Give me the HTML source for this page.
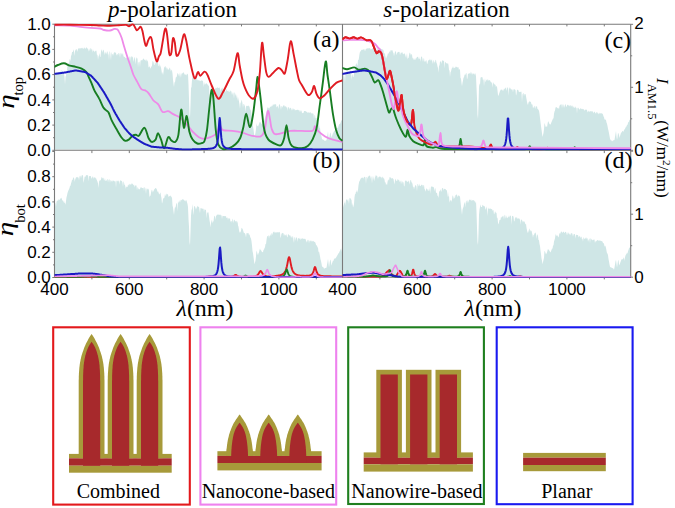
<!DOCTYPE html>
<html><head><meta charset="utf-8"><title>Figure</title>
<style>html,body{margin:0;padding:0;background:#fff;width:675px;height:508px;overflow:hidden}svg{display:block;position:absolute;left:0;top:0}</style>
</head><body>
<svg width="675" height="508" viewBox="0 0 675 508"><defs>
<clipPath id="ca"><rect x="54.5" y="23" width="288" height="127.5"/></clipPath>
<clipPath id="cb"><rect x="54.5" y="150" width="288" height="127.8"/></clipPath>
<clipPath id="cc"><rect x="342.5" y="23" width="288.2" height="127.5"/></clipPath>
<clipPath id="cc2"><rect x="342.5" y="23" width="80" height="100"/></clipPath>
<clipPath id="cd"><rect x="342.5" y="150" width="288.2" height="127.8"/></clipPath>
</defs><path d="M54.5 149.6 L54.5 76.5 L55 77.1 L55.5 74.5 L56 74.5 L56.5 73.6 L57 73 L57.5 72.6 L58 72.4 L58.5 72.3 L59 72.4 L59.5 71.7 L60 72.4 L60.5 70.6 L61 73.4 L61.5 69.7 L62 71.2 L62.5 71.2 L63 72.6 L63.5 72.4 L64 73.5 L64.5 76.7 L65 84.6 L65.5 76.8 L66 75.2 L66.5 72.7 L67 70 L67.5 65.2 L68 63.7 L68.5 62.6 L69 64.3 L69.5 59.7 L70 58.9 L70.5 61.5 L71 56 L71.5 55.1 L72 52.2 L72.5 51.8 L73 52.1 L73.5 49.2 L74 51.3 L74.5 56.1 L75 51 L75.5 49.3 L76 51.1 L76.5 48.7 L77 49.4 L77.5 52.1 L78 48.7 L78.5 48.6 L79 48.2 L79.5 47.9 L80 49.6 L80.5 48 L81 48 L81.5 48.5 L82 47.5 L82.5 48.7 L83 47.5 L83.5 48.7 L84 49.1 L84.5 47.3 L85 48 L85.5 49 L86 47.9 L86.5 47.1 L87 48.2 L87.5 48.7 L88 48.2 L88.5 51.8 L89 48.8 L89.5 51.3 L90 48 L90.5 48.2 L91 50.7 L91.5 49 L92 48.6 L92.5 52.7 L93 49.3 L93.5 50.9 L94 50.9 L94.5 52.4 L95 50.6 L95.5 51.4 L96 50.2 L96.5 51.3 L97 55.7 L97.5 54.3 L98 60 L98.5 56.4 L99 55.3 L99.5 53 L100 56.7 L100.5 57 L101 51.5 L101.5 50.1 L102 49.2 L102.5 52.8 L103 50.6 L103.5 49.5 L104 51.3 L104.5 55.2 L105 51.5 L105.5 53.9 L106 51.2 L106.5 54.5 L107 52.3 L107.5 50.9 L108 55.2 L108.5 52.9 L109 60.6 L109.5 51.5 L110 51.6 L110.5 55.8 L111 60.5 L111.5 51.7 L112 54 L112.5 54.1 L113 56 L113.5 54 L114 52.4 L114.5 52.3 L115 52.4 L115.5 52.5 L116 53 L116.5 55.8 L117 54 L117.5 54.1 L118 55.7 L118.5 52.9 L119 53.1 L119.5 54 L120 58.1 L120.5 53.8 L121 52.4 L121.5 54.9 L122 52.7 L122.5 54.9 L123 53 L123.5 56.4 L124 56.6 L124.5 56.9 L125 57.1 L125.5 58.2 L126 58.1 L126.5 57.7 L127 57.6 L127.5 57.5 L128 58.9 L128.5 58 L129 56.4 L129.5 56.4 L130 61.6 L130.5 57.4 L131 56.3 L131.5 56.3 L132 58.1 L132.5 56.3 L133 57.5 L133.5 61.9 L134 59.4 L134.5 56.9 L135 57.7 L135.5 64.4 L136 59.7 L136.5 57.3 L137 57.9 L137.5 58.8 L138 67.4 L138.5 61.9 L139 62.4 L139.5 61.2 L140 67.3 L140.5 61.1 L141 60.1 L141.5 60.2 L142 60.6 L142.5 59.9 L143 58.8 L143.5 58.5 L144 59.3 L144.5 60.3 L145 59.3 L145.5 61.3 L146 59.3 L146.5 59.8 L147 62.1 L147.5 60 L148 61.4 L148.5 67.2 L149 67.3 L149.5 65.9 L150 67.8 L150.5 68.7 L151 67 L151.5 66.5 L152 65.4 L152.5 60.9 L153 61.2 L153.5 62.1 L154 65.1 L154.5 65 L155 61.3 L155.5 63.9 L156 61.9 L156.5 61.4 L157 62 L157.5 62.7 L158 62.8 L158.5 66 L159 66.2 L159.5 63.3 L160 68.1 L160.5 64.9 L161 67.6 L161.5 70.4 L162 74.1 L162.5 71.8 L163 75.2 L163.5 72.1 L164 68.1 L164.5 67.1 L165 66.5 L165.5 66.1 L166 68.6 L166.5 66.7 L167 70.6 L167.5 67.5 L168 69.6 L168.5 69.2 L169 70.1 L169.5 67.4 L170 68 L170.5 69.8 L171 71.8 L171.5 69.4 L172 70.3 L172.5 73.5 L173 79.6 L173.5 83.7 L174 87 L174.5 82 L175 82.6 L175.5 79.1 L176 76.8 L176.5 77.6 L177 75.3 L177.5 73 L178 73.6 L178.5 74.4 L179 76.5 L179.5 72.3 L180 78.2 L180.5 72.7 L181 77.6 L181.5 73.1 L182 74.3 L182.5 72.7 L183 73 L183.5 72.1 L184 73.2 L184.5 74.1 L185 75.2 L185.5 74.5 L186 74.3 L186.5 75.7 L187 73.3 L187.5 74.6 L188 74 L188.5 84.2 L189 99.3 L189.5 114.9 L190 117.3 L190.5 105.3 L191 87.9 L191.5 87 L192 79.9 L192.5 76.1 L193 76.9 L193.5 76.9 L194 79 L194.5 80 L195 80.6 L195.5 78.8 L196 77.8 L196.5 78 L197 80.8 L197.5 79.1 L198 80.7 L198.5 79.7 L199 80.7 L199.5 80 L200 81.4 L200.5 80.7 L201 80.6 L201.5 80.5 L202 80.2 L202.5 81.1 L203 80.7 L203.5 87.3 L204 81.4 L204.5 84 L205 84.9 L205.5 83.7 L206 83.5 L206.5 83 L207 84.2 L207.5 84.4 L208 84.6 L208.5 86.1 L209 85.8 L209.5 96.5 L210 98.4 L210.5 95.5 L211 93.9 L211.5 92.7 L212 92.2 L212.5 91.9 L213 89.3 L213.5 89.1 L214 91.5 L214.5 89 L215 89.5 L215.5 88.1 L216 87.6 L216.5 88.3 L217 88 L217.5 87 L218 88 L218.5 87.8 L219 88.3 L219.5 87 L220 89.1 L220.5 92.2 L221 88.3 L221.5 89.7 L222 87.4 L222.5 88.1 L223 90.9 L223.5 90.7 L224 89 L224.5 91.2 L225 92.8 L225.5 91 L226 91.5 L226.5 88.8 L227 90.5 L227.5 90.9 L228 90.7 L228.5 91.9 L229 89.6 L229.5 92.1 L230 92 L230.5 90.6 L231 90.8 L231.5 92.1 L232 95.2 L232.5 93.4 L233 92.1 L233.5 93.8 L234 98.8 L234.5 92.4 L235 92.4 L235.5 95.9 L236 93.8 L236.5 98.4 L237 94.6 L237.5 101 L238 96.8 L238.5 99.5 L239 101.4 L239.5 104.6 L240 109 L240.5 102.5 L241 102.7 L241.5 99.6 L242 100.9 L242.5 103.7 L243 108.1 L243.5 104.1 L244 103.9 L244.5 105.3 L245 106.6 L245.5 111.9 L246 106.4 L246.5 105.9 L247 105.5 L247.5 106.3 L248 105.7 L248.5 105.4 L249 106.6 L249.5 106.4 L250 109.4 L250.5 109.5 L251 110.7 L251.5 114.2 L252 119.1 L252.5 122.1 L253 126.4 L253.5 129.6 L254 133.3 L254.5 137.7 L255 135.2 L255.5 132.4 L256 128.9 L256.5 123.1 L257 126 L257.5 125.4 L258 126.8 L258.5 125.2 L259 124.1 L259.5 122.4 L260 121.7 L260.5 122.6 L261 123.1 L261.5 124.2 L262 124.3 L262.5 125.4 L263 123.4 L263.5 123.2 L264 121.5 L264.5 119.7 L265 117.7 L265.5 115.6 L266 113.7 L266.5 112 L267 109.3 L267.5 107 L268 108 L268.5 107.5 L269 109 L269.5 107.8 L270 107.3 L270.5 106.8 L271 106.2 L271.5 106.8 L272 104.9 L272.5 106.6 L273 103.7 L273.5 105.5 L274 103.8 L274.5 104.9 L275 103.7 L275.5 104.7 L276 103.8 L276.5 107.5 L277 106.7 L277.5 105.8 L278 106.9 L278.5 109 L279 104.2 L279.5 104.2 L280 105.3 L280.5 107.1 L281 109.9 L281.5 106 L282 106.3 L282.5 107.7 L283 105.6 L283.5 105.5 L284 105.5 L284.5 105.6 L285 107.6 L285.5 105.9 L286 106.3 L286.5 108 L287 106.6 L287.5 111 L288 106.9 L288.5 107.5 L289 107.3 L289.5 109.7 L290 107.6 L290.5 107.9 L291 108.2 L291.5 110.7 L292 107.8 L292.5 109.3 L293 110.5 L293.5 108.2 L294 109.2 L294.5 108.9 L295 110.8 L295.5 109.7 L296 110.2 L296.5 109.8 L297 110.3 L297.5 109.8 L298 109.5 L298.5 110.5 L299 110.1 L299.5 110.6 L300 112.5 L300.5 110.6 L301 110.4 L301.5 110.7 L302 113.1 L302.5 113.3 L303 112.4 L303.5 113.2 L304 110.9 L304.5 110.9 L305 111.1 L305.5 111.3 L306 111.2 L306.5 112.1 L307 111.8 L307.5 113.2 L308 111.8 L308.5 112.9 L309 112.1 L309.5 112.9 L310 112.6 L310.5 112.3 L311 112.7 L311.5 113.6 L312 113.4 L312.5 113.6 L313 113.2 L313.5 114 L314 118.9 L314.5 115.2 L315 115.1 L315.5 118.6 L316 118.1 L316.5 117.7 L317 120.7 L317.5 118.7 L318 119.9 L318.5 122.3 L319 124.1 L319.5 128 L320 127.7 L320.5 132.2 L321 133.7 L321.5 136.5 L322 138.9 L322.5 139.4 L323 139.6 L323.5 139.8 L324 140.3 L324.5 140.8 L325 140.8 L325.5 141 L326 140 L326.5 140.5 L327 136.7 L327.5 134.5 L328 131.2 L328.5 136.9 L329 139.7 L329.5 136.3 L330 133 L330.5 132.4 L331 134.9 L331.5 137.6 L332 136.1 L332.5 134.6 L333 133.1 L333.5 132.6 L334 131.3 L334.5 130.6 L335 130.7 L335.5 131 L336 129.9 L336.5 129.6 L337 128.8 L337.5 127.6 L338 127.9 L338.5 126.1 L339 124.6 L339.5 124 L340 124 L340.5 122.9 L341 121.3 L341.5 120.4 L342 119.7 L342.5 119 L342.7 149.6Z" fill="#cfe6e6" clip-path="url(#ca)"/>
<path d="M54.5 277.2 L54.5 204.1 L55 202.7 L55.5 203.4 L56 206.8 L56.5 201.8 L57 201 L57.5 200.2 L58 200.9 L58.5 199.6 L59 199.3 L59.5 200 L60 199.4 L60.5 198.1 L61 198.7 L61.5 197.6 L62 199.5 L62.5 201 L63 199.9 L63.5 202.8 L64 200.8 L64.5 202.9 L65 202.9 L65.5 204.7 L66 201 L66.5 197.2 L67 195.5 L67.5 193.1 L68 191.5 L68.5 190.3 L69 189.2 L69.5 188.1 L70 186 L70.5 185.7 L71 183.5 L71.5 181.9 L72 180 L72.5 180.1 L73 178.2 L73.5 177 L74 178.6 L74.5 181.9 L75 177.5 L75.5 179.9 L76 176.9 L76.5 177.5 L77 176.9 L77.5 176.8 L78 178.2 L78.5 176.9 L79 180.5 L79.5 176.7 L80 175.5 L80.5 176 L81 178.2 L81.5 175.9 L82 175 L82.5 175.4 L83 175 L83.5 183 L84 180.4 L84.5 177.3 L85 176.2 L85.5 177 L86 174.9 L86.5 175.1 L87 175.7 L87.5 175.2 L88 174.7 L88.5 181.4 L89 175.9 L89.5 176.3 L90 176 L90.5 176 L91 176.5 L91.5 178.7 L92 178.1 L92.5 176.8 L93 176.2 L93.5 178.9 L94 176.9 L94.5 178 L95 176.7 L95.5 178.5 L96 177.9 L96.5 179.5 L97 180.6 L97.5 181.7 L98 183.6 L98.5 188 L99 181.5 L99.5 181.1 L100 179.6 L100.5 180.8 L101 179.5 L101.5 177.2 L102 177.3 L102.5 178.3 L103 178.6 L103.5 177.4 L104 180.8 L104.5 180 L105 178.1 L105.5 181.3 L106 180.4 L106.5 180.8 L107 179.6 L107.5 178.8 L108 182.6 L108.5 180.1 L109 179.4 L109.5 179.3 L110 182.9 L110.5 179.9 L111 180.4 L111.5 180.7 L112 182.1 L112.5 181 L113 179.9 L113.5 181.1 L114 180.8 L114.5 181.1 L115 181.9 L115.5 180.5 L116 188 L116.5 180.4 L117 180.9 L117.5 180.4 L118 181.9 L118.5 180.8 L119 180.5 L119.5 184.8 L120 180.6 L120.5 180.5 L121 180.6 L121.5 181 L122 181.2 L122.5 182.8 L123 187 L123.5 180.9 L124 182.4 L124.5 184.9 L125 184.8 L125.5 189 L126 185.8 L126.5 187.4 L127 186.7 L127.5 187.3 L128 184.5 L128.5 184.7 L129 186 L129.5 184 L130 183.8 L130.5 184.4 L131 185 L131.5 183.5 L132 183.6 L132.5 183.7 L133 184.5 L133.5 185.6 L134 184.3 L134.5 187.4 L135 185.1 L135.5 185.9 L136 185 L136.5 186.1 L137 190.4 L137.5 187.3 L138 187.5 L138.5 188.9 L139 189.6 L139.5 189.3 L140 189 L140.5 187.4 L141 187.2 L141.5 187.4 L142 188 L142.5 188.1 L143 188.3 L143.5 187.2 L144 191.2 L144.5 187 L145 187.5 L145.5 188.9 L146 194 L146.5 187.8 L147 190.1 L147.5 188.2 L148 189.4 L148.5 188.4 L149 190.8 L149.5 197.5 L150 195.5 L150.5 196 L151 192.8 L151.5 190.6 L152 189.5 L152.5 192.7 L153 189.7 L153.5 192.1 L154 189.9 L154.5 188.9 L155 188.8 L155.5 188 L156 187.9 L156.5 189.1 L157 189.8 L157.5 192.2 L158 190.9 L158.5 192.4 L159 193.9 L159.5 194.6 L160 193.1 L160.5 192.4 L161 195.7 L161.5 198.2 L162 203.8 L162.5 201.9 L163 198.8 L163.5 198.2 L164 198.3 L164.5 197.3 L165 193.8 L165.5 195.6 L166 196.1 L166.5 193.7 L167 193.8 L167.5 194.6 L168 194.2 L168.5 197.3 L169 195.9 L169.5 196 L170 196.7 L170.5 195.5 L171 195.8 L171.5 197.5 L172 197.3 L172.5 205.5 L173 207.4 L173.5 211.2 L174 215.1 L174.5 209.8 L175 207 L175.5 207.8 L176 205.1 L176.5 203.2 L177 203.3 L177.5 211.4 L178 200.8 L178.5 202.7 L179 202.4 L179.5 200.1 L180 202.7 L180.5 200.6 L181 199.6 L181.5 200.5 L182 199.7 L182.5 199.2 L183 199.2 L183.5 199.5 L184 200.2 L184.5 201.1 L185 199.8 L185.5 201.8 L186 200.1 L186.5 200.4 L187 202.3 L187.5 203.9 L188 207.1 L188.5 219.1 L189 227.1 L189.5 242.1 L190 245.2 L190.5 232 L191 215.8 L191.5 210.3 L192 208.6 L192.5 204 L193 210.8 L193.5 215.3 L194 206.8 L194.5 206.1 L195 206.5 L195.5 208 L196 209.7 L196.5 208.1 L197 206.9 L197.5 205.6 L198 207.3 L198.5 206.7 L199 206.5 L199.5 210 L200 213.2 L200.5 208.1 L201 208.2 L201.5 208.5 L202 208.2 L202.5 208.7 L203 209.1 L203.5 208.4 L204 212.2 L204.5 209 L205 209.9 L205.5 209.6 L206 210.2 L206.5 218.4 L207 211.5 L207.5 213.4 L208 212 L208.5 212.8 L209 216.2 L209.5 220.3 L210 223 L210.5 227.6 L211 223 L211.5 221.1 L212 219.4 L212.5 223.6 L213 221.4 L213.5 221.4 L214 217.2 L214.5 215.8 L215 216 L215.5 219.9 L216 216.3 L216.5 215.5 L217 214.6 L217.5 214.8 L218 214.5 L218.5 214.4 L219 214.9 L219.5 214.7 L220 214.6 L220.5 214.7 L221 215.8 L221.5 214.9 L222 219.3 L222.5 215.4 L223 216.2 L223.5 216.1 L224 216 L224.5 216.2 L225 216 L225.5 216.3 L226 216.2 L226.5 218.1 L227 218 L227.5 217.2 L228 220.2 L228.5 217.7 L229 218.7 L229.5 218.5 L230 218.2 L230.5 221.9 L231 220.9 L231.5 221 L232 223.1 L232.5 218.5 L233 219.8 L233.5 223.3 L234 219.5 L234.5 219.9 L235 220.8 L235.5 221.7 L236 220.8 L236.5 221 L237 223 L237.5 221 L238 225.5 L238.5 226.8 L239 230.1 L239.5 233.1 L240 231.3 L240.5 232.8 L241 230.8 L241.5 227.8 L242 228.2 L242.5 228.8 L243 229.9 L243.5 231.8 L244 233.3 L244.5 232.7 L245 233.5 L245.5 234.7 L246 237.6 L246.5 233.3 L247 232.9 L247.5 233.6 L248 232.8 L248.5 233.3 L249 235.2 L249.5 234.1 L250 236.2 L250.5 237.7 L251 238.6 L251.5 241.2 L252 245.4 L252.5 250.9 L253 253.2 L253.5 256.9 L254 260.7 L254.5 264.3 L255 262.4 L255.5 260.4 L256 256.2 L256.5 250.5 L257 252 L257.5 253.9 L258 255.2 L258.5 253.3 L259 252.5 L259.5 249.9 L260 248.6 L260.5 250 L261 250.2 L261.5 251 L262 252.2 L262.5 252.1 L263 252.3 L263.5 249.8 L264 249.7 L264.5 247.9 L265 247.3 L265.5 243.8 L266 244.3 L266.5 239.9 L267 236.8 L267.5 236.1 L268 236.3 L268.5 234.7 L269 238.8 L269.5 235.7 L270 235.7 L270.5 233.9 L271 236.4 L271.5 233.7 L272 232.8 L272.5 235.3 L273 232.2 L273.5 232.2 L274 231.3 L274.5 232.3 L275 233 L275.5 231.9 L276 232.8 L276.5 232.4 L277 231.7 L277.5 232.4 L278 232.3 L278.5 232 L279 232.9 L279.5 231.7 L280 232.3 L280.5 238.3 L281 236.4 L281.5 233.6 L282 233.5 L282.5 232.7 L283 233.3 L283.5 233.3 L284 236.2 L284.5 233.8 L285 235.5 L285.5 234.6 L286 236 L286.5 233.7 L287 236.8 L287.5 237.5 L288 234.3 L288.5 234.3 L289 234.9 L289.5 235.6 L290 235.6 L290.5 235.5 L291 237.8 L291.5 236.1 L292 238.4 L292.5 236.5 L293 235.9 L293.5 240.2 L294 243.1 L294.5 236.8 L295 237.8 L295.5 241.1 L296 236.8 L296.5 237.7 L297 238 L297.5 242.1 L298 237.9 L298.5 238.2 L299 238.6 L299.5 239 L300 237.6 L300.5 240.2 L301 238.3 L301.5 239 L302 238.4 L302.5 238 L303 239.2 L303.5 238.6 L304 239.1 L304.5 238.7 L305 238.7 L305.5 238.9 L306 240.5 L306.5 241.4 L307 242.8 L307.5 239.6 L308 240.7 L308.5 239.5 L309 243.4 L309.5 240.2 L310 241.6 L310.5 240.1 L311 241.7 L311.5 240.2 L312 242.1 L312.5 241 L313 240.7 L313.5 241.1 L314 242.1 L314.5 241.7 L315 242.1 L315.5 243 L316 244.7 L316.5 245.4 L317 245.4 L317.5 247.6 L318 247.6 L318.5 252.6 L319 251.3 L319.5 253.7 L320 256.3 L320.5 259.3 L321 261 L321.5 263.5 L322 266.4 L322.5 266.7 L323 267.1 L323.5 267.5 L324 268.8 L324.5 268.4 L325 268 L325.5 267.9 L326 267.8 L326.5 267.7 L327 264.8 L327.5 262 L328 258.7 L328.5 263.1 L329 267.4 L329.5 263.8 L330 260.5 L330.5 259.4 L331 262.3 L331.5 265.8 L332 263.6 L332.5 262.1 L333 260.6 L333.5 260.9 L334 259 L334.5 258.3 L335 259 L335.5 257.9 L336 257.7 L336.5 256.7 L337 256.1 L337.5 255 L338 254.2 L338.5 253.3 L339 252.9 L339.5 251.6 L340 251 L340.5 249.4 L341 248.4 L341.5 252.2 L342 246.8 L342.5 247.5 L342.7 277.2Z" fill="#cfe6e6" clip-path="url(#cb)"/>
<path d="M342.5 149.6 L342.5 76.9 L343 77 L343.5 75 L344 75.1 L344.5 76.9 L345 82.9 L345.5 72.5 L346 72.1 L346.5 71.5 L347 72.1 L347.5 70.9 L348 71.5 L348.5 72 L349 70.5 L349.5 71.5 L350 70.8 L350.5 70.4 L351 72.6 L351.5 80.1 L352 74 L352.5 74.7 L353 77.1 L353.5 77.1 L354 73.5 L354.5 70.6 L355 68.9 L355.5 65.6 L356 64.1 L356.5 63.1 L357 65.3 L357.5 65.5 L358 59.8 L358.5 60.2 L359 57.8 L359.5 53.9 L360 51.7 L360.5 51.6 L361 50.5 L361.5 49.9 L362 49.4 L362.5 49.8 L363 49.9 L363.5 49.2 L364 49.2 L364.5 49.5 L365 51.6 L365.5 49.7 L366 48.7 L366.5 48.6 L367 48.9 L367.5 48.2 L368 48.1 L368.5 48.8 L369 47.7 L369.5 48.5 L370 48.1 L370.5 49.3 L371 49.5 L371.5 49.1 L372 49.1 L372.5 47.9 L373 48.9 L373.5 47.7 L374 48.4 L374.5 47.6 L375 47.9 L375.5 47 L376 47.5 L376.5 52.9 L377 47.8 L377.5 49.5 L378 49.4 L378.5 50 L379 49.1 L379.5 49.7 L380 48.5 L380.5 48.6 L381 48.9 L381.5 49 L382 49 L382.5 49.2 L383 50.4 L383.5 49.5 L384 54.4 L384.5 52.7 L385 53.4 L385.5 58.8 L386 55.2 L386.5 58.8 L387 56.7 L387.5 54.9 L388 53 L388.5 54 L389 52.3 L389.5 51 L390 52.7 L390.5 50.6 L391 50 L391.5 50.8 L392 50.1 L392.5 50.4 L393 52.3 L393.5 52.9 L394 56.3 L394.5 53.7 L395 52 L395.5 51 L396 52 L396.5 55.2 L397 53.6 L397.5 52.3 L398 52.3 L398.5 51.8 L399 51.9 L399.5 51.8 L400 55.3 L400.5 53.5 L401 52.2 L401.5 52.9 L402 52.2 L402.5 52.6 L403 54.5 L403.5 54.1 L404 53.6 L404.5 53.2 L405 54.4 L405.5 57.8 L406 53.6 L406.5 58.2 L407 52.7 L407.5 59.4 L408 57.7 L408.5 58.2 L409 55.3 L409.5 52.7 L410 52.8 L410.5 54.1 L411 55.8 L411.5 53.8 L412 54.5 L412.5 58.8 L413 57.4 L413.5 60.3 L414 58.1 L414.5 59.5 L415 60.3 L415.5 59.2 L416 57.6 L416.5 58.7 L417 56.6 L417.5 56.9 L418 57 L418.5 59.4 L419 56.2 L419.5 59.2 L420 58.4 L420.5 61.7 L421 56.9 L421.5 56.6 L422 56.8 L422.5 59.3 L423 62 L423.5 58.7 L424 57.9 L424.5 62.2 L425 60.7 L425.5 62 L426 59.7 L426.5 60.8 L427 63.9 L427.5 63.6 L428 60.8 L428.5 60.3 L429 60.2 L429.5 60.1 L430 58.6 L430.5 61 L431 59.5 L431.5 60.8 L432 59 L432.5 64.1 L433 61.1 L433.5 59.7 L434 63.9 L434.5 61.3 L435 62.4 L435.5 59.7 L436 59.9 L436.5 63 L437 63.7 L437.5 66.6 L438 68 L438.5 72.7 L439 65.8 L439.5 65.5 L440 61.2 L440.5 61.9 L441 60.8 L441.5 64 L442 61.3 L442.5 60.3 L443 60.2 L443.5 61.2 L444 60.4 L444.5 68.6 L445 61.8 L445.5 62.3 L446 62.9 L446.5 63.4 L447 62.9 L447.5 64 L448 63 L448.5 65.1 L449 70 L449.5 70.5 L450 77 L450.5 72.2 L451 71.6 L451.5 69.3 L452 68.1 L452.5 67.8 L453 66.1 L453.5 67.7 L454 68.5 L454.5 67.4 L455 68 L455.5 66.9 L456 66.3 L456.5 67.2 L457 67.1 L457.5 67.8 L458 66.9 L458.5 67.6 L459 70.5 L459.5 68.8 L460 69.6 L460.5 77.9 L461 78.6 L461.5 83.1 L462 86.3 L462.5 82.7 L463 80.6 L463.5 77.8 L464 77.3 L464.5 75.1 L465 74.2 L465.5 74.9 L466 72.9 L466.5 73.2 L467 79.5 L467.5 78 L468 73.2 L468.5 74.1 L469 73.4 L469.5 72.7 L470 74.6 L470.5 71.6 L471 74.2 L471.5 71.7 L472 75 L472.5 73.7 L473 73 L473.5 74 L474 73.4 L474.5 75 L475 72.9 L475.5 74 L476 76.3 L476.5 87.6 L477 98.9 L477.5 114.7 L478 119 L478.5 104.7 L479 87.1 L479.5 83.2 L480 84.9 L480.5 77.9 L481 77 L481.5 77.3 L482 77.3 L482.5 77.2 L483 80.5 L483.5 78.8 L484 86.3 L484.5 81.1 L485 78.2 L485.5 82 L486 81.3 L486.5 79.5 L487 79.9 L487.5 79 L488 81.4 L488.5 79.6 L489 80.8 L489.5 80 L490 80.2 L490.5 81.8 L491 81.7 L491.5 82.6 L492 83.6 L492.5 87.8 L493 81.7 L493.5 83.4 L494 83.6 L494.5 84.4 L495 84.5 L495.5 85 L496 87.4 L496.5 85.7 L497 86.4 L497.5 90.8 L498 95 L498.5 95.9 L499 93.9 L499.5 92.6 L500 91.1 L500.5 90.2 L501 89.3 L501.5 89.8 L502 89.8 L502.5 90.9 L503 89 L503.5 91.2 L504 88.2 L504.5 89.4 L505 88.2 L505.5 88.3 L506 87 L506.5 90.9 L507 89 L507.5 87 L508 88.1 L508.5 95.7 L509 87.2 L509.5 87.8 L510 89.5 L510.5 87.5 L511 89.8 L511.5 89.1 L512 89.9 L512.5 89.2 L513 92.5 L513.5 88.9 L514 89.8 L514.5 88.7 L515 90.1 L515.5 89.8 L516 95.7 L516.5 94 L517 89.8 L517.5 89.8 L518 90.1 L518.5 90.5 L519 92.4 L519.5 91.7 L520 91.9 L520.5 91.9 L521 91.2 L521.5 92.2 L522 102.2 L522.5 94.5 L523 93.4 L523.5 92.7 L524 96.5 L524.5 93.7 L525 94.6 L525.5 93.7 L526 96.2 L526.5 99 L527 101.9 L527.5 104.1 L528 104.9 L528.5 102.5 L529 102.1 L529.5 100.9 L530 101.9 L530.5 101.5 L531 102.3 L531.5 104.4 L532 104.2 L532.5 104.8 L533 108.4 L533.5 106.6 L534 108.6 L534.5 106 L535 105.7 L535.5 109.2 L536 105.7 L536.5 106.8 L537 106.3 L537.5 108.9 L538 109.1 L538.5 109.9 L539 110.8 L539.5 113.7 L540 118.1 L540.5 122 L541 126 L541.5 129.4 L542 133.2 L542.5 136.9 L543 135 L543.5 133.1 L544 129 L544.5 123 L545 124.3 L545.5 126.6 L546 126.9 L546.5 126 L547 127.3 L547.5 124.2 L548 121.5 L548.5 121.6 L549 122.9 L549.5 124 L550 124.6 L550.5 124.4 L551 123.4 L551.5 121.9 L552 121 L552.5 119.7 L553 118.5 L553.5 118.5 L554 113.8 L554.5 111.4 L555 110.6 L555.5 107.5 L556 107.2 L556.5 107 L557 107.7 L557.5 108.5 L558 107.6 L558.5 108.2 L559 109.3 L559.5 105.4 L560 105.5 L560.5 104.4 L561 104.5 L561.5 104.3 L562 108.3 L562.5 104.9 L563 103.9 L563.5 105.2 L564 107.9 L564.5 106.6 L565 104.8 L565.5 103.9 L566 105.9 L566.5 107.2 L567 105.6 L567.5 104.7 L568 104.7 L568.5 105.9 L569 104.5 L569.5 106.4 L570 105.5 L570.5 104.9 L571 107.1 L571.5 105.7 L572 105.4 L572.5 105.7 L573 107.9 L573.5 106 L574 107.7 L574.5 108 L575 106.3 L575.5 107 L576 108.3 L576.5 107.4 L577 113.6 L577.5 107.5 L578 108.3 L578.5 107.6 L579 109.5 L579.5 109.6 L580 108.7 L580.5 108.3 L581 108.5 L581.5 109.2 L582 108.5 L582.5 109.3 L583 109 L583.5 109.3 L584 109.4 L584.5 111.1 L585 109.5 L585.5 109.7 L586 109.7 L586.5 109.6 L587 110.3 L587.5 111.8 L588 112.4 L588.5 110.7 L589 110.7 L589.5 112.3 L590 111.1 L590.5 111.2 L591 111.6 L591.5 110.7 L592 112.6 L592.5 110.9 L593 111.6 L593.5 113.6 L594 111.9 L594.5 111.6 L595 112.6 L595.5 113.8 L596 112.5 L596.5 111.8 L597 114 L597.5 112 L598 113.3 L598.5 114.6 L599 112.6 L599.5 113.3 L600 113.9 L600.5 113 L601 113.3 L601.5 113.2 L602 113.5 L602.5 113.7 L603 114.6 L603.5 116.4 L604 117.1 L604.5 119.9 L605 118.6 L605.5 119.9 L606 120 L606.5 122.4 L607 123.8 L607.5 126.1 L608 128.7 L608.5 130.7 L609 133.3 L609.5 136 L610 138.8 L610.5 139.8 L611 140.6 L611.5 140.2 L612 141.6 L612.5 141.1 L613 140.5 L613.5 140.3 L614 140.3 L614.5 140 L615 137.1 L615.5 134.1 L616 131.1 L616.5 136.5 L617 139.7 L617.5 137.5 L618 132.7 L618.5 133.6 L619 134.9 L619.5 138.1 L620 135.9 L620.5 134.5 L621 132.7 L621.5 132.5 L622 131.8 L622.5 130.9 L623 131 L623.5 132.1 L624 130 L624.5 129.5 L625 128.8 L625.5 127.8 L626 126.6 L626.5 126.8 L627 124.8 L627.5 124.9 L628 123 L628.5 121.7 L629 121.9 L629.5 119.6 L630 120.3 L630.5 119.5 L630.7 149.6Z" fill="#cfe6e6" clip-path="url(#cc)"/>
<path d="M342.5 277.2 L342.5 208.7 L343 203.9 L343.5 207.8 L344 203.5 L344.5 202.9 L345 200.8 L345.5 205.8 L346 199.4 L346.5 199.5 L347 199.7 L347.5 200.9 L348 198.5 L348.5 201.1 L349 204.1 L349.5 197.6 L350 198.5 L350.5 197.9 L351 199.6 L351.5 199.8 L352 205.7 L352.5 202.7 L353 207.5 L353.5 206.3 L354 204.1 L354.5 197.3 L355 194.2 L355.5 194.1 L356 191.6 L356.5 192 L357 189.4 L357.5 193 L358 190.1 L358.5 185.2 L359 182.6 L359.5 181.1 L360 180.4 L360.5 178.7 L361 178.5 L361.5 177.6 L362 178.3 L362.5 177.3 L363 178 L363.5 178.7 L364 176.5 L364.5 176.9 L365 177.1 L365.5 177.8 L366 184.1 L366.5 177 L367 177.1 L367.5 179.1 L368 176.1 L368.5 176.9 L369 175.5 L369.5 176.1 L370 175.3 L370.5 178.9 L371 175.8 L371.5 177.7 L372 183.6 L372.5 178.5 L373 175.5 L373.5 180.3 L374 176 L374.5 181.4 L375 177.7 L375.5 176 L376 174.8 L376.5 176.3 L377 175.4 L377.5 177.3 L378 178.9 L378.5 176.7 L379 177.2 L379.5 175.9 L380 177.2 L380.5 176.3 L381 177.7 L381.5 177 L382 178.8 L382.5 176.6 L383 176.9 L383.5 178.6 L384 178.3 L384.5 179.8 L385 182.7 L385.5 182.1 L386 184.9 L386.5 183.4 L387 185.5 L387.5 182.2 L388 179.8 L388.5 179.4 L389 181 L389.5 177.5 L390 176.7 L390.5 177.7 L391 177.7 L391.5 178.7 L392 178.3 L392.5 178.1 L393 178.7 L393.5 178.9 L394 181.9 L394.5 184.5 L395 179.9 L395.5 178.6 L396 180.7 L396.5 180.5 L397 181.5 L397.5 179.5 L398 179 L398.5 180.6 L399 179.4 L399.5 181.5 L400 181.9 L400.5 180.3 L401 184.2 L401.5 180 L402 184.3 L402.5 180.9 L403 182.3 L403.5 182.3 L404 186.5 L404.5 186.1 L405 180.4 L405.5 180.4 L406 181.6 L406.5 180.3 L407 181.9 L407.5 181.4 L408 181.9 L408.5 181 L409 180.5 L409.5 184.7 L410 182 L410.5 179.9 L411 180 L411.5 182.4 L412 182.6 L412.5 184.1 L413 186.9 L413.5 186.4 L414 189.6 L414.5 187.3 L415 186.3 L415.5 185 L416 185.3 L416.5 186.5 L417 191.5 L417.5 184 L418 184 L418.5 185.8 L419 186.4 L419.5 183.6 L420 186.3 L420.5 186.1 L421 185.6 L421.5 184.5 L422 184.9 L422.5 184.8 L423 187.2 L423.5 185 L424 185.1 L424.5 189 L425 189.5 L425.5 191.8 L426 189.8 L426.5 188.2 L427 188.8 L427.5 189.5 L428 190.9 L428.5 190.8 L429 188.5 L429.5 191.5 L430 186.3 L430.5 194 L431 186.5 L431.5 186.5 L432 186.8 L432.5 186.5 L433 187.2 L433.5 186.7 L434 188 L434.5 191.6 L435 188 L435.5 188.8 L436 193.1 L436.5 192.8 L437 192.8 L437.5 195.8 L438 196 L438.5 198 L439 192.6 L439.5 191.1 L440 190.8 L440.5 189.1 L441 191.8 L441.5 191.3 L442 188.3 L442.5 188.2 L443 187.7 L443.5 190.7 L444 188.5 L444.5 189 L445 189 L445.5 189 L446 190.1 L446.5 189.9 L447 191.1 L447.5 197.4 L448 191.5 L448.5 196.9 L449 195.7 L449.5 202.7 L450 200.7 L450.5 200.6 L451 199.6 L451.5 202.1 L452 199.8 L452.5 195.5 L453 195.7 L453.5 199.4 L454 195.7 L454.5 198.5 L455 198.1 L455.5 194.8 L456 195.5 L456.5 194.2 L457 194.8 L457.5 197.2 L458 195.7 L458.5 195.4 L459 195.6 L459.5 196.3 L460 196.6 L460.5 201.5 L461 206.5 L461.5 210.5 L462 214.9 L462.5 209.8 L463 208 L463.5 207 L464 204.3 L464.5 202.9 L465 201.7 L465.5 207.4 L466 200.6 L466.5 201.1 L467 203.4 L467.5 201.3 L468 199.8 L468.5 203.1 L469 200.2 L469.5 199.5 L470 199.8 L470.5 200.4 L471 199.1 L471.5 200.8 L472 200.8 L472.5 199.9 L473 200.5 L473.5 200.2 L474 200 L474.5 201.5 L475 201.2 L475.5 203.4 L476 201 L476.5 212 L477 227.7 L477.5 242.1 L478 244.9 L478.5 233.2 L479 215.1 L479.5 209.5 L480 207.1 L480.5 204.2 L481 206.9 L481.5 206.9 L482 206.9 L482.5 205.1 L483 204.8 L483.5 206.3 L484 205.8 L484.5 206.2 L485 207 L485.5 210 L486 208.4 L486.5 206.2 L487 210 L487.5 216 L488 207.3 L488.5 209 L489 208.2 L489.5 208.7 L490 209 L490.5 208.2 L491 208.9 L491.5 209.3 L492 208.8 L492.5 211 L493 209.8 L493.5 210.4 L494 214.5 L494.5 213.5 L495 211.3 L495.5 212.1 L496 213.2 L496.5 212.5 L497 218.5 L497.5 217.2 L498 222.7 L498.5 224.4 L499 222.4 L499.5 220.1 L500 220 L500.5 219.7 L501 216.6 L501.5 218 L502 216.5 L502.5 216.7 L503 215.6 L503.5 216.5 L504 219.5 L504.5 215.4 L505 214.6 L505.5 217.3 L506 218.8 L506.5 215.2 L507 218 L507.5 218.2 L508 216.6 L508.5 217.4 L509 215 L509.5 217.8 L510 215.8 L510.5 215.6 L511 216.5 L511.5 225 L512 216.3 L512.5 215.7 L513 216.2 L513.5 216.4 L514 221.2 L514.5 221.2 L515 217.7 L515.5 217 L516 218.7 L516.5 217.2 L517 217.2 L517.5 219 L518 218.3 L518.5 218.7 L519 218 L519.5 219.1 L520 219.7 L520.5 224.8 L521 218.8 L521.5 220.1 L522 220.3 L522.5 221 L523 222.7 L523.5 221 L524 221.5 L524.5 221.5 L525 223.1 L525.5 224.5 L526 223.8 L526.5 227.8 L527 230.2 L527.5 232.2 L528 233.1 L528.5 231.3 L529 229.4 L529.5 228.3 L530 231.9 L530.5 230 L531 230.7 L531.5 230.8 L532 233.1 L532.5 234.7 L533 237.8 L533.5 234.7 L534 235 L534.5 233.6 L535 232.8 L535.5 232.6 L536 234 L536.5 239.1 L537 234.3 L537.5 234.8 L538 236.1 L538.5 240.3 L539 240 L539.5 244.1 L540 246.1 L540.5 250.6 L541 254 L541.5 258.4 L542 260.7 L542.5 264.3 L543 262.1 L543.5 260.1 L544 257.7 L544.5 250.7 L545 251.6 L545.5 252.9 L546 254.6 L546.5 253.5 L547 252.6 L547.5 250.5 L548 248.8 L548.5 249.8 L549 250 L549.5 251 L550 251.7 L550.5 252.5 L551 251.2 L551.5 249.9 L552 248.5 L552.5 248.7 L553 245.6 L553.5 245.4 L554 241.5 L554.5 240 L555 238.2 L555.5 234.8 L556 234.3 L556.5 236.2 L557 235.2 L557.5 235.5 L558 236.7 L558.5 237.5 L559 235.2 L559.5 232.8 L560 234.1 L560.5 233 L561 231.4 L561.5 231.6 L562 232.5 L562.5 232.8 L563 231.9 L563.5 231.5 L564 232.2 L564.5 233.2 L565 232.3 L565.5 231.7 L566 231.9 L566.5 233.3 L567 235.4 L567.5 233.4 L568 231.9 L568.5 233.2 L569 233.9 L569.5 234.8 L570 232.7 L570.5 235.4 L571 233.6 L571.5 233.2 L572 232.9 L572.5 234.3 L573 236.7 L573.5 234.4 L574 233.9 L574.5 234.1 L575 234.6 L575.5 238.7 L576 234.8 L576.5 234.8 L577 235.2 L577.5 234.9 L578 235.1 L578.5 236.8 L579 237.5 L579.5 235.7 L580 236.1 L580.5 238.1 L581 237 L581.5 236.5 L582 239.4 L582.5 238.5 L583 241.7 L583.5 236.7 L584 238.5 L584.5 239.2 L585 238.1 L585.5 238.8 L586 237.1 L586.5 238.2 L587 239.1 L587.5 237.8 L588 242 L588.5 239.9 L589 239.3 L589.5 238.2 L590 243.2 L590.5 238.2 L591 238.5 L591.5 239.4 L592 239.7 L592.5 240.5 L593 239.6 L593.5 240.2 L594 238.9 L594.5 240.1 L595 242.9 L595.5 241.5 L596 240.7 L596.5 241.6 L597 240.1 L597.5 240 L598 240.8 L598.5 240.8 L599 240.1 L599.5 240.5 L600 241.2 L600.5 240.5 L601 240.7 L601.5 241.2 L602 241.1 L602.5 241.7 L603 242.9 L603.5 243.3 L604 243.6 L604.5 246.8 L605 245.6 L605.5 246.2 L606 247.9 L606.5 250.8 L607 253.2 L607.5 253.4 L608 255.2 L608.5 258.9 L609 261.5 L609.5 264.4 L610 266.7 L610.5 267.2 L611 267.5 L611.5 267.4 L612 267.9 L612.5 268.2 L613 268 L613.5 268.9 L614 269.8 L614.5 267.5 L615 264.4 L615.5 261.5 L616 259.8 L616.5 263.9 L617 267.5 L617.5 264.2 L618 260.7 L618.5 260 L619 263.8 L619.5 265.4 L620 263.6 L620.5 261.9 L621 260.7 L621.5 259.6 L622 258.9 L622.5 259.3 L623 259.4 L623.5 257.8 L624 257.6 L624.5 261.1 L625 257.2 L625.5 255.4 L626 254.4 L626.5 254.1 L627 252.6 L627.5 253.8 L628 251.2 L628.5 249.9 L629 248.2 L629.5 248.1 L630 246.7 L630.5 246.5 L630.7 277.2Z" fill="#cfe6e6" clip-path="url(#cd)"/>
<path d="M54.5 24.2H630.7M54.5 150.3H630.7M54.5 277.2H630.7M54.5 24.2V277.2M342.5 24.2V277.2M630.7 24.2V277.2" stroke="#7a7a7a" stroke-width="1.1" fill="none"/>
<path d="M91.9 24.2v2.2 M91.9 150.3v2.8 M91.9 277.2v2.2 M129.3 24.2v2.2 M129.3 150.3v2.8 M129.3 277.2v2.2 M166.7 24.2v2.2 M166.7 150.3v2.8 M166.7 277.2v2.2 M204.1 24.2v2.2 M204.1 150.3v2.8 M204.1 277.2v2.2 M241.5 24.2v2.2 M241.5 150.3v2.8 M241.5 277.2v2.2 M278.9 24.2v2.2 M278.9 150.3v2.8 M278.9 277.2v2.2 M316.3 24.2v2.2 M316.3 150.3v2.8 M316.3 277.2v2.2 M379.9 24.2v2.2 M379.9 150.3v2.8 M379.9 277.2v2.2 M417.3 24.2v2.2 M417.3 150.3v2.8 M417.3 277.2v2.2 M454.7 24.2v2.2 M454.7 150.3v2.8 M454.7 277.2v2.2 M492.1 24.2v2.2 M492.1 150.3v2.8 M492.1 277.2v2.2 M529.5 24.2v2.2 M529.5 150.3v2.8 M529.5 277.2v2.2 M566.9 24.2v2.2 M566.9 150.3v2.8 M566.9 277.2v2.2 M604.3 24.2v2.2 M604.3 150.3v2.8 M604.3 277.2v2.2 M54.5 150.3h-2.2 M54.5 277.5h-2.2 M54.5 137.7h-1.5 M54.5 264.9h-1.5 M54.5 125.1h-2.2 M54.5 252.3h-2.2 M54.5 112.5h-1.5 M54.5 239.7h-1.5 M54.5 99.9h-2.2 M54.5 227.1h-2.2 M54.5 87.2h-1.5 M54.5 214.5h-1.5 M54.5 74.6h-2.2 M54.5 201.9h-2.2 M54.5 62h-1.5 M54.5 189.3h-1.5 M54.5 49.4h-2.2 M54.5 176.7h-2.2 M54.5 36.8h-1.5 M54.5 164.1h-1.5 M54.5 24.2h-2.2 M54.5 151.5h-2.2 M630.7 150.3h2.4 M630.7 118.8h1.5 M630.7 87.3h2.4 M630.7 55.8h1.5 M630.7 24.3h2.4 M630.7 277.2h2.4 M630.7 245.7h1.5 M630.7 214.2h2.4 M630.7 182.7h1.5 M630.7 151.2h2.4" stroke="#7a7a7a" stroke-width="1" fill="none"/>
<path d="M54.5 25.3C57.1 25.4 64.5 25.2 70 25.6C75.5 26 82.5 27.2 87.5 27.7C92.5 28.2 97.2 28.1 100 28.5C102.8 28.9 102.3 29.7 104 30C105.7 30.3 108.3 30.7 110 30.5C111.7 30.3 113.2 29.1 114.4 28.9C115.6 28.7 116.3 28.9 117.1 29.3C117.8 29.8 118.2 30.2 118.9 31.6C119.7 33 120.7 35.3 121.6 37.8C122.5 40.3 123.3 43.8 124.2 46.7C125.1 49.7 126.1 53 126.9 55.5C127.7 58 128.3 59.8 129.1 62C129.9 64.2 130.8 66.8 131.5 69C132.2 71.2 132.5 72.8 133.5 75C134.5 77.2 136.1 79.7 137.4 82.1C138.7 84.5 140.1 87.8 141.4 89.2C142.7 90.6 144.1 89.8 145.3 90.4C146.5 91.1 147.2 91.5 148.5 93.1C149.8 94.7 151.9 98.6 153.2 100.2C154.5 101.8 155.4 101.8 156.3 102.6C157.2 103.4 157.6 103.3 158.7 104.9C159.8 106.5 161 111 162.6 112C164.2 113 166.3 110.8 168.2 111.2C170 111.6 171.7 113.4 173.7 114.4C175.7 115.5 177.9 115.9 180 117.5C182.1 119.1 184.2 121.4 186.3 123.8C188.4 126.2 190.5 129.5 192.6 131.7C194.7 133.9 197 136 198.9 137.2C200.8 138.4 202.1 138.8 204 138.8C205.9 138.8 208.2 138.1 210.3 137.2C212.4 136.3 215 135.3 216.6 133.3C218.2 131.3 218.6 125.9 219.7 125.4C220.8 124.9 220.8 129.2 222.9 130.1C225 131 229.2 130.5 232.3 130.9C235.5 131.3 238.7 131.7 241.8 132.5C245 133.3 248 134.9 251.2 135.6C254.3 136.2 258.5 137.3 260.7 136.4C262.9 135.5 263.4 134.3 264.6 130.1C265.8 125.9 266.9 112.9 267.8 111.2C268.7 109.5 269.5 117.1 270.1 120C270.7 122.9 270.8 126.2 271.6 128.5C272.4 130.8 273.1 133.2 274.7 134C276.3 134.8 278.4 133.8 281 133.3C283.6 132.8 287.1 131.3 290.5 130.9C293.9 130.5 297.8 130.9 301.5 130.9C305.2 130.9 310.3 131.7 312.5 130.9C314.7 130.1 314.1 126.3 314.9 126.2C315.7 126.1 315.5 128.4 317.2 130.1C318.9 131.8 322.5 134.8 325.1 136.4C327.7 138 330.2 138.7 333 139.6C335.8 140.5 340.6 141.5 342.1 141.9" fill="none" stroke="#ee8ae8" stroke-width="1.8" stroke-linejoin="round" stroke-linecap="round" clip-path="url(#ca)"/>
<path d="M54.5 66.8C55.1 66.5 56.4 65.6 58 65C59.6 64.4 61.9 63.2 63.9 63.3C65.9 63.4 67.8 65 69.8 65.6C71.8 66.2 73.7 66.3 75.7 66.8C77.7 67.3 79.8 67.7 81.6 68.6C83.4 69.5 85.2 70.7 86.4 72.1C87.6 73.5 87.9 75.1 88.7 76.9C89.5 78.7 90.4 80.6 91.4 82.9C92.4 85.2 93.2 88.1 94.5 90.7C95.8 93.3 97.8 95.8 99.2 98.6C100.7 101.4 102 105.3 103.2 107.3C104.4 109.3 105.4 109.5 106.3 110.4C107.2 111.3 107.8 111.1 108.7 112.8C109.6 114.5 110.5 118 111.8 120.7C113.1 123.5 115 126.6 116.6 129.3C118.2 132.1 119.9 135.3 121.3 137.2C122.7 139.1 123.9 140.5 125.2 140.8C126.5 141.2 127.9 140.2 129.2 139.3C130.4 138.4 131.6 136.3 132.7 135.6C133.8 134.8 134.8 134.8 135.9 134.8C137 134.8 137.6 136.8 139 135.6C140.4 134.4 142.9 127.4 144.5 127.8C146.1 128.2 147.3 135.7 148.5 138C149.7 140.3 150.4 141.6 151.6 141.9C152.8 142.2 154.5 141 155.6 139.6C156.7 138.2 157 133.3 157.9 133.3C158.8 133.3 160.1 137.1 161.1 139.6C162.1 142.1 163 148.6 164.2 148.2C165.4 147.8 167 138.5 168.2 137.2C169.4 135.9 170.1 139.6 171.3 140.4C172.5 141.2 174 142.8 175.2 141.9C176.4 141 177.4 140.2 178.4 134.8C179.4 129.4 180.3 110.8 181.2 109.6C182.1 108.4 183 126.7 183.9 127.8C184.8 128.9 185.8 115.3 186.7 116C187.6 116.7 188.4 127.8 189.4 131.7C190.4 135.6 191.3 137.6 192.6 139.6C193.9 141.6 195.7 142.9 197.3 143.5C198.9 144.1 200.8 143.4 202 143C203.2 142.6 203.7 143.2 204.5 141C205.3 138.8 206.2 135.8 207 130C207.8 124.2 208.7 113.2 209.5 106.5C210.3 99.8 210.9 91.3 211.6 90C212.2 88.7 212.7 91.9 213.4 98.6C214.1 105.3 215 122.5 215.8 130.1C216.6 137.7 217 141.2 218.2 144.3C219.4 147.5 221.1 148.3 222.9 149C224.7 149.7 227.1 149 229.2 148.2C231.3 147.4 233.7 146 235.5 144.3C237.3 142.6 238.9 140.9 240.2 138C241.5 135.1 242.4 131.1 243.4 127C244.4 122.9 245.1 113.6 246.2 113.6C247.2 113.6 248.6 126.6 249.7 127C250.8 127.4 251.8 122 252.8 116C253.9 110 255.2 97.2 256 90.7C256.8 84.2 256.9 77.5 257.5 77C258.1 76.5 258.7 83.8 259.3 88C259.9 92.2 260.5 97.6 261 102C261.5 106.4 261.9 110.4 262.3 114.4C262.7 118.4 263.1 122.7 263.6 126C264.1 129.3 264.7 131.8 265.4 134C266.1 136.2 267.2 137.8 268 139C268.8 140.2 268.7 140.2 270.1 141.1C271.5 142 274.5 143.6 276.4 144.3C278.2 145 279.9 146.2 281.2 145.1C282.5 144 283.3 141.3 284.2 138C285.1 134.7 285.8 125.1 286.5 125.1C287.2 125.1 287.7 134.5 288.6 138C289.5 141.5 289.9 144.2 292 145.9C294.1 147.6 298.9 148.2 301.5 148.2C304.1 148.2 306 147.3 307.8 145.9C309.6 144.5 311.1 142.5 312.5 139.6C313.9 136.7 315.3 134 316.5 128.5C317.7 123 318.6 114.1 319.6 106.5C320.7 98.9 321.8 90.4 322.8 82.9C323.8 75.4 324.9 62.8 325.7 61.5C326.5 60.2 326.8 70.1 327.5 75C328.2 79.9 328.9 84.1 329.8 90.7C330.7 97.3 331.9 107.8 333 114.4C334.1 121 335.1 126.2 336.1 130.1C337.2 134 338.3 136.3 339.3 138C340.3 139.7 341.6 140 342.1 140.4" fill="none" stroke="#177d22" stroke-width="1.9" stroke-linejoin="round" stroke-linecap="round" clip-path="url(#ca)"/>
<path d="M54.5 73.9 L54.9 73.8 L55.3 73.8 L55.7 73.7 L56.1 73.7 L56.5 73.6 L56.9 73.6 L57.3 73.5 L57.7 73.5 L58.1 73.4 L58.5 73.4 L58.9 73.3 L59.3 73.3 L59.7 73.2 L60.1 73.2 L60.5 73.1 L60.9 73 L61.3 73 L61.7 72.9 L62.1 72.9 L62.5 72.8 L62.9 72.8 L63.3 72.7 L63.7 72.7 L64.1 72.6 L64.5 72.6 L64.9 72.5 L65.3 72.4 L65.7 72.4 L66.1 72.3 L66.5 72.2 L66.9 72.1 L67.3 72 L67.7 72 L68.1 71.9 L68.5 71.8 L68.9 71.7 L69.3 71.7 L69.7 71.6 L70.1 71.5 L70.5 71.4 L70.9 71.3 L71.3 71.3 L71.7 71.2 L72.1 71.1 L72.5 71 L72.9 70.9 L73.3 70.9 L73.7 70.8 L74.1 70.7 L74.5 70.6 L74.9 70.6 L75.3 70.5 L75.7 70.4 L76.1 70.5 L76.5 70.5 L76.9 70.6 L77.3 70.7 L77.7 70.8 L78.1 70.8 L78.5 70.9 L78.9 71 L79.3 71 L79.7 71.1 L80.1 71.2 L80.5 71.3 L80.9 71.3 L81.3 71.4 L81.7 71.5 L82.1 71.5 L82.5 71.6 L82.9 71.7 L83.3 71.8 L83.7 71.8 L84.1 71.9 L84.5 72 L84.9 72 L85.3 72.2 L85.7 72.4 L86.1 72.6 L86.5 72.9 L86.9 73.1 L87.3 73.4 L87.7 73.6 L88.1 73.9 L88.5 74.1 L88.9 74.4 L89.3 74.6 L89.7 74.8 L90.1 75.1 L90.5 75.3 L90.9 75.6 L91.3 75.9 L91.7 76.4 L92.1 76.8 L92.5 77.2 L92.9 77.7 L93.3 78.1 L93.7 78.5 L94.1 79 L94.5 79.4 L94.9 79.8 L95.3 80.3 L95.7 80.7 L96.1 81.2 L96.5 81.6 L96.9 82 L97.3 82.5 L97.7 82.9 L98.1 83.5 L98.5 84.1 L98.9 84.7 L99.3 85.3 L99.7 85.9 L100.1 86.5 L100.5 87.1 L100.9 87.7 L101.3 88.3 L101.7 88.9 L102.1 89.5 L102.5 90.1 L102.9 90.7 L103.3 91.3 L103.7 91.8 L104.1 92.5 L104.5 93.2 L104.9 93.9 L105.3 94.6 L105.7 95.3 L106.1 96 L106.5 96.7 L106.9 97.4 L107.3 98.1 L107.7 98.8 L108.1 99.5 L108.5 100.2 L108.9 100.9 L109.3 101.5 L109.7 102.2 L110.1 102.9 L110.5 103.7 L110.9 104.5 L111.3 105.3 L111.7 106.1 L112.1 106.9 L112.5 107.7 L112.9 108.6 L113.3 109.4 L113.7 110.2 L114.1 111 L114.5 111.8 L114.9 112.6 L115.3 113.3 L115.7 114 L116.1 114.6 L116.5 115.3 L116.9 116 L117.3 116.7 L117.7 117.3 L118.1 118 L118.5 118.7 L118.9 119.4 L119.3 120 L119.7 120.7 L120.1 121.3 L120.5 121.9 L120.9 122.5 L121.3 123.1 L121.7 123.7 L122.1 124.3 L122.5 124.9 L122.9 125.5 L123.3 126.1 L123.7 126.7 L124.1 127.3 L124.5 127.9 L124.9 128.4 L125.3 128.8 L125.7 129.3 L126.1 129.7 L126.5 130.2 L126.9 130.7 L127.3 131.1 L127.7 131.6 L128.1 132 L128.5 132.5 L128.9 133 L129.3 133.4 L129.7 133.7 L130.1 134.1 L130.5 134.4 L130.9 134.8 L131.3 135.2 L131.7 135.5 L132.1 135.9 L132.5 136.2 L132.9 136.5 L133.3 136.8 L133.7 137.1 L134.1 137.3 L134.5 137.6 L134.9 137.9 L135.3 138.2 L135.7 138.4 L136.1 138.7 L136.5 139 L136.9 139.3 L137.3 139.5 L137.7 139.8 L138.1 140 L138.5 140.3 L138.9 140.5 L139.3 140.8 L139.7 141 L140.1 141.3 L140.5 141.5 L140.9 141.8 L141.3 142 L141.7 142.3 L142.1 142.5 L142.5 142.7 L142.9 143 L143.3 143.2 L143.7 143.5 L144.1 143.7 L144.5 143.8 L144.9 144 L145.3 144.1 L145.7 144.3 L146.1 144.5 L146.5 144.6 L146.9 144.8 L147.3 144.9 L147.7 145.1 L148.1 145.3 L148.5 145.4 L148.9 145.6 L149.3 145.8 L149.7 145.9 L150.1 146.1 L150.5 146.2 L150.9 146.4 L151.3 146.6 L151.7 146.7 L152.1 146.7 L152.5 146.8 L152.9 146.8 L153.3 146.8 L153.7 146.9 L154.1 146.9 L154.5 146.9 L154.9 147 L155.3 147 L155.7 147.1 L156.1 147.1 L156.5 147.1 L156.9 147.2 L157.3 147.2 L157.7 147.2 L158.1 147.3 L158.5 147.3 L158.9 147.3 L159.3 147.4 L159.7 147.4 L160.1 147.4 L160.5 147.4 L160.9 147.5 L161.3 147.5 L161.7 147.5 L162.1 147.5 L162.5 147.5 L162.9 147.6 L163.3 147.6 L163.7 147.6 L164.1 147.6 L164.5 147.6 L164.9 147.7 L165.3 147.7 L165.7 147.7 L166.1 147.7 L166.5 147.7 L166.9 147.8 L167.3 147.8 L167.7 147.8 L168.1 147.9 L168.5 147.9 L168.9 148 L169.3 148 L169.7 148.1 L170.1 148.2 L170.5 148.2 L170.9 148.3 L171.3 148.3 L171.7 148.4 L172.1 148.4 L172.5 148.5 L172.9 148.6 L173.3 148.6 L173.7 148.7 L174.1 148.7 L174.5 148.8 L174.9 148.8 L175.3 148.9 L175.7 148.9 L176.1 148.9 L176.5 149 L176.9 149 L177.3 149 L177.7 149.1 L178.1 149.1 L178.5 149.1 L178.9 149.2 L179.3 149.2 L179.7 149.2 L180.1 149.2 L180.5 149.3 L180.9 149.3 L181.3 149.3 L181.7 149.4 L182.1 149.4 L182.5 149.4 L182.9 149.4 L183.3 149.5 L183.7 149.5 L184.1 149.5 L184.5 149.4 L184.9 149.4 L185.3 149.4 L185.7 149.4 L186.1 149.4 L186.5 149.4 L186.9 149.4 L187.3 149.4 L187.7 149.4 L188.1 149.4 L188.5 149.4 L188.9 149.4 L189.3 149.4 L189.7 149.4 L190.1 149.4 L190.5 149.4 L190.9 149.4 L191.3 149.4 L191.7 149.4 L192.1 149.4 L192.5 149.3 L192.9 149.3 L193.3 149.3 L193.7 149.3 L194.1 149.3 L194.5 149.3 L194.9 149.3 L195.3 149.3 L195.7 149.3 L196.1 149.3 L196.5 149.3 L196.9 149.3 L197.3 149.3 L197.7 149.2 L198.1 149.2 L198.5 149.2 L198.9 149.2 L199.3 149.2 L199.7 149.2 L200.1 149.2 L200.5 149.2 L200.9 149.2 L201.3 149.1 L201.7 149.1 L202.1 149.1 L202.5 149.1 L202.9 149.1 L203.3 149.1 L203.7 149.1 L204.1 149 L204.5 149 L204.9 149 L205.3 149 L205.7 149 L206.1 148.9 L206.5 148.9 L206.9 148.9 L207.3 148.9 L207.7 148.9 L208.1 148.8 L208.5 148.8 L208.9 148.8 L209.3 148.8 L209.7 148.7 L210.1 148.7 L210.5 148.6 L210.9 148.6 L211.3 148.5 L211.7 148.5 L212.1 148.4 L212.5 148.3 L212.9 148.2 L213.3 148.1 L213.7 147.9 L214.1 147.7 L214.5 147.5 L214.9 147.2 L215.3 146.9 L215.7 146.4 L216.1 145.8 L216.5 145.1 L216.9 144 L217.3 142.5 L217.7 140.4 L218.1 137.4 L218.5 132.9 L218.9 127 L219.3 120.8 L219.7 117.9 L220.1 120.8 L220.5 127 L220.9 132.9 L221.3 137.4 L221.7 140.4 L222.1 142.5 L222.5 144 L222.9 145.1 L223.3 145.9 L223.7 146.4 L224.1 146.9 L224.5 147.2 L224.9 147.5 L225.3 147.7 L225.7 147.9 L226.1 148.1 L226.5 148.2 L226.9 148.3 L227.3 148.4 L227.7 148.5 L228.1 148.6 L228.5 148.6 L228.9 148.7 L229.3 148.7 L229.7 148.8 L230.1 148.8 L230.5 148.8 L230.9 148.9 L231.3 148.9 L231.7 148.9 L232.1 148.9 L232.5 148.9 L232.9 149 L233.3 149 L233.7 149 L234.1 149 L234.5 149 L234.9 149 L235.3 149 L235.7 149.1 L236.1 149.1 L236.5 149.1 L236.9 149.1 L237.3 149.1 L237.7 149.1 L238.1 149.1 L238.5 149.1 L238.9 149.1 L239.3 149.1 L239.7 149.1 L240.1 149.1 L240.5 149.1 L240.9 149.1 L241.3 149.1 L241.7 149.2 L242.1 149.2 L242.5 149.2 L242.9 149.2 L243.3 149.2 L243.7 149.2 L244.1 149.2 L244.5 149.2 L244.9 149.2 L245.3 149.2 L245.7 149.2 L246.1 149.2 L246.5 149.2 L246.9 149.2 L247.3 149.2 L247.7 149.2 L248.1 149.2 L248.5 149.2 L248.9 149.2 L249.3 149.2 L249.7 149.2 L250.1 149.2 L250.5 149.2 L250.9 149.2 L251.3 149.2 L251.7 149.2 L252.1 149.2 L252.5 149.2 L252.9 149.2 L253.3 149.2 L253.7 149.2 L254.1 149.2 L254.5 149.2 L254.9 149.2 L255.3 149.2 L255.7 149.2 L256.1 149.2 L256.5 149.2 L256.9 149.2 L257.3 149.2 L257.7 149.2 L258.1 149.2 L258.5 149.2 L258.9 149.2 L259.3 149.2 L259.7 149.2 L260.1 149.2 L260.5 149.2 L260.9 149.3 L261.3 149.3 L261.7 149.3 L262.1 149.3 L262.5 149.3 L262.9 149.3 L263.3 149.3 L263.7 149.3 L264.1 149.3 L264.5 149.3 L264.9 149.3 L265.3 149.3 L265.7 149.3 L266.1 149.3 L266.5 149.3 L266.9 149.3 L267.3 149.3 L267.7 149.3 L268.1 149.3 L268.5 149.3 L268.9 149.3 L269.3 149.3 L269.7 149.3 L270.1 149.3 L270.5 149.3 L270.9 149.3 L271.3 149.3 L271.7 149.3 L272.1 149.3 L272.5 149.3 L272.9 149.3 L273.3 149.3 L273.7 149.3 L274.1 149.3 L274.5 149.3 L274.9 149.3 L275.3 149.3 L275.7 149.3 L276.1 149.3 L276.5 149.3 L276.9 149.3 L277.3 149.3 L277.7 149.3 L278.1 149.3 L278.5 149.3 L278.9 149.3 L279.3 149.3 L279.7 149.3 L280.1 149.3 L280.5 149.3 L280.9 149.3 L281.3 149.3 L281.7 149.3 L282.1 149.3 L282.5 149.3 L282.9 149.3 L283.3 149.3 L283.7 149.3 L284.1 149.3 L284.5 149.3 L284.9 149.3 L285.3 149.3 L285.7 149.3 L286.1 149.3 L286.5 149.3 L286.9 149.3 L287.3 149.3 L287.7 149.3 L288.1 149.3 L288.5 149.3 L288.9 149.3 L289.3 149.3 L289.7 149.3 L290.1 149.3 L290.5 149.3 L290.9 149.3 L291.3 149.3 L291.7 149.3 L292.1 149.3 L292.5 149.3 L292.9 149.3 L293.3 149.3 L293.7 149.3 L294.1 149.3 L294.5 149.3 L294.9 149.3 L295.3 149.3 L295.7 149.3 L296.1 149.3 L296.5 149.3 L296.9 149.3 L297.3 149.3 L297.7 149.3 L298.1 149.3 L298.5 149.3 L298.9 149.3 L299.3 149.3 L299.7 149.3 L300.1 149.3 L300.5 149.3 L300.9 149.3 L301.3 149.3 L301.7 149.3 L302.1 149.3 L302.5 149.3 L302.9 149.3 L303.3 149.3 L303.7 149.3 L304.1 149.3 L304.5 149.3 L304.9 149.3 L305.3 149.3 L305.7 149.3 L306.1 149.3 L306.5 149.3 L306.9 149.3 L307.3 149.3 L307.7 149.3 L308.1 149.3 L308.5 149.3 L308.9 149.3 L309.3 149.3 L309.7 149.3 L310.1 149.3 L310.5 149.3 L310.9 149.3 L311.3 149.3 L311.7 149.3 L312.1 149.3 L312.5 149.4 L312.9 149.4 L313.3 149.4 L313.7 149.4 L314.1 149.4 L314.5 149.4 L314.9 149.4 L315.3 149.4 L315.7 149.4 L316.1 149.4 L316.5 149.4 L316.9 149.4 L317.3 149.4 L317.7 149.4 L318.1 149.4 L318.5 149.4 L318.9 149.4 L319.3 149.4 L319.7 149.4 L320.1 149.4 L320.5 149.4 L320.9 149.4 L321.3 149.4 L321.7 149.4 L322.1 149.4 L322.5 149.4 L322.9 149.4 L323.3 149.4 L323.7 149.4 L324.1 149.4 L324.5 149.4 L324.9 149.4 L325.3 149.4 L325.7 149.4 L326.1 149.4 L326.5 149.4 L326.9 149.4 L327.3 149.4 L327.7 149.4 L328.1 149.4 L328.5 149.4 L328.9 149.4 L329.3 149.4 L329.7 149.4 L330.1 149.4 L330.5 149.4 L330.9 149.4 L331.3 149.4 L331.7 149.4 L332.1 149.4 L332.5 149.4 L332.9 149.4 L333.3 149.4 L333.7 149.4 L334.1 149.4 L334.5 149.4 L334.9 149.4 L335.3 149.4 L335.7 149.4 L336.1 149.4 L336.5 149.4 L336.9 149.4 L337.3 149.4 L337.7 149.4 L338.1 149.4 L338.5 149.4 L338.9 149.4 L339.3 149.4 L339.7 149.4 L340.1 149.4 L340.5 149.4 L340.9 149.4 L341.3 149.4 L341.7 149.4 L342.1 149.4 L342.5 149.4" fill="none" stroke="#1a1ac4" stroke-width="2.0" stroke-linejoin="round" stroke-linecap="round" clip-path="url(#ca)"/>
<path d="M54.5 24.7C57.1 24.7 63.9 24.6 70 24.7C76.1 24.8 86 24.9 91 25C96 25.1 96.8 25.4 100 25.5C103.2 25.6 106.8 25.8 110 25.8C113.2 25.8 116.2 25.5 118.9 25.3C121.6 25.1 124.3 24.8 126 24.9C127.7 25 128.1 26.3 129.1 26.2C130.1 26.1 131.4 24.5 132.2 24.4C133 24.2 133.2 24.3 134 25.3C134.8 26.3 135.9 29.7 136.7 30.2C137.5 30.7 138.2 29 138.9 28.4C139.6 27.8 140.1 26.3 140.7 26.7C141.3 27.1 141.7 28.1 142.4 30.7C143.1 33.3 144 39.7 144.7 42.2C145.3 44.7 145.7 46.1 146.3 45.8C146.9 45.5 147.5 41.9 148.2 40.4C148.9 38.9 149.8 37 150.4 36.9C151 36.8 151.3 37.4 151.8 39.6C152.3 41.8 152.8 46.6 153.6 50.2C154.4 53.8 155.8 60.3 156.7 61.3C157.6 62.3 158.2 57.8 158.9 56.4C159.6 55 160 55.6 160.7 52.9C161.4 50.2 162.2 44.4 162.9 40.4C163.6 36.4 164.4 30.1 165.1 28.9C165.8 27.7 166.2 29.3 166.9 33.3C167.6 37.3 168.5 49.3 169.1 52.9C169.7 56.5 170.1 55.1 170.5 55C170.9 54.9 171.1 54.8 171.5 52C171.9 49.2 172.4 40 173 38.4C173.6 36.8 174.2 39.6 174.8 42.5C175.4 45.4 175.7 54.3 176.6 55.6C177.5 56.9 178.9 53.7 180.1 50.2C181.3 46.7 182.7 36.5 183.7 34.8C184.7 33.1 185.1 36 186.1 40.1C187.1 44.2 188.2 52.8 189.6 59.1C191 65.4 193 75.9 194.4 78.1C195.8 80.3 196.9 72.5 197.9 72.1C198.9 71.7 199.2 75.8 200.3 75.7C201.4 75.6 203.2 71.8 204.4 71.6C205.6 71.4 206.1 72.1 207.3 74.5C208.6 76.9 210.1 82 211.9 86C213.7 90 216.4 97.5 218.2 98.6C220 99.6 221.1 95.4 222.9 92.3C224.7 89.2 227.4 83.2 229.2 79.7C231 76.2 232.2 75.4 233.6 71C235 66.6 236.5 54.2 237.5 53.2C238.5 52.2 238.8 60.5 239.6 65C240.4 69.5 241.6 76.2 242.5 80C243.4 83.8 243.8 85 244.9 87.6C246 90.2 247.5 93.7 248.9 95.5C250.3 97.3 252.2 99.4 253.6 98.6C255 97.8 256.4 95.1 257.5 90.7C258.6 86.3 259.1 79.9 259.9 72C260.6 64.1 261.3 45.8 262 43.1C262.7 40.4 263.2 50.8 263.9 55.6C264.6 60.4 265.4 68.5 266.2 72.1C267 75.6 267.5 76.7 268.6 76.9C269.7 77.1 271.1 74.8 272.7 73.3C274.3 71.8 276.8 68.5 278.3 68C279.8 67.5 280.8 69.5 281.9 70.4C283 71.3 283.8 75.2 284.8 73.3C285.8 71.4 286.8 64.4 287.8 59.1C288.8 53.8 289.7 42.1 290.7 41.3C291.7 40.5 292.7 49.6 293.7 54.4C294.7 59.1 295.8 65.5 296.7 69.8C297.6 74.1 298.2 77.6 299 80C299.8 82.4 300 82 301.5 84.4C303 86.9 306.1 93.4 307.8 94.7C309.5 96 310.6 93.8 311.7 92.3C312.8 90.8 313.3 85.7 314.1 86C314.9 86.3 315.6 91.9 316.5 93.9C317.4 96 318.3 98 319.6 98.3C320.9 98.6 322.6 97 324.3 95.5C326 94 327.8 91.3 329.8 89.2C331.8 87.1 334.1 84.4 336.1 82.9C338.2 81.5 341.1 80.9 342.1 80.5" fill="none" stroke="#e01b22" stroke-width="1.9" stroke-linejoin="round" stroke-linecap="round" clip-path="url(#ca)"/>
<path d="M54.5 277.2 L54.9 277.2 L55.3 277.2 L55.7 277.2 L56.1 277.2 L56.5 277.2 L56.9 277.2 L57.3 277.2 L57.7 277.2 L58.1 277.2 L58.5 277.2 L58.9 277.2 L59.3 277.2 L59.7 277.2 L60.1 277.2 L60.5 277.2 L60.9 277.2 L61.3 277.2 L61.7 277.2 L62.1 277.2 L62.5 277.2 L62.9 277.2 L63.3 277.2 L63.7 277.2 L64.1 277.2 L64.5 277.2 L64.9 277.2 L65.3 277.2 L65.7 277.2 L66.1 277.2 L66.5 277.2 L66.9 277.2 L67.3 277.2 L67.7 277.2 L68.1 277.2 L68.5 277.2 L68.9 277.2 L69.3 277.2 L69.7 277.2 L70.1 277.2 L70.5 277.2 L70.9 277.2 L71.3 277.2 L71.7 277.2 L72.1 277.2 L72.5 277.2 L72.9 277.2 L73.3 277.2 L73.7 277.2 L74.1 277.2 L74.5 277.2 L74.9 277.2 L75.3 277.2 L75.7 277.2 L76.1 277.2 L76.5 277.2 L76.9 277.2 L77.3 277.2 L77.7 277.2 L78.1 277.2 L78.5 277.2 L78.9 277.2 L79.3 277.2 L79.7 277.2 L80.1 277.2 L80.5 277.2 L80.9 277.2 L81.3 277.2 L81.7 277.2 L82.1 277.2 L82.5 277.2 L82.9 277.2 L83.3 277.2 L83.7 277.2 L84.1 277.2 L84.5 277.2 L84.9 277.2 L85.3 277.2 L85.7 277.2 L86.1 277.2 L86.5 277.2 L86.9 277.2 L87.3 277.2 L87.7 277.2 L88.1 277.2 L88.5 277.2 L88.9 277.2 L89.3 277.2 L89.7 277.2 L90.1 277.2 L90.5 277.2 L90.9 277.2 L91.3 277.2 L91.7 277.2 L92.1 277.2 L92.5 277.2 L92.9 277.2 L93.3 277.2 L93.7 277.2 L94.1 277.2 L94.5 277.2 L94.9 277.2 L95.3 277.2 L95.7 277.2 L96.1 277.2 L96.5 277.2 L96.9 277.2 L97.3 277.2 L97.7 277.2 L98.1 277.2 L98.5 277.2 L98.9 277.2 L99.3 277.2 L99.7 277.2 L100.1 277.2 L100.5 277.2 L100.9 277.2 L101.3 277.2 L101.7 277.2 L102.1 277.2 L102.5 277.2 L102.9 277.2 L103.3 277.2 L103.7 277.2 L104.1 277.2 L104.5 277.2 L104.9 277.2 L105.3 277.2 L105.7 277.2 L106.1 277.2 L106.5 277.2 L106.9 277.2 L107.3 277.2 L107.7 277.2 L108.1 277.2 L108.5 277.2 L108.9 277.2 L109.3 277.2 L109.7 277.2 L110.1 277.2 L110.5 277.2 L110.9 277.2 L111.3 277.2 L111.7 277.2 L112.1 277.2 L112.5 277.2 L112.9 277.2 L113.3 277.2 L113.7 277.2 L114.1 277.2 L114.5 277.2 L114.9 277.2 L115.3 277.2 L115.7 277.2 L116.1 277.2 L116.5 277.2 L116.9 277.2 L117.3 277.2 L117.7 277.2 L118.1 277.2 L118.5 277.2 L118.9 277.2 L119.3 277.2 L119.7 277.2 L120.1 277.2 L120.5 277.2 L120.9 277.2 L121.3 277.2 L121.7 277.2 L122.1 277.2 L122.5 277.2 L122.9 277.2 L123.3 277.2 L123.7 277.2 L124.1 277.2 L124.5 277.2 L124.9 277.2 L125.3 277.2 L125.7 277.2 L126.1 277.2 L126.5 277.2 L126.9 277.2 L127.3 277.2 L127.7 277.2 L128.1 277.2 L128.5 277.2 L128.9 277.2 L129.3 277.2 L129.7 277.2 L130.1 277.2 L130.5 277.2 L130.9 277.2 L131.3 277.2 L131.7 277.2 L132.1 277.2 L132.5 277.2 L132.9 277.2 L133.3 277.2 L133.7 277.2 L134.1 277.2 L134.5 277.2 L134.9 277.2 L135.3 277.2 L135.7 277.2 L136.1 277.2 L136.5 277.2 L136.9 277.2 L137.3 277.2 L137.7 277.2 L138.1 277.2 L138.5 277.2 L138.9 277.2 L139.3 277.2 L139.7 277.2 L140.1 277.2 L140.5 277.2 L140.9 277.2 L141.3 277.2 L141.7 277.2 L142.1 277.2 L142.5 277.2 L142.9 277.2 L143.3 277.2 L143.7 277.2 L144.1 277.2 L144.5 277.2 L144.9 277.2 L145.3 277.2 L145.7 277.2 L146.1 277.2 L146.5 277.2 L146.9 277.2 L147.3 277.2 L147.7 277.2 L148.1 277.2 L148.5 277.2 L148.9 277.2 L149.3 277.2 L149.7 277.2 L150.1 277.2 L150.5 277.2 L150.9 277.2 L151.3 277.2 L151.7 277.2 L152.1 277.2 L152.5 277.2 L152.9 277.2 L153.3 277.2 L153.7 277.2 L154.1 277.2 L154.5 277.2 L154.9 277.2 L155.3 277.2 L155.7 277.2 L156.1 277.2 L156.5 277.2 L156.9 277.2 L157.3 277.2 L157.7 277.2 L158.1 277.2 L158.5 277.2 L158.9 277.2 L159.3 277.2 L159.7 277.2 L160.1 277.2 L160.5 277.2 L160.9 277.2 L161.3 277.2 L161.7 277.2 L162.1 277.2 L162.5 277.2 L162.9 277.2 L163.3 277.2 L163.7 277.2 L164.1 277.2 L164.5 277.2 L164.9 277.2 L165.3 277.2 L165.7 277.2 L166.1 277.2 L166.5 277.2 L166.9 277.2 L167.3 277.2 L167.7 277.2 L168.1 277.2 L168.5 277.2 L168.9 277.2 L169.3 277.2 L169.7 277.2 L170.1 277.2 L170.5 277.2 L170.9 277.2 L171.3 277.2 L171.7 277.2 L172.1 277.2 L172.5 277.2 L172.9 277.2 L173.3 277.2 L173.7 277.2 L174.1 277.2 L174.5 277.2 L174.9 277.2 L175.3 277.2 L175.7 277.2 L176.1 277.2 L176.5 277.2 L176.9 277.2 L177.3 277.2 L177.7 277.2 L178.1 277.2 L178.5 277.2 L178.9 277.2 L179.3 277.2 L179.7 277.2 L180.1 277.2 L180.5 277.2 L180.9 277.2 L181.3 277.2 L181.7 277.2 L182.1 277.2 L182.5 277.2 L182.9 277.2 L183.3 277.2 L183.7 277.2 L184.1 277.2 L184.5 277.2 L184.9 277.2 L185.3 277.2 L185.7 277.2 L186.1 277.2 L186.5 277.2 L186.9 277.2 L187.3 277.2 L187.7 277.2 L188.1 277.2 L188.5 277.2 L188.9 277.2 L189.3 277.2 L189.7 277.2 L190.1 277.2 L190.5 277.2 L190.9 277.2 L191.3 277.2 L191.7 277.2 L192.1 277.2 L192.5 277.2 L192.9 277.2 L193.3 277.2 L193.7 277.2 L194.1 277.2 L194.5 277.2 L194.9 277.2 L195.3 277.2 L195.7 277.2 L196.1 277.2 L196.5 277.2 L196.9 277.2 L197.3 277.2 L197.7 277.2 L198.1 277.2 L198.5 277.1 L198.9 277.1 L199.3 277.1 L199.7 277.1 L200.1 277.1 L200.5 277.1 L200.9 277.1 L201.3 277.1 L201.7 277.1 L202.1 277.1 L202.5 277.1 L202.9 277.1 L203.3 277.1 L203.7 277.1 L204.1 277.1 L204.5 277.1 L204.9 277.1 L205.3 277 L205.7 277 L206.1 277 L206.5 277 L206.9 276.9 L207.3 276.9 L207.7 276.8 L208.1 276.7 L208.5 276.6 L208.9 276.5 L209.3 276.4 L209.7 276.4 L210.1 276.4 L210.5 276.4 L210.9 276.5 L211.3 276.6 L211.7 276.7 L212.1 276.8 L212.5 276.8 L212.9 276.9 L213.3 276.9 L213.7 277 L214.1 277 L214.5 277 L214.9 277 L215.3 277 L215.7 277.1 L216.1 277.1 L216.5 277.1 L216.9 277.1 L217.3 277.1 L217.7 277.1 L218.1 277.1 L218.5 277.1 L218.9 277.1 L219.3 277.1 L219.7 277.1 L220.1 277.1 L220.5 277.1 L220.9 277.1 L221.3 277.1 L221.7 277.1 L222.1 277.1 L222.5 277.1 L222.9 277.1 L223.3 277.1 L223.7 277.1 L224.1 277.1 L224.5 277.1 L224.9 277.1 L225.3 277.1 L225.7 277 L226.1 277 L226.5 277 L226.9 277 L227.3 277 L227.7 277 L228.1 277 L228.5 277 L228.9 277 L229.3 276.9 L229.7 276.9 L230.1 276.9 L230.5 276.8 L230.9 276.8 L231.3 276.7 L231.7 276.7 L232.1 276.6 L232.5 276.5 L232.9 276.3 L233.3 276.2 L233.7 276 L234.1 275.7 L234.5 275.4 L234.9 275.2 L235.3 275 L235.7 274.9 L236.1 275 L236.5 275.3 L236.9 275.6 L237.3 275.8 L237.7 276.1 L238.1 276.2 L238.5 276.4 L238.9 276.5 L239.3 276.6 L239.7 276.7 L240.1 276.7 L240.5 276.8 L240.9 276.8 L241.3 276.8 L241.7 276.9 L242.1 276.9 L242.5 276.9 L242.9 276.9 L243.3 276.9 L243.7 276.9 L244.1 276.9 L244.5 276.9 L244.9 276.9 L245.3 276.9 L245.7 276.9 L246.1 276.9 L246.5 276.9 L246.9 276.9 L247.3 276.9 L247.7 276.9 L248.1 276.9 L248.5 276.9 L248.9 276.9 L249.3 276.9 L249.7 276.8 L250.1 276.8 L250.5 276.8 L250.9 276.8 L251.3 276.8 L251.7 276.7 L252.1 276.7 L252.5 276.7 L252.9 276.6 L253.3 276.6 L253.7 276.5 L254.1 276.5 L254.5 276.4 L254.9 276.3 L255.3 276.2 L255.7 276.1 L256.1 275.9 L256.5 275.7 L256.9 275.5 L257.3 275.2 L257.7 274.8 L258.1 274.4 L258.5 273.9 L258.9 273.2 L259.3 272.5 L259.7 271.8 L260.1 271.3 L260.5 271 L260.9 271.1 L261.3 271.5 L261.7 272.2 L262.1 272.9 L262.5 273.5 L262.9 274.1 L263.3 274.6 L263.7 275 L264.1 275.3 L264.5 275.5 L264.9 275.7 L265.3 275.9 L265.7 276 L266.1 276.1 L266.5 276.2 L266.9 276.3 L267.3 276.4 L267.7 276.4 L268.1 276.5 L268.5 276.5 L268.9 276.5 L269.3 276.5 L269.7 276.5 L270.1 276.4 L270.5 276.4 L270.9 276.4 L271.3 276.4 L271.7 276.4 L272.1 276.3 L272.5 276.3 L272.9 276.3 L273.3 276.2 L273.7 276.2 L274.1 276.1 L274.5 276.1 L274.9 276.1 L275.3 276 L275.7 276 L276.1 275.9 L276.5 275.8 L276.9 275.8 L277.3 275.7 L277.7 275.6 L278.1 275.6 L278.5 275.5 L278.9 275.5 L279.3 275.4 L279.7 275.3 L280.1 275.2 L280.5 275.1 L280.9 275 L281.3 274.9 L281.7 274.7 L282.1 274.5 L282.5 274.3 L282.9 274.1 L283.3 273.8 L283.7 273.4 L284.1 273 L284.5 272.5 L284.9 271.9 L285.3 271.2 L285.7 270.3 L286.1 269.2 L286.5 267.9 L286.9 266.3 L287.3 264.4 L287.7 262.3 L288.1 260.1 L288.5 258.3 L288.9 257.2 L289.3 257.2 L289.7 258.3 L290.1 260.1 L290.5 262.3 L290.9 264.4 L291.3 266.3 L291.7 267.9 L292.1 269.2 L292.5 270.3 L292.9 271.2 L293.3 271.9 L293.7 272.5 L294.1 273 L294.5 273.4 L294.9 273.8 L295.3 274.1 L295.7 274.3 L296.1 274.5 L296.5 274.7 L296.9 274.9 L297.3 275 L297.7 275.1 L298.1 275.2 L298.5 275.3 L298.9 275.4 L299.3 275.4 L299.7 275.5 L300.1 275.6 L300.5 275.6 L300.9 275.6 L301.3 275.7 L301.7 275.7 L302.1 275.7 L302.5 275.8 L302.9 275.8 L303.3 275.8 L303.7 275.8 L304.1 275.8 L304.5 275.8 L304.9 275.9 L305.3 275.9 L305.7 275.8 L306.1 275.8 L306.5 275.8 L306.9 275.8 L307.3 275.8 L307.7 275.8 L308.1 275.7 L308.5 275.7 L308.9 275.6 L309.3 275.6 L309.7 275.5 L310.1 275.4 L310.5 275.2 L310.9 275 L311.3 274.8 L311.7 274.5 L312.1 274.1 L312.5 273.6 L312.9 272.9 L313.3 271.9 L313.7 270.7 L314.1 269.2 L314.5 267.8 L314.9 267 L315.3 267.3 L315.7 268.5 L316.1 270 L316.5 271.4 L316.9 272.5 L317.3 273.3 L317.7 273.9 L318.1 274.4 L318.5 274.7 L318.9 275 L319.3 275.2 L319.7 275.4 L320.1 275.5 L320.5 275.7 L320.9 275.7 L321.3 275.8 L321.7 275.9 L322.1 275.9 L322.5 276 L322.9 276 L323.3 276.1 L323.7 276.1 L324.1 276.1 L324.5 276.2 L324.9 276.2 L325.3 276.2 L325.7 276.2 L326.1 276.2 L326.5 276.2 L326.9 276.3 L327.3 276.3 L327.7 276.3 L328.1 276.3 L328.5 276.3 L328.9 276.3 L329.3 276.3 L329.7 276.3 L330.1 276.3 L330.5 276.3 L330.9 276.3 L331.3 276.3 L331.7 276.4 L332.1 276.4 L332.5 276.4 L332.9 276.4 L333.3 276.4 L333.7 276.4 L334.1 276.4 L334.5 276.4 L334.9 276.4 L335.3 276.4 L335.7 276.4 L336.1 276.4 L336.5 276.4 L336.9 276.4 L337.3 276.4 L337.7 276.4 L338.1 276.4 L338.5 276.4 L338.9 276.4 L339.3 276.4 L339.7 276.4 L340.1 276.4 L340.5 276.4 L340.9 276.4 L341.3 276.4 L341.7 276.4 L342.1 276.4 L342.5 276.4" fill="none" stroke="#e01b22" stroke-width="1.9" stroke-linejoin="round" stroke-linecap="round" clip-path="url(#cb)"/>
<path d="M54.5 277.1 L54.9 277.1 L55.3 277.1 L55.7 277.1 L56.1 277.1 L56.5 277.1 L56.9 277.1 L57.3 277.1 L57.7 277.1 L58.1 277.1 L58.5 277.1 L58.9 277.1 L59.3 277.1 L59.7 277.1 L60.1 277.1 L60.5 277.1 L60.9 277.1 L61.3 277.1 L61.7 277.1 L62.1 277.1 L62.5 277.1 L62.9 277.1 L63.3 277.1 L63.7 277.1 L64.1 277.1 L64.5 277.1 L64.9 277.1 L65.3 277.1 L65.7 277.1 L66.1 277.1 L66.5 277.1 L66.9 277.1 L67.3 277.1 L67.7 277.1 L68.1 277.1 L68.5 277.1 L68.9 277.1 L69.3 277.1 L69.7 277.1 L70.1 277.1 L70.5 277.1 L70.9 277.1 L71.3 277.1 L71.7 277.1 L72.1 277.1 L72.5 277.1 L72.9 277.1 L73.3 277.1 L73.7 277.1 L74.1 277.1 L74.5 277.1 L74.9 277.1 L75.3 277.1 L75.7 277.1 L76.1 277.1 L76.5 277.1 L76.9 277.1 L77.3 277.1 L77.7 277.1 L78.1 277.1 L78.5 277.1 L78.9 277.1 L79.3 277.1 L79.7 277.1 L80.1 277.1 L80.5 277.1 L80.9 277 L81.3 277 L81.7 276.9 L82.1 276.9 L82.5 276.9 L82.9 276.8 L83.3 276.8 L83.7 276.8 L84.1 276.7 L84.5 276.7 L84.9 276.7 L85.3 276.6 L85.7 276.6 L86.1 276.6 L86.5 276.5 L86.9 276.5 L87.3 276.4 L87.7 276.4 L88.1 276.4 L88.5 276.3 L88.9 276.3 L89.3 276.3 L89.7 276.2 L90.1 276.2 L90.5 276.2 L90.9 276.3 L91.3 276.3 L91.7 276.4 L92.1 276.4 L92.5 276.4 L92.9 276.5 L93.3 276.5 L93.7 276.5 L94.1 276.6 L94.5 276.6 L94.9 276.6 L95.3 276.7 L95.7 276.7 L96.1 276.7 L96.5 276.8 L96.9 276.8 L97.3 276.9 L97.7 276.9 L98.1 276.9 L98.5 277 L98.9 277 L99.3 277 L99.7 277.1 L100.1 277.1 L100.5 277.1 L100.9 277.1 L101.3 277.1 L101.7 277.1 L102.1 277.1 L102.5 277.1 L102.9 277.1 L103.3 277.1 L103.7 277.1 L104.1 277.1 L104.5 277.1 L104.9 277.1 L105.3 277.1 L105.7 277.1 L106.1 277.1 L106.5 277.1 L106.9 277.1 L107.3 277.1 L107.7 277.1 L108.1 277.1 L108.5 277.1 L108.9 277.1 L109.3 277.1 L109.7 277.1 L110.1 277.1 L110.5 277.1 L110.9 277.1 L111.3 277.1 L111.7 277.1 L112.1 277.1 L112.5 277.1 L112.9 277.1 L113.3 277.1 L113.7 277.1 L114.1 277.1 L114.5 277.1 L114.9 277.1 L115.3 277.1 L115.7 277.1 L116.1 277.1 L116.5 277.1 L116.9 277.1 L117.3 277.1 L117.7 277.1 L118.1 277.1 L118.5 277.1 L118.9 277.1 L119.3 277.1 L119.7 277.1 L120.1 277.1 L120.5 277.1 L120.9 277.1 L121.3 277.1 L121.7 277.1 L122.1 277.1 L122.5 277.1 L122.9 277.1 L123.3 277.1 L123.7 277.1 L124.1 277.1 L124.5 277.1 L124.9 277.1 L125.3 277.1 L125.7 277.1 L126.1 277.1 L126.5 277.1 L126.9 277.1 L127.3 277.1 L127.7 277.1 L128.1 277.1 L128.5 277.1 L128.9 277.1 L129.3 277.1 L129.7 277.1 L130.1 277.1 L130.5 277.1 L130.9 277.1 L131.3 277.1 L131.7 277.1 L132.1 277.1 L132.5 277.1 L132.9 277.1 L133.3 277.1 L133.7 277.1 L134.1 277.1 L134.5 277.1 L134.9 277.1 L135.3 277.1 L135.7 277.1 L136.1 277.1 L136.5 277.1 L136.9 277.1 L137.3 277.1 L137.7 277.1 L138.1 277.1 L138.5 277.1 L138.9 277.1 L139.3 277.1 L139.7 277.1 L140.1 277.1 L140.5 277.1 L140.9 277.1 L141.3 277.1 L141.7 277.1 L142.1 277.1 L142.5 277.1 L142.9 277.1 L143.3 277.1 L143.7 277.1 L144.1 277.1 L144.5 277.1 L144.9 277.1 L145.3 277.1 L145.7 277.1 L146.1 277.1 L146.5 277.1 L146.9 277.1 L147.3 277.1 L147.7 277.1 L148.1 277.1 L148.5 277.1 L148.9 277.1 L149.3 277.1 L149.7 277.1 L150.1 277.1 L150.5 277.1 L150.9 277.1 L151.3 277.1 L151.7 277.1 L152.1 277.1 L152.5 277.1 L152.9 277.1 L153.3 277.1 L153.7 277.1 L154.1 277.1 L154.5 277.1 L154.9 277.1 L155.3 277.1 L155.7 277.1 L156.1 277.1 L156.5 277.1 L156.9 277.1 L157.3 277.1 L157.7 277.1 L158.1 277.1 L158.5 277.1 L158.9 277.1 L159.3 277.1 L159.7 277.1 L160.1 277.1 L160.5 277.1 L160.9 277.1 L161.3 277.1 L161.7 277.1 L162.1 277.1 L162.5 277.1 L162.9 277.1 L163.3 277.1 L163.7 277.1 L164.1 277.1 L164.5 277.1 L164.9 277.1 L165.3 277.1 L165.7 277.1 L166.1 277.1 L166.5 277.1 L166.9 277.1 L167.3 277.1 L167.7 277.1 L168.1 277.1 L168.5 277.1 L168.9 277.1 L169.3 277.1 L169.7 277.1 L170.1 277.1 L170.5 277.1 L170.9 277.1 L171.3 277.1 L171.7 277.1 L172.1 277.1 L172.5 277.1 L172.9 277.1 L173.3 277.1 L173.7 277.1 L174.1 277.1 L174.5 277.1 L174.9 277.1 L175.3 277.1 L175.7 277.1 L176.1 277.1 L176.5 277.1 L176.9 277.1 L177.3 277.1 L177.7 277.1 L178.1 277.1 L178.5 277.1 L178.9 277.1 L179.3 277.1 L179.7 277.1 L180.1 277.1 L180.5 277.1 L180.9 277.1 L181.3 277.1 L181.7 277.1 L182.1 277.1 L182.5 277.1 L182.9 277.1 L183.3 277.1 L183.7 277.1 L184.1 277.1 L184.5 277.1 L184.9 277.1 L185.3 277.1 L185.7 277.1 L186.1 277.1 L186.5 277.1 L186.9 277.1 L187.3 277.1 L187.7 277.1 L188.1 277.1 L188.5 277.1 L188.9 277.1 L189.3 277.1 L189.7 277.1 L190.1 277.1 L190.5 277.1 L190.9 277.1 L191.3 277.1 L191.7 277.1 L192.1 277.1 L192.5 277.1 L192.9 277.1 L193.3 277.1 L193.7 277.1 L194.1 277.1 L194.5 277.1 L194.9 277.1 L195.3 277.1 L195.7 277.1 L196.1 277.1 L196.5 277.1 L196.9 277.1 L197.3 277.1 L197.7 277.1 L198.1 277.1 L198.5 277.1 L198.9 277.1 L199.3 277.1 L199.7 277.1 L200.1 277.1 L200.5 277.1 L200.9 277.1 L201.3 277.1 L201.7 277.1 L202.1 277.1 L202.5 277.1 L202.9 277.1 L203.3 277.1 L203.7 277.1 L204.1 277.1 L204.5 277.1 L204.9 277.1 L205.3 277.1 L205.7 277.1 L206.1 277.1 L206.5 277.1 L206.9 277.1 L207.3 277.1 L207.7 277.1 L208.1 277.1 L208.5 277.1 L208.9 277.1 L209.3 277.1 L209.7 277.1 L210.1 277.1 L210.5 277.1 L210.9 277.1 L211.3 277.1 L211.7 277.1 L212.1 277.1 L212.5 277.1 L212.9 277.1 L213.3 277.1 L213.7 277.1 L214.1 277.1 L214.5 277.1 L214.9 277.1 L215.3 277.1 L215.7 277.1 L216.1 277.1 L216.5 277.1 L216.9 277.1 L217.3 277.1 L217.7 277.1 L218.1 277.1 L218.5 277.1 L218.9 277.1 L219.3 277.1 L219.7 277.1 L220.1 277.1 L220.5 277.1 L220.9 277.1 L221.3 277.1 L221.7 277.1 L222.1 277.1 L222.5 277.1 L222.9 277.1 L223.3 277.1 L223.7 277.1 L224.1 277.1 L224.5 277.1 L224.9 277.1 L225.3 277.1 L225.7 277.1 L226.1 277.1 L226.5 277.1 L226.9 277.1 L227.3 277.1 L227.7 277.1 L228.1 277.1 L228.5 277.1 L228.9 277.1 L229.3 277.1 L229.7 277.1 L230.1 277.1 L230.5 277.1 L230.9 277.1 L231.3 277.1 L231.7 277.1 L232.1 277.1 L232.5 277.1 L232.9 277.1 L233.3 277.1 L233.7 277.1 L234.1 277.1 L234.5 277.1 L234.9 277.1 L235.3 277.1 L235.7 277.1 L236.1 277.1 L236.5 277.1 L236.9 277 L237.3 277 L237.7 277 L238.1 277 L238.5 277 L238.9 277 L239.3 277 L239.7 277 L240.1 277 L240.5 277 L240.9 276.9 L241.3 276.9 L241.7 276.9 L242.1 276.8 L242.5 276.8 L242.9 276.7 L243.3 276.6 L243.7 276.5 L244.1 276.3 L244.5 276.1 L244.9 275.8 L245.3 275.6 L245.7 275.5 L246.1 275.7 L246.5 275.9 L246.9 276.2 L247.3 276.4 L247.7 276.5 L248.1 276.7 L248.5 276.8 L248.9 276.8 L249.3 276.9 L249.7 276.9 L250.1 276.9 L250.5 277 L250.9 277 L251.3 277 L251.7 277 L252.1 277 L252.5 277 L252.9 277 L253.3 277 L253.7 277 L254.1 277 L254.5 277 L254.9 277 L255.3 277 L255.7 277 L256.1 277.1 L256.5 277.1 L256.9 277.1 L257.3 277.1 L257.7 277.1 L258.1 277.1 L258.5 277.1 L258.9 277.1 L259.3 277.1 L259.7 277.1 L260.1 277.1 L260.5 277.1 L260.9 277.1 L261.3 277.1 L261.7 277.1 L262.1 277.1 L262.5 277.1 L262.9 277.1 L263.3 277.1 L263.7 277.1 L264.1 277.1 L264.5 277.1 L264.9 277.1 L265.3 277.1 L265.7 277.1 L266.1 277.1 L266.5 277.1 L266.9 277.1 L267.3 277.1 L267.7 277.1 L268.1 277 L268.5 277 L268.9 277 L269.3 277 L269.7 277 L270.1 277 L270.5 277 L270.9 277 L271.3 277 L271.7 277 L272.1 277 L272.5 277 L272.9 277 L273.3 277 L273.7 277 L274.1 277 L274.5 277 L274.9 277 L275.3 277 L275.7 277 L276.1 277 L276.5 277 L276.9 276.9 L277.3 276.9 L277.7 276.9 L278.1 276.9 L278.5 276.9 L278.9 276.9 L279.3 276.8 L279.7 276.8 L280.1 276.8 L280.5 276.7 L280.9 276.7 L281.3 276.6 L281.7 276.5 L282.1 276.4 L282.5 276.3 L282.9 276.2 L283.3 276 L283.7 275.7 L284.1 275.3 L284.5 274.8 L284.9 274.2 L285.3 273.2 L285.7 271.9 L286.1 270.5 L286.5 269.5 L286.9 269.5 L287.3 270.5 L287.7 271.9 L288.1 273.2 L288.5 274.2 L288.9 274.8 L289.3 275.3 L289.7 275.7 L290.1 276 L290.5 276.2 L290.9 276.3 L291.3 276.4 L291.7 276.5 L292.1 276.6 L292.5 276.7 L292.9 276.7 L293.3 276.8 L293.7 276.8 L294.1 276.8 L294.5 276.9 L294.9 276.9 L295.3 276.9 L295.7 276.9 L296.1 276.9 L296.5 276.9 L296.9 277 L297.3 277 L297.7 277 L298.1 277 L298.5 277 L298.9 277 L299.3 277 L299.7 277 L300.1 277 L300.5 277 L300.9 277 L301.3 277 L301.7 277 L302.1 277 L302.5 277 L302.9 277 L303.3 277 L303.7 277 L304.1 277 L304.5 277.1 L304.9 277.1 L305.3 277.1 L305.7 277.1 L306.1 277.1 L306.5 277.1 L306.9 277.1 L307.3 277.1 L307.7 277.1 L308.1 277.1 L308.5 277.1 L308.9 277.1 L309.3 277.1 L309.7 277.1 L310.1 277.1 L310.5 277.1 L310.9 277.1 L311.3 277.1 L311.7 277.1 L312.1 277.1 L312.5 277.1 L312.9 277.1 L313.3 277.1 L313.7 277.1 L314.1 277.1 L314.5 277.1 L314.9 277.1 L315.3 277.1 L315.7 277.1 L316.1 277.1 L316.5 277.1 L316.9 277.1 L317.3 277.1 L317.7 277.1 L318.1 277.1 L318.5 277.1 L318.9 277.1 L319.3 277.1 L319.7 277.1 L320.1 277.1 L320.5 277.1 L320.9 277.1 L321.3 277.1 L321.7 277.1 L322.1 277.1 L322.5 277.1 L322.9 277.1 L323.3 277.1 L323.7 277.1 L324.1 277.1 L324.5 277.1 L324.9 277.1 L325.3 277.1 L325.7 277.1 L326.1 277.1 L326.5 277.1 L326.9 277.1 L327.3 277.1 L327.7 277.1 L328.1 277.1 L328.5 277.1 L328.9 277.1 L329.3 277.1 L329.7 277.1 L330.1 277.1 L330.5 277.1 L330.9 277.1 L331.3 277.1 L331.7 277.1 L332.1 277.1 L332.5 277.1 L332.9 277.1 L333.3 277.1 L333.7 277.1 L334.1 277.1 L334.5 277.1 L334.9 277.1 L335.3 277.1 L335.7 277.1 L336.1 277.1 L336.5 277.1 L336.9 277.1 L337.3 277.1 L337.7 277.1 L338.1 277.1 L338.5 277.1 L338.9 277.1 L339.3 277.1 L339.7 277.1 L340.1 277.1 L340.5 277.1 L340.9 277.1 L341.3 277.1 L341.7 277.1 L342.1 277.1 L342.5 277.1" fill="none" stroke="#177d22" stroke-width="1.8" stroke-linejoin="round" stroke-linecap="round" clip-path="url(#cb)"/>
<path d="M205 277.1 L235 277.1" fill="none" stroke="#1a1ac4" stroke-width="2.0" stroke-linejoin="round" stroke-linecap="round" clip-path="url(#cb)"/>
<path d="M54.5 275.2 L54.9 275.2 L55.3 275.1 L55.7 275.1 L56.1 275.1 L56.5 275.1 L56.9 275 L57.3 275 L57.7 275 L58.1 275 L58.5 274.9 L58.9 274.9 L59.3 274.9 L59.7 274.9 L60.1 274.8 L60.5 274.8 L60.9 274.8 L61.3 274.8 L61.7 274.7 L62.1 274.7 L62.5 274.7 L62.9 274.7 L63.3 274.6 L63.7 274.6 L64.1 274.6 L64.5 274.5 L64.9 274.5 L65.3 274.5 L65.7 274.5 L66.1 274.4 L66.5 274.4 L66.9 274.4 L67.3 274.4 L67.7 274.3 L68.1 274.3 L68.5 274.3 L68.9 274.3 L69.3 274.2 L69.7 274.2 L70.1 274.2 L70.5 274.1 L70.9 274.1 L71.3 274.1 L71.7 274.1 L72.1 274 L72.5 274 L72.9 274 L73.3 274 L73.7 273.9 L74.1 273.9 L74.5 273.9 L74.9 273.9 L75.3 273.8 L75.7 273.8 L76.1 273.8 L76.5 273.7 L76.9 273.7 L77.3 273.7 L77.7 273.7 L78.1 273.6 L78.5 273.6 L78.9 273.6 L79.3 273.6 L79.7 273.5 L80.1 273.5 L80.5 273.5 L80.9 273.4 L81.3 273.4 L81.7 273.4 L82.1 273.4 L82.5 273.4 L82.9 273.4 L83.3 273.4 L83.7 273.4 L84.1 273.4 L84.5 273.4 L84.9 273.4 L85.3 273.4 L85.7 273.4 L86.1 273.4 L86.5 273.4 L86.9 273.4 L87.3 273.4 L87.7 273.4 L88.1 273.4 L88.5 273.4 L88.9 273.4 L89.3 273.4 L89.7 273.4 L90.1 273.4 L90.5 273.4 L90.9 273.4 L91.3 273.5 L91.7 273.5 L92.1 273.6 L92.5 273.6 L92.9 273.6 L93.3 273.7 L93.7 273.7 L94.1 273.8 L94.5 273.8 L94.9 273.8 L95.3 273.9 L95.7 273.9 L96.1 274 L96.5 274 L96.9 274.1 L97.3 274.1 L97.7 274.2 L98.1 274.3 L98.5 274.3 L98.9 274.4 L99.3 274.5 L99.7 274.5 L100.1 274.6 L100.5 274.7 L100.9 274.7 L101.3 274.8 L101.7 274.8 L102.1 274.9 L102.5 275 L102.9 275 L103.3 275.1 L103.7 275.2 L104.1 275.2 L104.5 275.3 L104.9 275.4 L105.3 275.5 L105.7 275.6 L106.1 275.6 L106.5 275.7 L106.9 275.8 L107.3 275.9 L107.7 276 L108.1 276 L108.5 276.1 L108.9 276.2 L109.3 276.3 L109.7 276.4 L110.1 276.5 L110.5 276.5 L110.9 276.6 L111.3 276.7 L111.7 276.7 L112.1 276.7 L112.5 276.8 L112.9 276.8 L113.3 276.8 L113.7 276.8 L114.1 276.8 L114.5 276.8 L114.9 276.9 L115.3 276.9 L115.7 276.9 L116.1 276.9 L116.5 276.9 L116.9 277 L117.3 277 L117.7 277 L118.1 277 L118.5 277 L118.9 277 L119.3 277.1 L119.7 277.1 L120.1 277.1 L120.5 277.1 L120.9 277.1 L121.3 277.1 L121.7 277.1 L122.1 277.1 L122.5 277.1 L122.9 277.1 L123.3 277.1 L123.7 277.1 L124.1 277.1 L124.5 277.1 L124.9 277.1 L125.3 277.1 L125.7 277.1 L126.1 277.1 L126.5 277.1 L126.9 277.1 L127.3 277.1 L127.7 277.1 L128.1 277.1 L128.5 277.1 L128.9 277.1 L129.3 277.1 L129.7 277.1 L130.1 277.1 L130.5 277.1 L130.9 277.1 L131.3 277.1 L131.7 277.1 L132.1 277.1 L132.5 277.1 L132.9 277.1 L133.3 277.1 L133.7 277.1 L134.1 277.1 L134.5 277.1 L134.9 277.1 L135.3 277.1 L135.7 277.1 L136.1 277.1 L136.5 277.1 L136.9 277.1 L137.3 277.1 L137.7 277.1 L138.1 277.1 L138.5 277.1 L138.9 277.1 L139.3 277.1 L139.7 277.1 L140.1 277.1 L140.5 277.1 L140.9 277.1 L141.3 277.1 L141.7 277.1 L142.1 277.1 L142.5 277.1 L142.9 277.1 L143.3 277.1 L143.7 277.1 L144.1 277.1 L144.5 277.1 L144.9 277.1 L145.3 277.1 L145.7 277.1 L146.1 277.1 L146.5 277.1 L146.9 277.1 L147.3 277.1 L147.7 277.1 L148.1 277.1 L148.5 277.1 L148.9 277.1 L149.3 277.1 L149.7 277.1 L150.1 277.1 L150.5 277.1 L150.9 277.1 L151.3 277.1 L151.7 277.1 L152.1 277.1 L152.5 277.1 L152.9 277.1 L153.3 277.1 L153.7 277.1 L154.1 277.1 L154.5 277.1 L154.9 277.1 L155.3 277.1 L155.7 277.1 L156.1 277.1 L156.5 277.1 L156.9 277.1 L157.3 277.1 L157.7 277.1 L158.1 277.1 L158.5 277.1 L158.9 277.1 L159.3 277.1 L159.7 277.1 L160.1 277.1 L160.5 277.1 L160.9 277.1 L161.3 277.1 L161.7 277.1 L162.1 277.1 L162.5 277.1 L162.9 277.1 L163.3 277.1 L163.7 277.1 L164.1 277.1 L164.5 277.1 L164.9 277.1 L165.3 277.1 L165.7 277.1 L166.1 277.1 L166.5 277.1 L166.9 277.1 L167.3 277.1 L167.7 277.1 L168.1 277.1 L168.5 277.1 L168.9 277.1 L169.3 277.1 L169.7 277.1 L170.1 277.1 L170.5 277.1 L170.9 277.1 L171.3 277.1 L171.7 277.1 L172.1 277.1 L172.5 277.1 L172.9 277.1 L173.3 277.1 L173.7 277.1 L174.1 277.1 L174.5 277.1 L174.9 277.1 L175.3 277.1 L175.7 277.1 L176.1 277.1 L176.5 277.1 L176.9 277.1 L177.3 277.1 L177.7 277.1 L178.1 277.1 L178.5 277.1 L178.9 277.1 L179.3 277.1 L179.7 277.1 L180.1 277.1 L180.5 277.1 L180.9 277.1 L181.3 277.1 L181.7 277.1 L182.1 277.1 L182.5 277.1 L182.9 277.1 L183.3 277.1 L183.7 277.1 L184.1 277.1 L184.5 277.1 L184.9 277.1 L185.3 277.1 L185.7 277.1 L186.1 277.1 L186.5 277.1 L186.9 277.1 L187.3 277.1 L187.7 277.1 L188.1 277.1 L188.5 277 L188.9 277 L189.3 277 L189.7 277 L190.1 277 L190.5 277 L190.9 277 L191.3 277 L191.7 277 L192.1 277 L192.5 277 L192.9 277 L193.3 277 L193.7 277 L194.1 277 L194.5 277 L194.9 277 L195.3 277 L195.7 277 L196.1 277 L196.5 277 L196.9 277 L197.3 277 L197.7 277 L198.1 277 L198.5 277 L198.9 277 L199.3 277 L199.7 277 L200.1 277 L200.5 277 L200.9 277 L201.3 277 L201.7 277 L202.1 276.9 L202.5 276.9 L202.9 276.9 L203.3 276.9 L203.7 276.9 L204.1 276.9 L204.5 276.9 L204.9 276.9 L205.3 276.9 L205.7 276.9 L206.1 276.8 L206.5 276.8 L206.9 276.8 L207.3 276.8 L207.7 276.8 L208.1 276.7 L208.5 276.7 L208.9 276.7 L209.3 276.7 L209.7 276.6 L210.1 276.6 L210.5 276.6 L210.9 276.5 L211.3 276.4 L211.7 276.4 L212.1 276.3 L212.5 276.2 L212.9 276.1 L213.3 276 L213.7 275.9 L214.1 275.7 L214.5 275.5 L214.9 275.3 L215.3 275 L215.7 274.6 L216.1 274.1 L216.5 273.5 L216.9 272.6 L217.3 271.5 L217.7 269.9 L218.1 267.6 L218.5 264.3 L218.9 259.7 L219.3 254 L219.7 248.8 L220.1 247.5 L220.5 251.1 L220.9 257 L221.3 262.2 L221.7 266.1 L222.1 268.8 L222.5 270.8 L222.9 272.1 L223.3 273.1 L223.7 273.8 L224.1 274.4 L224.5 274.8 L224.9 275.1 L225.3 275.4 L225.7 275.6 L226.1 275.8 L226.5 276 L226.9 276.1 L227.3 276.2 L227.7 276.3 L228.1 276.4 L228.5 276.4 L228.9 276.5 L229.3 276.5 L229.7 276.6 L230.1 276.6 L230.5 276.7 L230.9 276.7 L231.3 276.7 L231.7 276.7 L232.1 276.8 L232.5 276.8 L232.9 276.8 L233.3 276.8 L233.7 276.8 L234.1 276.8 L234.5 276.9 L234.9 276.9 L235.3 276.9 L235.7 276.9 L236.1 276.9 L236.5 276.9 L236.9 276.9 L237.3 276.9 L237.7 276.9 L238.1 276.9 L238.5 277 L238.9 277 L239.3 277 L239.7 277 L240.1 277 L240.5 277 L240.9 277 L241.3 277 L241.7 277 L242.1 277 L242.5 277 L242.9 277 L243.3 277 L243.7 277 L244.1 277 L244.5 277 L244.9 277 L245.3 277 L245.7 277 L246.1 277 L246.5 277 L246.9 277 L247.3 277 L247.7 277 L248.1 277 L248.5 277 L248.9 277 L249.3 277 L249.7 277 L250.1 277 L250.5 277 L250.9 277 L251.3 277 L251.7 277 L252.1 277.1 L252.5 277.1 L252.9 277.1 L253.3 277.1 L253.7 277.1 L254.1 277.1 L254.5 277.1 L254.9 277.1 L255.3 277.1 L255.7 277.1 L256.1 277.1 L256.5 277.1 L256.9 277.1 L257.3 277.1 L257.7 277.1 L258.1 277.1 L258.5 277.1 L258.9 277.1 L259.3 277.1 L259.7 277.1 L260.1 277.1 L260.5 277.1 L260.9 277.1 L261.3 277.1 L261.7 277.1 L262.1 277.1 L262.5 277.1 L262.9 277.1 L263.3 277.1 L263.7 277.1 L264.1 277.1 L264.5 277.1 L264.9 277.1 L265.3 277.1 L265.7 277.1 L266.1 277.1 L266.5 277.1 L266.9 277.1 L267.3 277.1 L267.7 277.1 L268.1 277.1 L268.5 277.1 L268.9 277.1 L269.3 277.1 L269.7 277.1 L270.1 277.1 L270.5 277.1 L270.9 277.1 L271.3 277.1 L271.7 277.1 L272.1 277.1 L272.5 277.1 L272.9 277.1 L273.3 277.1 L273.7 277.1 L274.1 277.1 L274.5 277.1 L274.9 277.1 L275.3 277.1 L275.7 277.1 L276.1 277.1 L276.5 277.1 L276.9 277.1 L277.3 277.1 L277.7 277.1 L278.1 277.1 L278.5 277.1 L278.9 277.1 L279.3 277.1 L279.7 277.1 L280.1 277.1 L280.5 277.1 L280.9 277.1 L281.3 277.1 L281.7 277.1 L282.1 277.1 L282.5 277.1 L282.9 277.1 L283.3 277.1 L283.7 277.1 L284.1 277.1 L284.5 277.1 L284.9 277.1 L285.3 277.1 L285.7 277.1 L286.1 277.1 L286.5 277.1 L286.9 277.1 L287.3 277.1 L287.7 277.1 L288.1 277.1 L288.5 277.1 L288.9 277.1 L289.3 277.1 L289.7 277.1 L290.1 277.1 L290.5 277.1 L290.9 277.1 L291.3 277.1 L291.7 277.1 L292.1 277.1 L292.5 277.1 L292.9 277.1 L293.3 277.1 L293.7 277.1 L294.1 277.1 L294.5 277.1 L294.9 277.1 L295.3 277.1 L295.7 277.1 L296.1 277.1 L296.5 277.1 L296.9 277.1 L297.3 277.1 L297.7 277.1 L298.1 277.1 L298.5 277.1 L298.9 277.1 L299.3 277.1 L299.7 277.1 L300.1 277.1 L300.5 277.1 L300.9 277.1 L301.3 277.1 L301.7 277.1 L302.1 277.1 L302.5 277.1 L302.9 277.1 L303.3 277.1 L303.7 277.1 L304.1 277.1 L304.5 277.1 L304.9 277.1 L305.3 277.1 L305.7 277.1 L306.1 277.1 L306.5 277.1 L306.9 277.1 L307.3 277.1 L307.7 277.1 L308.1 277.1 L308.5 277.1 L308.9 277.1 L309.3 277.1 L309.7 277.1 L310.1 277.1 L310.5 277.1 L310.9 277.1 L311.3 277.1 L311.7 277.1 L312.1 277.1 L312.5 277.1 L312.9 277.1 L313.3 277.1 L313.7 277.1 L314.1 277.1 L314.5 277.1 L314.9 277.1 L315.3 277.1 L315.7 277.1 L316.1 277.1 L316.5 277.1 L316.9 277.1 L317.3 277.1 L317.7 277.1 L318.1 277.1 L318.5 277.1 L318.9 277.1 L319.3 277.1 L319.7 277.1 L320.1 277.1 L320.5 277.1 L320.9 277.1 L321.3 277.1 L321.7 277.1 L322.1 277.1 L322.5 277.1 L322.9 277.1 L323.3 277.1 L323.7 277.1 L324.1 277.1 L324.5 277.1 L324.9 277.1 L325.3 277.1 L325.7 277.1 L326.1 277.1 L326.5 277.1 L326.9 277.1 L327.3 277.1 L327.7 277.1 L328.1 277.1 L328.5 277.1 L328.9 277.1 L329.3 277.1 L329.7 277.1 L330.1 277.1 L330.5 277.1 L330.9 277.1 L331.3 277.1 L331.7 277.1 L332.1 277.1 L332.5 277.1 L332.9 277.1 L333.3 277.1 L333.7 277.1 L334.1 277.1 L334.5 277.1 L334.9 277.1 L335.3 277.1 L335.7 277.1 L336.1 277.1 L336.5 277.1 L336.9 277.1 L337.3 277.1 L337.7 277.1 L338.1 277.1 L338.5 277.1 L338.9 277.1 L339.3 277.1 L339.7 277.1 L340.1 277.1 L340.5 277.1 L340.9 277.1 L341.3 277.1 L341.7 277.1 L342.1 277.1 L342.5 277.1" fill="none" stroke="#1a1ac4" stroke-width="2.0" stroke-linejoin="round" stroke-linecap="round" clip-path="url(#cb)"/>
<path d="M54.5 276.5 L54.9 276.5 L55.3 276.5 L55.7 276.5 L56.1 276.5 L56.5 276.5 L56.9 276.5 L57.3 276.4 L57.7 276.4 L58.1 276.4 L58.5 276.4 L58.9 276.4 L59.3 276.4 L59.7 276.4 L60.1 276.4 L60.5 276.4 L60.9 276.4 L61.3 276.4 L61.7 276.4 L62.1 276.3 L62.5 276.3 L62.9 276.3 L63.3 276.3 L63.7 276.3 L64.1 276.3 L64.5 276.3 L64.9 276.3 L65.3 276.3 L65.7 276.3 L66.1 276.3 L66.5 276.3 L66.9 276.2 L67.3 276.2 L67.7 276.2 L68.1 276.2 L68.5 276.2 L68.9 276.2 L69.3 276.2 L69.7 276.2 L70.1 276.2 L70.5 276.2 L70.9 276.2 L71.3 276.2 L71.7 276.2 L72.1 276.1 L72.5 276.1 L72.9 276.1 L73.3 276.1 L73.7 276.1 L74.1 276.1 L74.5 276.1 L74.9 276.1 L75.3 276.1 L75.7 276.1 L76.1 276.1 L76.5 276.1 L76.9 276 L77.3 276 L77.7 276 L78.1 276 L78.5 276 L78.9 276 L79.3 276 L79.7 276 L80.1 276 L80.5 276 L80.9 276 L81.3 276 L81.7 275.9 L82.1 275.9 L82.5 275.9 L82.9 275.9 L83.3 275.9 L83.7 275.9 L84.1 275.9 L84.5 275.9 L84.9 275.9 L85.3 275.9 L85.7 275.9 L86.1 275.9 L86.5 275.8 L86.9 275.8 L87.3 275.8 L87.7 275.8 L88.1 275.8 L88.5 275.8 L88.9 275.8 L89.3 275.8 L89.7 275.8 L90.1 275.8 L90.5 275.8 L90.9 275.7 L91.3 275.7 L91.7 275.7 L92.1 275.7 L92.5 275.7 L92.9 275.7 L93.3 275.7 L93.7 275.7 L94.1 275.6 L94.5 275.6 L94.9 275.6 L95.3 275.6 L95.7 275.6 L96.1 275.6 L96.5 275.6 L96.9 275.6 L97.3 275.5 L97.7 275.5 L98.1 275.5 L98.5 275.5 L98.9 275.5 L99.3 275.5 L99.7 275.5 L100.1 275.5 L100.5 275.4 L100.9 275.4 L101.3 275.4 L101.7 275.4 L102.1 275.4 L102.5 275.4 L102.9 275.4 L103.3 275.4 L103.7 275.3 L104.1 275.3 L104.5 275.3 L104.9 275.3 L105.3 275.3 L105.7 275.3 L106.1 275.3 L106.5 275.3 L106.9 275.2 L107.3 275.2 L107.7 275.2 L108.1 275.2 L108.5 275.2 L108.9 275.3 L109.3 275.3 L109.7 275.3 L110.1 275.4 L110.5 275.4 L110.9 275.5 L111.3 275.5 L111.7 275.6 L112.1 275.6 L112.5 275.6 L112.9 275.7 L113.3 275.7 L113.7 275.8 L114.1 275.8 L114.5 275.9 L114.9 275.9 L115.3 275.9 L115.7 276 L116.1 276 L116.5 276.1 L116.9 276.1 L117.3 276.2 L117.7 276.2 L118.1 276.2 L118.5 276.3 L118.9 276.3 L119.3 276.3 L119.7 276.3 L120.1 276.3 L120.5 276.3 L120.9 276.3 L121.3 276.3 L121.7 276.3 L122.1 276.3 L122.5 276.3 L122.9 276.3 L123.3 276.3 L123.7 276.3 L124.1 276.3 L124.5 276.3 L124.9 276.3 L125.3 276.3 L125.7 276.3 L126.1 276.3 L126.5 276.3 L126.9 276.3 L127.3 276.3 L127.7 276.3 L128.1 276.3 L128.5 276.3 L128.9 276.3 L129.3 276.3 L129.7 276.3 L130.1 276.3 L130.5 276.3 L130.9 276.3 L131.3 276.3 L131.7 276.3 L132.1 276.3 L132.5 276.3 L132.9 276.3 L133.3 276.3 L133.7 276.3 L134.1 276.3 L134.5 276.3 L134.9 276.3 L135.3 276.3 L135.7 276.3 L136.1 276.3 L136.5 276.3 L136.9 276.3 L137.3 276.3 L137.7 276.3 L138.1 276.3 L138.5 276.3 L138.9 276.3 L139.3 276.3 L139.7 276.3 L140.1 276.3 L140.5 276.3 L140.9 276.3 L141.3 276.3 L141.7 276.3 L142.1 276.3 L142.5 276.3 L142.9 276.3 L143.3 276.3 L143.7 276.3 L144.1 276.3 L144.5 276.3 L144.9 276.3 L145.3 276.3 L145.7 276.3 L146.1 276.3 L146.5 276.3 L146.9 276.3 L147.3 276.3 L147.7 276.3 L148.1 276.3 L148.5 276.3 L148.9 276.3 L149.3 276.3 L149.7 276.3 L150.1 276.3 L150.5 276.3 L150.9 276.3 L151.3 276.3 L151.7 276.3 L152.1 276.3 L152.5 276.3 L152.9 276.3 L153.3 276.3 L153.7 276.3 L154.1 276.3 L154.5 276.3 L154.9 276.3 L155.3 276.3 L155.7 276.3 L156.1 276.3 L156.5 276.3 L156.9 276.3 L157.3 276.3 L157.7 276.3 L158.1 276.3 L158.5 276.3 L158.9 276.3 L159.3 276.3 L159.7 276.3 L160.1 276.3 L160.5 276.3 L160.9 276.3 L161.3 276.3 L161.7 276.3 L162.1 276.3 L162.5 276.3 L162.9 276.3 L163.3 276.3 L163.7 276.3 L164.1 276.3 L164.5 276.3 L164.9 276.3 L165.3 276.3 L165.7 276.3 L166.1 276.3 L166.5 276.3 L166.9 276.3 L167.3 276.3 L167.7 276.3 L168.1 276.3 L168.5 276.3 L168.9 276.3 L169.3 276.3 L169.7 276.3 L170.1 276.3 L170.5 276.3 L170.9 276.3 L171.3 276.3 L171.7 276.3 L172.1 276.3 L172.5 276.3 L172.9 276.3 L173.3 276.3 L173.7 276.3 L174.1 276.3 L174.5 276.3 L174.9 276.3 L175.3 276.3 L175.7 276.3 L176.1 276.3 L176.5 276.3 L176.9 276.3 L177.3 276.3 L177.7 276.3 L178.1 276.3 L178.5 276.3 L178.9 276.3 L179.3 276.3 L179.7 276.3 L180.1 276.3 L180.5 276.3 L180.9 276.3 L181.3 276.3 L181.7 276.3 L182.1 276.3 L182.5 276.3 L182.9 276.3 L183.3 276.3 L183.7 276.3 L184.1 276.3 L184.5 276.3 L184.9 276.3 L185.3 276.3 L185.7 276.3 L186.1 276.3 L186.5 276.3 L186.9 276.3 L187.3 276.3 L187.7 276.3 L188.1 276.3 L188.5 276.3 L188.9 276.3 L189.3 276.3 L189.7 276.3 L190.1 276.3 L190.5 276.3 L190.9 276.3 L191.3 276.3 L191.7 276.3 L192.1 276.3 L192.5 276.3 L192.9 276.3 L193.3 276.3 L193.7 276.3 L194.1 276.3 L194.5 276.3 L194.9 276.3 L195.3 276.3 L195.7 276.3 L196.1 276.3 L196.5 276.3 L196.9 276.3 L197.3 276.3 L197.7 276.3 L198.1 276.3 L198.5 276.3 L198.9 276.3 L199.3 276.3 L199.7 276.3 L200.1 276.3 L200.5 276.3 L200.9 276.3 L201.3 276.3 L201.7 276.3 L202.1 276.3 L202.5 276.3 L202.9 276.3 L203.3 276.3 L203.7 276.3 L204.1 276.3 L204.5 276.3 L204.9 276.3 L205.3 276.3 L205.7 276.3 L206.1 276.3 L206.5 276.3 L206.9 276.3 L207.3 276.3 L207.7 276.3 L208.1 276.3 L208.5 276.3 L208.9 276.3 L209.3 276.3 L209.7 276.3 L210.1 276.3 L210.5 276.3 L210.9 276.3 L211.3 276.3 L211.7 276.3 L212.1 276.3 L212.5 276.3 L212.9 276.3 L213.3 276.3 L213.7 276.3 L214.1 276.3 L214.5 276.3 L214.9 276.3 L215.3 276.3 L215.7 276.3 L216.1 276.3 L216.5 276.3 L216.9 276.3 L217.3 276.3 L217.7 276.3 L218.1 276.3 L218.5 276.3 L218.9 276.3 L219.3 276.3 L219.7 276.3 L220.1 276.3 L220.5 276.3 L220.9 276.3 L221.3 276.3 L221.7 276.3 L222.1 276.3 L222.5 276.3 L222.9 276.3 L223.3 276.3 L223.7 276.3 L224.1 276.3 L224.5 276.3 L224.9 276.3 L225.3 276.3 L225.7 276.3 L226.1 276.3 L226.5 276.3 L226.9 276.3 L227.3 276.3 L227.7 276.3 L228.1 276.3 L228.5 276.3 L228.9 276.3 L229.3 276.3 L229.7 276.3 L230.1 276.3 L230.5 276.3 L230.9 276.3 L231.3 276.3 L231.7 276.3 L232.1 276.3 L232.5 276.3 L232.9 276.3 L233.3 276.3 L233.7 276.3 L234.1 276.3 L234.5 276.3 L234.9 276.3 L235.3 276.3 L235.7 276.3 L236.1 276.3 L236.5 276.3 L236.9 276.3 L237.3 276.3 L237.7 276.3 L238.1 276.3 L238.5 276.3 L238.9 276.3 L239.3 276.3 L239.7 276.3 L240.1 276.3 L240.5 276.3 L240.9 276.3 L241.3 276.3 L241.7 276.3 L242.1 276.3 L242.5 276.3 L242.9 276.3 L243.3 276.3 L243.7 276.3 L244.1 276.3 L244.5 276.3 L244.9 276.3 L245.3 276.3 L245.7 276.3 L246.1 276.3 L246.5 276.3 L246.9 276.3 L247.3 276.3 L247.7 276.3 L248.1 276.2 L248.5 276.2 L248.9 276.2 L249.3 276.2 L249.7 276.2 L250.1 276.2 L250.5 276.2 L250.9 276.2 L251.3 276.2 L251.7 276.2 L252.1 276.2 L252.5 276.2 L252.9 276.2 L253.3 276.2 L253.7 276.2 L254.1 276.2 L254.5 276.2 L254.9 276.2 L255.3 276.2 L255.7 276.2 L256.1 276.2 L256.5 276.1 L256.9 276.1 L257.3 276.1 L257.7 276.1 L258.1 276.1 L258.5 276.1 L258.9 276.1 L259.3 276 L259.7 276 L260.1 276 L260.5 275.9 L260.9 275.9 L261.3 275.8 L261.7 275.8 L262.1 275.7 L262.5 275.6 L262.9 275.5 L263.3 275.3 L263.7 275.1 L264.1 274.9 L264.5 274.6 L264.9 274.1 L265.3 273.6 L265.7 272.8 L266.1 271.8 L266.5 270.7 L266.9 269.9 L267.3 269.7 L267.7 270.3 L268.1 271.3 L268.5 272.4 L268.9 273.3 L269.3 274 L269.7 274.6 L270.1 275 L270.5 275.3 L270.9 275.6 L271.3 275.8 L271.7 276 L272.1 276.1 L272.5 276.2 L272.9 276.3 L273.3 276.4 L273.7 276.5 L274.1 276.6 L274.5 276.7 L274.9 276.8 L275.3 276.8 L275.7 276.9 L276.1 277 L276.5 277 L276.9 277.1 L277.3 277.1 L277.7 277.2 L278.1 277.2 L278.5 277.2 L278.9 277.3 L279.3 277.3 L279.7 277.3 L280.1 277.3 L280.5 277.3 L280.9 277.3 L281.3 277.3 L281.7 277.3 L282.1 277.3 L282.5 277.3 L282.9 277.3 L283.3 277.3 L283.7 277.3 L284.1 277.3 L284.5 277.3 L284.9 277.3 L285.3 277.3 L285.7 277.3 L286.1 277.3 L286.5 277.3 L286.9 277.3 L287.3 277.3 L287.7 277.3 L288.1 277.3 L288.5 277.3 L288.9 277.3 L289.3 277.3 L289.7 277.3 L290.1 277.3 L290.5 277.2 L290.9 277.2 L291.3 277.2 L291.7 277.2 L292.1 277.2 L292.5 277.2 L292.9 277.1 L293.3 277.1 L293.7 277.1 L294.1 277.1 L294.5 277 L294.9 277 L295.3 276.9 L295.7 276.8 L296.1 276.8 L296.5 276.7 L296.9 276.6 L297.3 276.6 L297.7 276.6 L298.1 276.5 L298.5 276.6 L298.9 276.6 L299.3 276.7 L299.7 276.7 L300.1 276.8 L300.5 276.9 L300.9 276.9 L301.3 277 L301.7 277 L302.1 277 L302.5 277.1 L302.9 277.1 L303.3 277.1 L303.7 277.1 L304.1 277.2 L304.5 277.2 L304.9 277.2 L305.3 277.2 L305.7 277.2 L306.1 277.2 L306.5 277.2 L306.9 277.2 L307.3 277.2 L307.7 277.1 L308.1 277.1 L308.5 277.1 L308.9 277.1 L309.3 277.1 L309.7 277 L310.1 277 L310.5 276.9 L310.9 276.8 L311.3 276.7 L311.7 276.6 L312.1 276.4 L312.5 276.2 L312.9 275.9 L313.3 275.4 L313.7 274.9 L314.1 274.1 L314.5 273.4 L314.9 273 L315.3 273.1 L315.7 273.8 L316.1 274.5 L316.5 275.2 L316.9 275.7 L317.3 276.1 L317.7 276.3 L318.1 276.5 L318.5 276.7 L318.9 276.8 L319.3 276.9 L319.7 277 L320.1 277 L320.5 277.1 L320.9 277.1 L321.3 277.1 L321.7 277.2 L322.1 277.2 L322.5 277.2 L322.9 277.2 L323.3 277.2 L323.7 277.3 L324.1 277.3 L324.5 277.3 L324.9 277.3 L325.3 277.3 L325.7 277.3 L326.1 277.3 L326.5 277.3 L326.9 277.3 L327.3 277.3 L327.7 277.3 L328.1 277.3 L328.5 277.3 L328.9 277.3 L329.3 277.3 L329.7 277.3 L330.1 277.3 L330.5 277.3 L330.9 277.4 L331.3 277.4 L331.7 277.4 L332.1 277.4 L332.5 277.4 L332.9 277.4 L333.3 277.4 L333.7 277.4 L334.1 277.4 L334.5 277.4 L334.9 277.4 L335.3 277.4 L335.7 277.4 L336.1 277.4 L336.5 277.4 L336.9 277.4 L337.3 277.4 L337.7 277.4 L338.1 277.4 L338.5 277.4 L338.9 277.4 L339.3 277.4 L339.7 277.4 L340.1 277.4 L340.5 277.4 L340.9 277.4 L341.3 277.4 L341.7 277.4 L342.1 277.4 L342.5 277.4" fill="none" stroke="#ee8ae8" stroke-width="1.7" stroke-linejoin="round" stroke-linecap="round" clip-path="url(#cb)"/>
<path d="M342.6 68C343.4 68.2 345.2 69.3 347.1 69.2C349 69.1 352.2 67.3 354.2 67.4C356.2 67.5 357.2 69.6 359 69.8C360.8 70 363.3 68.5 364.9 68.6C366.5 68.7 367.5 69.7 368.4 70.4C369.2 71.1 369.3 71.8 370 73C370.7 74.2 371.6 76.2 372.4 77.8C373.2 79.4 373.7 82.1 374.7 82.5C375.7 82.9 377.3 79.8 378.3 80.2C379.3 80.6 379.8 82.9 380.6 84.9C381.4 86.9 382.3 89.7 383 92C383.7 94.3 384.2 96.5 384.8 98.5C385.4 100.5 385.7 101.9 386.4 104.2C387.1 106.5 388.2 111.7 389 112.5C389.8 113.3 390.3 110 390.9 109.3C391.5 108.5 392.3 107.6 392.8 108C393.3 108.4 393.5 110 394.1 111.9C394.7 113.8 395.5 116.7 396.6 119.5C397.7 122.3 399 125.6 400.5 128.5C402 131.4 404.4 136.6 405.6 136.8C406.8 137 406.9 129.9 407.5 129.8C408.1 129.7 408.4 134.3 409.4 136.2C410.3 138.1 411.7 140 413.2 141.3C414.7 142.6 416.7 143.2 418.4 143.8C420.1 144.4 422.4 145.7 423.5 145.1C424.6 144.5 424.3 139.8 424.8 140C425.3 140.2 425 144.7 426.3 146C427.6 147.3 431.1 147.5 432.8 147.7C434.5 147.9 434.3 146.9 436.3 147.1C438.3 147.3 436.3 148.6 445 149C477.4 149.4 599.8 149.2 630.7 149.3" fill="none" stroke="#177d22" stroke-width="1.9" stroke-linejoin="round" stroke-linecap="round" clip-path="url(#cc)"/>
<path d="M445 149 L445.4 149 L445.8 149 L446.2 149 L446.6 149 L447 149 L447.4 149 L447.8 149 L448.2 149 L448.6 148.9 L449 148.9 L449.4 148.9 L449.8 148.9 L450.2 148.9 L450.6 148.9 L451 148.9 L451.4 148.9 L451.8 148.9 L452.2 148.9 L452.6 148.9 L453 148.9 L453.4 148.9 L453.8 148.8 L454.2 148.8 L454.6 148.8 L455 148.8 L455.4 148.7 L455.8 148.7 L456.2 148.6 L456.6 148.5 L457 148.4 L457.4 148.3 L457.8 148.1 L458.2 147.8 L458.6 147.3 L459 146.6 L459.4 145.4 L459.8 143.4 L460.2 140.7 L460.6 139 L461 140.7 L461.4 143.4 L461.8 145.4 L462.2 146.6 L462.6 147.3 L463 147.8 L463.4 148.1 L463.8 148.3 L464.2 148.4 L464.6 148.5 L465 148.6 L465.4 148.7 L465.8 148.7 L466.2 148.8 L466.6 148.8 L467 148.8 L467.4 148.9 L467.8 148.9 L468.2 148.9 L468.6 148.9 L469 148.9 L469.4 148.9 L469.8 148.9 L470.2 148.9 L470.6 149 L471 149 L471.4 149 L471.8 149 L472.2 149 L472.6 149 L473 149 L473.4 149 L473.8 149 L474.2 149 L474.6 149 L475 149 L475.4 149 L475.8 149 L476.2 149 L476.6 149 L477 149 L477.4 149 L477.8 149 L478.2 149 L478.6 149 L479 149 L479.4 149 L479.8 149 L480.2 149 L480.6 149 L481 149 L481.4 149 L481.8 149 L482.2 149 L482.6 149 L483 149 L483.4 149 L483.8 149 L484.2 149 L484.6 149 L485 149 L485.4 149 L485.8 149 L486.2 148.9 L486.6 148.9 L487 148.9 L487.4 148.9 L487.8 148.8 L488.2 148.7 L488.6 148.6 L489 148.5 L489.4 148.2 L489.8 147.7 L490.2 146.8 L490.6 145.6 L491 145.1 L491.4 146.2 L491.8 147.3 L492.2 148 L492.6 148.3 L493 148.6 L493.4 148.7 L493.8 148.8 L494.2 148.8 L494.6 148.9 L495 148.9 L495.4 149 L495.8 149 L496.2 149 L496.6 149 L497 149 L497.4 149 L497.8 149 L498.2 149 L498.6 149 L499 149 L499.4 149 L499.8 149 L500.2 149.1 L500.6 149.1 L501 149.1 L501.4 149.1 L501.8 149.1 L502.2 149.1 L502.6 149.1 L503 149.1 L503.4 149.1 L503.8 149.1 L504.2 149.1 L504.6 149.1 L505 149.1 L505.4 149.1 L505.8 149.1 L506.2 149.1 L506.6 149.1 L507 149.1 L507.4 149.1 L507.8 149.1 L508.2 149.1 L508.6 149.1 L509 149.1 L509.4 149.1 L509.8 149.1 L510.2 149.1 L510.6 149.1 L511 149.1 L511.4 149.1 L511.8 149.1 L512.2 149.1 L512.6 149.1 L513 149.1 L513.4 149.1 L513.8 149.1 L514.2 149.1 L514.6 149.1 L515 149.1 L515.4 149.1 L515.8 149.1 L516.2 149.1 L516.6 149.1 L517 149.1 L517.4 149.1 L517.8 149.1 L518.2 149.1 L518.6 149.1 L519 149.1 L519.4 149.1 L519.8 149.1 L520.2 149.1 L520.6 149.1 L521 149.1 L521.4 149.1 L521.8 149.1 L522.2 149.1 L522.6 149.1 L523 149.1 L523.4 149.1 L523.8 149.1 L524.2 149.1 L524.6 149.1 L525 149 L525.4 149 L525.8 149 L526.2 149 L526.6 148.9 L527 148.9 L527.4 148.8 L527.8 148.7 L528.2 148.5 L528.6 148.1 L529 147.4 L529.4 146.5 L529.8 146.2 L530.2 147 L530.6 147.8 L531 148.3 L531.4 148.6 L531.8 148.8 L532.2 148.9 L532.6 148.9 L533 149 L533.4 149 L533.8 149 L534.2 149 L534.6 149.1 L535 149.1 L535.4 149.1 L535.8 149.1 L536.2 149.1 L536.6 149.1 L537 149.1 L537.4 149.1 L537.8 149.1 L538.2 149.1 L538.6 149.1 L539 149.1 L539.4 149.1 L539.8 149.1 L540.2 149.1 L540.6 149.1 L541 149.1 L541.4 149.1 L541.8 149.1 L542.2 149.1 L542.6 149.1 L543 149.1 L543.4 149.1 L543.8 149.1 L544.2 149.1 L544.6 149.1 L545 149.1 L545.4 149.2 L545.8 149.2 L546.2 149.2 L546.6 149.2 L547 149.2 L547.4 149.2 L547.8 149.2 L548.2 149.2 L548.6 149.2 L549 149.2 L549.4 149.2 L549.8 149.2 L550.2 149.2 L550.6 149.2 L551 149.2 L551.4 149.2 L551.8 149.2 L552.2 149.2 L552.6 149.2 L553 149.2 L553.4 149.2 L553.8 149.2 L554.2 149.2 L554.6 149.2 L555 149.2 L555.4 149.2 L555.8 149.2 L556.2 149.2 L556.6 149.2 L557 149.2 L557.4 149.2 L557.8 149.2 L558.2 149.2 L558.6 149.2 L559 149.2 L559.4 149.2 L559.8 149.2 L560.2 149.2 L560.6 149.2 L561 149.2 L561.4 149.2 L561.8 149.2 L562.2 149.2 L562.6 149.2 L563 149.2 L563.4 149.2 L563.8 149.2 L564.2 149.2 L564.6 149.2 L565 149.2 L565.4 149.2 L565.8 149.2 L566.2 149.2 L566.6 149.2 L567 149.2 L567.4 149.2 L567.8 149.2 L568.2 149.2 L568.6 149.2 L569 149.2 L569.4 149.2 L569.8 149.1 L570.2 149.1 L570.6 149.1 L571 149.1 L571.4 149.1 L571.8 149.1 L572.2 149 L572.6 149 L573 148.8 L573.4 148.7 L573.8 148.3 L574.2 147.8 L574.6 147.2 L575 147.5 L575.4 148.1 L575.8 148.5 L576.2 148.8 L576.6 148.9 L577 149 L577.4 149.1 L577.8 149.1 L578.2 149.1 L578.6 149.1 L579 149.1 L579.4 149.2 L579.8 149.2 L580.2 149.2 L580.6 149.2 L581 149.2 L581.4 149.2 L581.8 149.2 L582.2 149.2 L582.6 149.2 L583 149.2 L583.4 149.2 L583.8 149.2 L584.2 149.2 L584.6 149.2 L585 149.2 L585.4 149.2 L585.8 149.2 L586.2 149.2 L586.6 149.2 L587 149.2 L587.4 149.2 L587.8 149.2 L588.2 149.2 L588.6 149.2 L589 149.2 L589.4 149.2 L589.8 149.2 L590.2 149.2 L590.6 149.2 L591 149.2 L591.4 149.2 L591.8 149.2 L592.2 149.2 L592.6 149.2 L593 149.2 L593.4 149.2 L593.8 149.2 L594.2 149.2 L594.6 149.2 L595 149.2 L595.4 149.2 L595.8 149.2 L596.2 149.2 L596.6 149.2 L597 149.2 L597.4 149.2 L597.8 149.2 L598.2 149.2 L598.6 149.2 L599 149.2 L599.4 149.2 L599.8 149.2 L600.2 149.2 L600.6 149.2 L601 149.2 L601.4 149.2 L601.8 149.3 L602.2 149.3 L602.6 149.3 L603 149.3 L603.4 149.3 L603.8 149.3 L604.2 149.3 L604.6 149.3 L605 149.3 L605.4 149.3 L605.8 149.3 L606.2 149.3 L606.6 149.3 L607 149.3 L607.4 149.3 L607.8 149.3 L608.2 149.3 L608.6 149.3 L609 149.3 L609.4 149.3 L609.8 149.3 L610.2 149.3 L610.6 149.3 L611 149.3 L611.4 149.3 L611.8 149.3 L612.2 149.3 L612.6 149.3 L613 149.3 L613.4 149.3 L613.8 149.3 L614.2 149.3 L614.6 149.3 L615 149.3 L615.4 149.3 L615.8 149.3 L616.2 149.3 L616.6 149.3 L617 149.3 L617.4 149.3 L617.8 149.3 L618.2 149.3 L618.6 149.3 L619 149.3 L619.4 149.3 L619.8 149.3 L620.2 149.3 L620.6 149.3 L621 149.3 L621.4 149.3 L621.8 149.3 L622.2 149.3 L622.6 149.3 L623 149.3 L623.4 149.3 L623.8 149.3 L624.2 149.3 L624.6 149.3 L625 149.3 L625.4 149.3 L625.8 149.3 L626.2 149.3 L626.6 149.3 L627 149.3 L627.4 149.3 L627.8 149.3 L628.2 149.3 L628.6 149.3 L629 149.3 L629.4 149.3 L629.8 149.3 L630.2 149.3 L630.6 149.3" fill="none" stroke="#177d22" stroke-width="1.9" stroke-linejoin="round" stroke-linecap="round" clip-path="url(#cc)"/>
<path d="M342.6 39.2C343.1 38.9 344.4 37.4 345.6 37.3C346.8 37.2 348.4 38.6 349.7 38.6C351 38.6 352.3 37.2 353.6 37.2C354.9 37.2 356.2 38.8 357.4 38.8C358.6 38.8 359.7 37.3 361 37.4C362.3 37.5 364 39 365 39.5C366 40 366.2 40.3 367 40.4C367.8 40.5 369.1 39.9 369.9 40.2C370.7 40.5 371.4 41 372 42C372.6 43 372.8 44.1 373.5 45.9C374.2 47.7 375.6 52.1 376.5 53C377.4 53.9 378.1 51.2 378.9 51.2C379.7 51.2 380.5 51.5 381.2 53C381.9 54.5 382.4 57.1 383 60.1C383.6 63.1 384.2 67.5 384.8 70.7C385.4 73.9 385.9 78.2 386.5 79C387.1 79.8 387.7 76.8 388.3 75.4C388.9 74 389.5 70.3 390.1 70.7C390.7 71.1 391.2 75 391.8 77.8C392.4 80.5 393.1 84.3 393.6 87.2C394.1 90.1 394.2 92.4 394.7 95.2C395.2 98 396 101.6 396.6 104.2C397.2 106.8 397.9 111.2 398.5 110.6C399.1 109.9 400 102.9 400.5 100.3C401 97.7 401.3 93.9 401.7 95.2C402.1 96.5 402.4 104.2 403 108C403.6 111.8 404.5 115.4 405.6 118.2C406.7 121 408.4 123.7 409.4 124.6C410.3 125.5 410.7 125.8 411.3 123.4C411.9 121 412.5 109.6 413 110C413.5 110.4 413.6 121.3 414.5 125.9C415.4 130.5 416.9 134.8 418.4 137.4C419.9 140 421.8 140.2 423.5 141.3C425.2 142.4 427.2 143.3 428.6 143.8C430 144.3 430.8 144.8 432 144.5C433.2 144.2 434.6 141.6 435.7 141.8C436.8 142.1 436.3 145.2 438.7 146C441.1 146.8 445 146.4 450 146.5C455 146.6 463.9 146.3 468.9 146.5C473.9 146.7 476.8 147.2 480 147.5C483.2 147.8 486.2 148.7 488 148.2C489.8 147.7 490 144.4 490.9 144.5C491.8 144.6 490.9 147.9 493.5 148.6C497.5 149.3 511 149.1 515 148.8C517.3 148.5 516.5 147 517.3 147C518 147 518.2 148.7 519.5 149C520.8 149.3 520.6 149.1 525 149.1C529.4 149.1 542.2 149.3 546 149.1C547.5 148.9 547 147.8 547.5 147.8C548 147.8 547.5 148.9 549 149.1C562.9 149.3 617.1 149.2 630.7 149.2" fill="none" stroke="#e01b22" stroke-width="1.9" stroke-linejoin="round" stroke-linecap="round" clip-path="url(#cc)"/>
<path d="M495 149.3 L525 149.3" fill="none" stroke="#1a1ac4" stroke-width="2.0" stroke-linejoin="round" stroke-linecap="round" clip-path="url(#cc)"/>
<path d="M342.6 73.9 L343 73.8 L343.4 73.7 L343.8 73.7 L344.2 73.6 L344.6 73.5 L345 73.4 L345.4 73.4 L345.8 73.3 L346.2 73.2 L346.6 73.1 L347 73 L347.4 73 L347.8 72.9 L348.2 72.8 L348.6 72.7 L349 72.7 L349.4 72.6 L349.8 72.5 L350.2 72.4 L350.6 72.3 L351 72.3 L351.4 72.2 L351.8 72.1 L352.2 72.1 L352.6 72 L353 71.9 L353.4 71.9 L353.8 71.8 L354.2 71.8 L354.6 71.7 L355 71.7 L355.4 71.6 L355.8 71.5 L356.2 71.5 L356.6 71.4 L357 71.4 L357.4 71.3 L357.8 71.2 L358.2 71.2 L358.6 71.1 L359 71.1 L359.4 71 L359.8 71 L360.2 70.9 L360.6 70.8 L361 70.8 L361.4 70.7 L361.8 70.7 L362.2 70.6 L362.6 70.6 L363 70.5 L363.4 70.4 L363.8 70.4 L364.2 70.5 L364.6 70.5 L365 70.6 L365.4 70.6 L365.8 70.7 L366.2 70.8 L366.6 70.8 L367 70.9 L367.4 70.9 L367.8 71 L368.2 71 L368.6 71.1 L369 71.2 L369.4 71.2 L369.8 71.3 L370.2 71.3 L370.6 71.4 L371 71.5 L371.4 71.6 L371.8 71.7 L372.2 71.7 L372.6 71.8 L373 71.9 L373.4 72 L373.8 72.1 L374.2 72.2 L374.6 72.2 L375 72.3 L375.4 72.4 L375.8 72.5 L376.2 72.7 L376.6 72.9 L377 73.2 L377.4 73.4 L377.8 73.7 L378.2 73.9 L378.6 74.2 L379 74.4 L379.4 74.7 L379.8 74.9 L380.2 75.2 L380.6 75.4 L381 75.8 L381.4 76.2 L381.8 76.6 L382.2 77 L382.6 77.4 L383 77.8 L383.4 78.2 L383.8 78.6 L384.2 79 L384.6 79.6 L385 80.2 L385.4 80.8 L385.8 81.3 L386.2 81.9 L386.6 82.5 L387 83.1 L387.4 83.7 L387.8 84.3 L388.2 84.9 L388.6 85.5 L389 86.2 L389.4 86.9 L389.8 87.6 L390.2 88.2 L390.6 88.9 L391 89.6 L391.4 90.3 L391.8 91 L392.2 91.7 L392.6 92.4 L393 93 L393.4 93.7 L393.8 94.4 L394.2 95.1 L394.6 95.8 L395 96.5 L395.4 97.2 L395.8 97.9 L396.2 98.6 L396.6 99.3 L397 100 L397.4 100.7 L397.8 101.4 L398.2 102.2 L398.6 103 L399 103.8 L399.4 104.6 L399.8 105.4 L400.2 106.2 L400.6 107 L401 107.9 L401.4 108.7 L401.8 109.5 L402.2 110.3 L402.6 111.1 L403 111.9 L403.4 112.7 L403.8 113.5 L404.2 114.3 L404.6 115.1 L405 115.9 L405.4 116.7 L405.8 117.5 L406.2 118.3 L406.6 119.1 L407 119.9 L407.4 120.7 L407.8 121.5 L408.2 122.2 L408.6 122.7 L409 123.2 L409.4 123.7 L409.8 124.2 L410.2 124.7 L410.6 125.2 L411 125.7 L411.4 126.2 L411.8 126.7 L412.2 127.2 L412.6 127.7 L413 128.2 L413.4 128.7 L413.8 129 L414.2 129.4 L414.6 129.7 L415 130.1 L415.4 130.4 L415.8 130.7 L416.2 131.1 L416.6 131.4 L417 131.8 L417.4 132.1 L417.8 132.5 L418.2 132.8 L418.6 133.2 L419 133.5 L419.4 133.9 L419.8 134.2 L420.2 134.5 L420.6 134.9 L421 135.2 L421.4 135.6 L421.8 135.9 L422.2 136.3 L422.6 136.6 L423 137 L423.4 137.3 L423.8 137.6 L424.2 137.9 L424.6 138.2 L425 138.5 L425.4 138.8 L425.8 139.2 L426.2 139.5 L426.6 139.8 L427 140.1 L427.4 140.4 L427.8 140.7 L428.2 141 L428.6 141.3 L429 141.5 L429.4 141.7 L429.8 141.9 L430.2 142.2 L430.6 142.4 L431 142.6 L431.4 142.8 L431.8 143 L432.2 143.3 L432.6 143.5 L433 143.7 L433.4 143.8 L433.8 144 L434.2 144.2 L434.6 144.3 L435 144.5 L435.4 144.6 L435.8 144.8 L436.2 145 L436.6 145.1 L437 145.3 L437.4 145.5 L437.8 145.6 L438.2 145.8 L438.6 145.9 L439 146 L439.4 146.1 L439.8 146.1 L440.2 146.2 L440.6 146.2 L441 146.3 L441.4 146.3 L441.8 146.4 L442.2 146.4 L442.6 146.5 L443 146.5 L443.4 146.6 L443.8 146.6 L444.2 146.7 L444.6 146.7 L445 146.8 L445.4 146.8 L445.8 146.9 L446.2 146.9 L446.6 147 L447 147 L447.4 147.1 L447.8 147.1 L448.2 147.2 L448.6 147.2 L449 147.3 L449.4 147.3 L449.8 147.4 L450.2 147.4 L450.6 147.5 L451 147.5 L451.4 147.5 L451.8 147.6 L452.2 147.6 L452.6 147.6 L453 147.6 L453.4 147.7 L453.8 147.7 L454.2 147.7 L454.6 147.8 L455 147.8 L455.4 147.8 L455.8 147.8 L456.2 147.9 L456.6 147.9 L457 147.9 L457.4 147.9 L457.8 148 L458.2 148 L458.6 148 L459 148 L459.4 148.1 L459.8 148.1 L460.2 148.1 L460.6 148.2 L461 148.2 L461.4 148.2 L461.8 148.2 L462.2 148.3 L462.6 148.3 L463 148.3 L463.4 148.4 L463.8 148.4 L464.2 148.4 L464.6 148.4 L465 148.5 L465.4 148.5 L465.8 148.5 L466.2 148.6 L466.6 148.6 L467 148.6 L467.4 148.6 L467.8 148.7 L468.2 148.7 L468.6 148.7 L469 148.8 L469.4 148.8 L469.8 148.8 L470.2 148.9 L470.6 148.9 L471 148.9 L471.4 148.9 L471.8 149 L472.2 149 L472.6 149 L473 149.1 L473.4 149.1 L473.8 149.1 L474.2 149.1 L474.6 149.2 L475 149.2 L475.4 149.2 L475.8 149.2 L476.2 149.2 L476.6 149.2 L477 149.2 L477.4 149.1 L477.8 149.1 L478.2 149.1 L478.6 149.1 L479 149.1 L479.4 149.1 L479.8 149.1 L480.2 149.1 L480.6 149.1 L481 149.1 L481.4 149.1 L481.8 149.1 L482.2 149.1 L482.6 149.1 L483 149.1 L483.4 149.1 L483.8 149.1 L484.2 149.1 L484.6 149.1 L485 149.1 L485.4 149.1 L485.8 149.1 L486.2 149.1 L486.6 149.1 L487 149.1 L487.4 149.1 L487.8 149.1 L488.2 149.1 L488.6 149.1 L489 149.1 L489.4 149.1 L489.8 149.1 L490.2 149.1 L490.6 149 L491 149 L491.4 149 L491.8 149 L492.2 149 L492.6 149 L493 149 L493.4 149 L493.8 149 L494.2 149 L494.6 148.9 L495 148.9 L495.4 148.9 L495.8 148.9 L496.2 148.9 L496.6 148.8 L497 148.8 L497.4 148.8 L497.8 148.7 L498.2 148.7 L498.6 148.7 L499 148.6 L499.4 148.6 L499.8 148.5 L500.2 148.4 L500.6 148.3 L501 148.2 L501.4 148.1 L501.8 148 L502.2 147.8 L502.6 147.6 L503 147.4 L503.4 147 L503.8 146.6 L504.2 146.1 L504.6 145.5 L505 144.5 L505.4 143.3 L505.8 141.5 L506.2 138.9 L506.6 135.2 L507 130 L507.4 123.5 L507.8 118.4 L508.2 118.4 L508.6 123.5 L509 130 L509.4 135.2 L509.8 138.9 L510.2 141.5 L510.6 143.3 L511 144.5 L511.4 145.5 L511.8 146.1 L512.2 146.7 L512.6 147.1 L513 147.4 L513.4 147.6 L513.8 147.8 L514.2 148 L514.6 148.1 L515 148.2 L515.4 148.3 L515.8 148.4 L516.2 148.5 L516.6 148.6 L517 148.6 L517.4 148.7 L517.8 148.7 L518.2 148.8 L518.6 148.8 L519 148.8 L519.4 148.9 L519.8 148.9 L520.2 148.9 L520.6 148.9 L521 148.9 L521.4 149 L521.8 149 L522.2 149 L522.6 149 L523 149 L523.4 149 L523.8 149 L524.2 149 L524.6 149.1 L525 149.1 L525.4 149.1 L525.8 149.1 L526.2 149.1 L526.6 149.1 L527 149.1 L527.4 149.1 L527.8 149.1 L528.2 149.1 L528.6 149.1 L529 149.1 L529.4 149.1 L529.8 149.1 L530.2 149.1 L530.6 149.1 L531 149.1 L531.4 149.1 L531.8 149.1 L532.2 149.2 L532.6 149.2 L533 149.2 L533.4 149.2 L533.8 149.2 L534.2 149.2 L534.6 149.2 L535 149.2 L535.4 149.2 L535.8 149.2 L536.2 149.2 L536.6 149.2 L537 149.2 L537.4 149.2 L537.8 149.2 L538.2 149.2 L538.6 149.2 L539 149.2 L539.4 149.2 L539.8 149.2 L540.2 149.2 L540.6 149.2 L541 149.2 L541.4 149.2 L541.8 149.2 L542.2 149.2 L542.6 149.2 L543 149.2 L543.4 149.2 L543.8 149.2 L544.2 149.2 L544.6 149.2 L545 149.2 L545.4 149.2 L545.8 149.2 L546.2 149.2 L546.6 149.2 L547 149.2 L547.4 149.2 L547.8 149.2 L548.2 149.2 L548.6 149.2 L549 149.2 L549.4 149.2 L549.8 149.2 L550.2 149.2 L550.6 149.2 L551 149.2 L551.4 149.2 L551.8 149.2 L552.2 149.2 L552.6 149.2 L553 149.2 L553.4 149.2 L553.8 149.2 L554.2 149.2 L554.6 149.2 L555 149.2 L555.4 149.2 L555.8 149.2 L556.2 149.2 L556.6 149.2 L557 149.2 L557.4 149.2 L557.8 149.2 L558.2 149.2 L558.6 149.2 L559 149.2 L559.4 149.2 L559.8 149.2 L560.2 149.2 L560.6 149.2 L561 149.2 L561.4 149.2 L561.8 149.2 L562.2 149.2 L562.6 149.2 L563 149.2 L563.4 149.2 L563.8 149.2 L564.2 149.2 L564.6 149.2 L565 149.2 L565.4 149.2 L565.8 149.2 L566.2 149.2 L566.6 149.2 L567 149.2 L567.4 149.2 L567.8 149.2 L568.2 149.2 L568.6 149.2 L569 149.2 L569.4 149.2 L569.8 149.2 L570.2 149.2 L570.6 149.2 L571 149.2 L571.4 149.2 L571.8 149.3 L572.2 149.3 L572.6 149.3 L573 149.3 L573.4 149.3 L573.8 149.3 L574.2 149.3 L574.6 149.3 L575 149.3 L575.4 149.3 L575.8 149.3 L576.2 149.3 L576.6 149.3 L577 149.3 L577.4 149.3 L577.8 149.3 L578.2 149.3 L578.6 149.3 L579 149.3 L579.4 149.3 L579.8 149.3 L580.2 149.3 L580.6 149.3 L581 149.3 L581.4 149.3 L581.8 149.3 L582.2 149.3 L582.6 149.3 L583 149.3 L583.4 149.3 L583.8 149.3 L584.2 149.3 L584.6 149.3 L585 149.3 L585.4 149.3 L585.8 149.3 L586.2 149.3 L586.6 149.3 L587 149.3 L587.4 149.3 L587.8 149.3 L588.2 149.3 L588.6 149.3 L589 149.3 L589.4 149.3 L589.8 149.3 L590.2 149.3 L590.6 149.3 L591 149.3 L591.4 149.3 L591.8 149.3 L592.2 149.3 L592.6 149.3 L593 149.3 L593.4 149.3 L593.8 149.3 L594.2 149.3 L594.6 149.3 L595 149.3 L595.4 149.3 L595.8 149.3 L596.2 149.3 L596.6 149.3 L597 149.3 L597.4 149.3 L597.8 149.3 L598.2 149.3 L598.6 149.3 L599 149.3 L599.4 149.3 L599.8 149.3 L600.2 149.3 L600.6 149.3 L601 149.3 L601.4 149.3 L601.8 149.3 L602.2 149.3 L602.6 149.3 L603 149.3 L603.4 149.3 L603.8 149.3 L604.2 149.3 L604.6 149.3 L605 149.3 L605.4 149.3 L605.8 149.3 L606.2 149.3 L606.6 149.3 L607 149.3 L607.4 149.3 L607.8 149.3 L608.2 149.3 L608.6 149.3 L609 149.3 L609.4 149.3 L609.8 149.3 L610.2 149.3 L610.6 149.3 L611 149.3 L611.4 149.3 L611.8 149.3 L612.2 149.3 L612.6 149.3 L613 149.3 L613.4 149.3 L613.8 149.3 L614.2 149.3 L614.6 149.3 L615 149.3 L615.4 149.3 L615.8 149.3 L616.2 149.3 L616.6 149.3 L617 149.3 L617.4 149.3 L617.8 149.3 L618.2 149.3 L618.6 149.3 L619 149.3 L619.4 149.3 L619.8 149.3 L620.2 149.3 L620.6 149.3 L621 149.3 L621.4 149.3 L621.8 149.3 L622.2 149.3 L622.6 149.3 L623 149.3 L623.4 149.3 L623.8 149.3 L624.2 149.3 L624.6 149.3 L625 149.3 L625.4 149.3 L625.8 149.3 L626.2 149.3 L626.6 149.3 L627 149.3 L627.4 149.3 L627.8 149.3 L628.2 149.3 L628.6 149.3 L629 149.3 L629.4 149.3 L629.8 149.3 L630.2 149.3 L630.6 149.3" fill="none" stroke="#1a1ac4" stroke-width="2.0" stroke-linejoin="round" stroke-linecap="round" clip-path="url(#cc)"/>
<path d="M342.6 40.4C343.8 40.3 347.1 40 350 39.9C352.9 39.8 357.3 39.8 360 39.9C362.7 40 364.3 40.1 366 40.4C367.7 40.7 368.9 41.1 370 41.5C371.1 41.9 371.9 42.2 372.8 42.7C373.7 43.2 374.7 43.8 375.5 44.5C376.3 45.2 376.9 46.4 377.6 47.2C378.3 48.1 379.3 48.6 379.9 49.6C380.5 50.6 380.6 50.7 381.2 53C381.8 55.3 382.8 59.9 383.6 63.6C384.4 67.3 385.2 72 385.9 75.4C386.6 78.8 387.1 81.1 387.7 84C388.3 86.9 388.8 89.4 389.5 93C390.2 96.6 391.3 103 392.1 105.5C392.9 108 393.4 110.3 394.1 108C394.9 105.7 395.9 92.5 396.6 91.4C397.3 90.3 397.9 99.5 398.5 101.6C399.1 103.7 399.8 101.8 400.5 104.2C401.2 106.6 401.9 112.3 403 115.7C404.1 119.1 405.4 121.6 406.9 124.6C408.4 127.6 410.5 131.8 412 133.6C413.5 135.4 414.9 135.1 416 135.5C417.1 135.9 417.7 136.9 418.4 136.2C419.1 135.4 419.8 132.9 420.3 131C420.8 129.1 421.1 123.7 421.6 124.6C422.1 125.5 422.3 133.4 423.5 136.2C424.7 139 426.7 139.9 428.6 141.3C430.5 142.7 433.3 143.9 435 144.5C436.7 145.1 437.8 146.9 438.7 145C439.6 143.1 439.9 132.9 440.5 132.9C441.1 132.9 440.5 142.7 442.5 145C445.8 147.3 453.8 146.2 460 146.5C466.2 146.8 476.3 147.2 480 146.8C482.2 146.4 481.6 145 482.2 144C482.8 143 483.1 140.4 483.5 140.6C483.9 140.8 484.4 143.9 484.9 145C485.4 146.1 484.9 146.8 486.5 147.2C489 147.6 486.5 147.3 500 147.5C524 147.7 608.9 148.1 630.7 148.2" fill="none" stroke="#ee8ae8" stroke-width="1.9" stroke-linejoin="round" stroke-linecap="round" clip-path="url(#cc)"/>
<path d="M342.6 39.2C343.1 38.9 344.4 37.4 345.6 37.3C346.8 37.2 348.4 38.6 349.7 38.6C351 38.6 352.3 37.2 353.6 37.2C354.9 37.2 356.2 38.8 357.4 38.8C358.6 38.8 359.7 37.3 361 37.4C362.3 37.5 364 39 365 39.5C366 40 366.2 40.3 367 40.4C367.8 40.5 369.1 39.9 369.9 40.2C370.7 40.5 371.4 41 372 42C372.6 43 372.8 44.1 373.5 45.9C374.2 47.7 375.6 52.1 376.5 53C377.4 53.9 378.1 51.2 378.9 51.2C379.7 51.2 380.5 51.5 381.2 53C381.9 54.5 382.4 57.1 383 60.1C383.6 63.1 384.2 67.5 384.8 70.7C385.4 73.9 385.9 78.2 386.5 79C387.1 79.8 387.7 76.8 388.3 75.4C388.9 74 389.5 70.3 390.1 70.7C390.7 71.1 391.2 75 391.8 77.8C392.4 80.5 393.1 84.3 393.6 87.2C394.1 90.1 394.2 92.4 394.7 95.2C395.2 98 396 101.6 396.6 104.2C397.2 106.8 397.9 111.2 398.5 110.6C399.1 109.9 400 102.9 400.5 100.3C401 97.7 401.3 93.9 401.7 95.2C402.1 96.5 402.4 104.2 403 108C403.6 111.8 404.5 115.4 405.6 118.2C406.7 121 408.4 123.7 409.4 124.6C410.3 125.5 410.7 125.8 411.3 123.4C411.9 121 412.5 109.6 413 110C413.5 110.4 413.6 121.3 414.5 125.9C415.4 130.5 416.9 134.8 418.4 137.4C419.9 140 421.8 140.2 423.5 141.3C425.2 142.4 427.2 143.3 428.6 143.8C430 144.3 430.8 144.8 432 144.5C433.2 144.2 434.6 141.6 435.7 141.8C436.8 142.1 436.3 145.2 438.7 146C441.1 146.8 445 146.4 450 146.5C455 146.6 463.9 146.3 468.9 146.5C473.9 146.7 476.8 147.2 480 147.5C483.2 147.8 486.2 148.7 488 148.2C489.8 147.7 490 144.4 490.9 144.5C491.8 144.6 490.9 147.9 493.5 148.6C497.5 149.3 511 149.1 515 148.8C517.3 148.5 516.5 147 517.3 147C518 147 518.2 148.7 519.5 149C520.8 149.3 520.6 149.1 525 149.1C529.4 149.1 542.2 149.3 546 149.1C547.5 148.9 547 147.8 547.5 147.8C548 147.8 547.5 148.9 549 149.1C562.9 149.3 617.1 149.2 630.7 149.2" fill="none" stroke="#e01b22" stroke-width="1.9" stroke-linejoin="round" stroke-linecap="round" clip-path="url(#cc2)"/>
<path d="M342.6 276.5 L343 276.5 L343.4 276.5 L343.8 276.5 L344.2 276.5 L344.6 276.5 L345 276.5 L345.4 276.5 L345.8 276.5 L346.2 276.5 L346.6 276.5 L347 276.5 L347.4 276.5 L347.8 276.5 L348.2 276.5 L348.6 276.5 L349 276.5 L349.4 276.6 L349.8 276.6 L350.2 276.6 L350.6 276.6 L351 276.6 L351.4 276.6 L351.8 276.6 L352.2 276.6 L352.6 276.6 L353 276.6 L353.4 276.6 L353.8 276.6 L354.2 276.6 L354.6 276.6 L355 276.6 L355.4 276.6 L355.8 276.6 L356.2 276.6 L356.6 276.6 L357 276.6 L357.4 276.6 L357.8 276.6 L358.2 276.6 L358.6 276.6 L359 276.6 L359.4 276.6 L359.8 276.6 L360.2 276.6 L360.6 276.6 L361 276.6 L361.4 276.6 L361.8 276.6 L362.2 276.7 L362.6 276.7 L363 276.7 L363.4 276.7 L363.8 276.7 L364.2 276.7 L364.6 276.7 L365 276.7 L365.4 276.7 L365.8 276.7 L366.2 276.7 L366.6 276.7 L367 276.7 L367.4 276.7 L367.8 276.7 L368.2 276.7 L368.6 276.7 L369 276.7 L369.4 276.7 L369.8 276.7 L370.2 276.7 L370.6 276.7 L371 276.7 L371.4 276.7 L371.8 276.7 L372.2 276.7 L372.6 276.7 L373 276.7 L373.4 276.7 L373.8 276.7 L374.2 276.7 L374.6 276.7 L375 276.8 L375.4 276.8 L375.8 276.8 L376.2 276.8 L376.6 276.8 L377 276.8 L377.4 276.8 L377.8 276.8 L378.2 276.8 L378.6 276.8 L379 276.8 L379.4 276.8 L379.8 276.8 L380.2 276.7 L380.6 276.6 L381 276.5 L381.4 276.4 L381.8 276.3 L382.2 276.2 L382.6 276 L383 275.9 L383.4 275.8 L383.8 275.7 L384.2 275.6 L384.6 275.3 L385 274.7 L385.4 274.1 L385.8 273.5 L386.2 272.9 L386.6 272.3 L387 271.9 L387.4 271.6 L387.8 271.3 L388.2 271 L388.6 270.6 L389 270.3 L389.4 270 L389.8 270.7 L390.2 271.4 L390.6 272.1 L391 272.8 L391.4 273.6 L391.8 274.3 L392.2 275 L392.6 275.1 L393 275.3 L393.4 275.4 L393.8 275.6 L394.2 275.8 L394.6 275.9 L395 276.1 L395.4 276.2 L395.8 276.4 L396.2 276.1 L396.6 275.4 L397 274.7 L397.4 274 L397.8 273.3 L398.2 272.7 L398.6 272.2 L399 271.8 L399.4 271.3 L399.8 270.8 L400.2 270.9 L400.6 271.6 L401 272.2 L401.4 272.9 L401.8 273.6 L402.2 274.3 L402.6 275.1 L403 275.8 L403.4 276.4 L403.8 276.5 L404.2 276.5 L404.6 276.5 L405 276.6 L405.4 276.6 L405.8 276.6 L406.2 276.6 L406.6 276.7 L407 276.7 L407.4 276.7 L407.8 276.7 L408.2 276.7 L408.6 276.7 L409 276.6 L409.4 276.5 L409.8 276.4 L410.2 276.2 L410.6 276 L411 275.7 L411.4 275.2 L411.8 274.5 L412.2 273.2 L412.6 271.5 L413 269.8 L413.4 269.8 L413.8 271.5 L414.2 273.2 L414.6 274.4 L415 275.2 L415.4 275.7 L415.8 276 L416.2 276.2 L416.6 276.4 L417 276.5 L417.4 276.6 L417.8 276.6 L418.2 276.7 L418.6 276.7 L419 276.8 L419.4 276.8 L419.8 276.8 L420.2 276.8 L420.6 276.8 L421 276.8 L421.4 276.9 L421.8 276.9 L422.2 276.9 L422.6 276.9 L423 276.9 L423.4 276.9 L423.8 276.9 L424.2 276.9 L424.6 276.9 L425 276.9 L425.4 276.9 L425.8 276.9 L426.2 276.9 L426.6 276.9 L427 276.9 L427.4 276.8 L427.8 276.8 L428.2 276.8 L428.6 276.8 L429 276.8 L429.4 276.8 L429.8 276.7 L430.2 276.7 L430.6 276.7 L431 276.6 L431.4 276.5 L431.8 276.4 L432.2 276.3 L432.6 276.1 L433 275.9 L433.4 275.6 L433.8 275.1 L434.2 274.6 L434.6 274.2 L435 274 L435.4 274.2 L435.8 274.6 L436.2 275.1 L436.6 275.6 L437 275.9 L437.4 276.1 L437.8 276.3 L438.2 276.4 L438.6 276.5 L439 276.6 L439.4 276.7 L439.8 276.7 L440.2 276.7 L440.6 276.8 L441 276.8 L441.4 276.8 L441.8 276.8 L442.2 276.8 L442.6 276.8 L443 276.8 L443.4 276.8 L443.8 276.8 L444.2 276.8 L444.6 276.8 L445 276.8 L445.4 276.8 L445.8 276.8 L446.2 276.7 L446.6 276.7 L447 276.6 L447.4 276.5 L447.8 276.4 L448.2 276.2 L448.6 276 L449 275.8 L449.4 275.8 L449.8 275.8 L450.2 276 L450.6 276.2 L451 276.4 L451.4 276.5 L451.8 276.6 L452.2 276.7 L452.6 276.8 L453 276.8 L453.4 276.8 L453.8 276.9 L454.2 276.9 L454.6 276.9 L455 276.9 L455.4 276.9 L455.8 276.9 L456.2 276.9 L456.6 276.9 L457 276.9 L457.4 276.9 L457.8 276.9 L458.2 276.9 L458.6 277 L459 277 L459.4 277 L459.8 277 L460.2 277 L460.6 277 L461 277 L461.4 277 L461.8 277 L462.2 277 L462.6 277 L463 277 L463.4 277 L463.8 277 L464.2 277 L464.6 277 L465 277 L465.4 277 L465.8 277 L466.2 277 L466.6 277 L467 277 L467.4 277 L467.8 277 L468.2 277 L468.6 277 L469 277 L469.4 277 L469.8 277 L470.2 277 L470.6 277 L471 277 L471.4 277 L471.8 277 L472.2 277 L472.6 277 L473 277 L473.4 277 L473.8 277 L474.2 277 L474.6 277 L475 277 L475.4 277 L475.8 277 L476.2 277 L476.6 277 L477 277 L477.4 277 L477.8 277 L478.2 277 L478.6 277 L479 277 L479.4 277 L479.8 277 L480.2 277 L480.6 277 L481 277 L481.4 277 L481.8 277 L482.2 277 L482.6 277 L483 277 L483.4 277 L483.8 277 L484.2 277 L484.6 277 L485 277 L485.4 277 L485.8 277 L486.2 277 L486.6 277 L487 277 L487.4 277 L487.8 277 L488.2 277 L488.6 277 L489 277 L489.4 277 L489.8 277 L490.2 277 L490.6 277 L491 277 L491.4 277 L491.8 277 L492.2 277 L492.6 277 L493 277 L493.4 277 L493.8 277 L494.2 277 L494.6 277 L495 277 L495.4 277 L495.8 277 L496.2 277 L496.6 277 L497 277 L497.4 277 L497.8 277 L498.2 277 L498.6 277 L499 277 L499.4 277 L499.8 277 L500.2 277 L500.6 277 L501 277 L501.4 277 L501.8 277 L502.2 277 L502.6 277 L503 277 L503.4 277 L503.8 277 L504.2 277 L504.6 277 L505 277 L505.4 277 L505.8 277 L506.2 277 L506.6 277 L507 277 L507.4 277 L507.8 277 L508.2 277 L508.6 277 L509 277 L509.4 277 L509.8 277 L510.2 277 L510.6 277 L511 277 L511.4 277 L511.8 277 L512.2 277 L512.6 277 L513 277 L513.4 277 L513.8 277 L514.2 277 L514.6 277 L515 277 L515.4 277 L515.8 277 L516.2 276.9 L516.6 276.9 L517 276.9 L517.4 276.9 L517.8 276.9 L518.2 276.8 L518.6 276.7 L519 276.6 L519.4 276.5 L519.8 276.4 L520.2 276.4 L520.6 276.5 L521 276.6 L521.4 276.7 L521.8 276.8 L522.2 276.9 L522.6 276.9 L523 276.9 L523.4 276.9 L523.8 276.9 L524.2 277 L524.6 277 L525 277 L525.4 277 L525.8 277 L526.2 277 L526.6 277 L527 277 L527.4 277 L527.8 277 L528.2 277 L528.6 277 L529 277 L529.4 277 L529.8 277 L530.2 277 L530.6 277 L531 277 L531.4 277 L531.8 277 L532.2 277 L532.6 277 L533 277 L533.4 277 L533.8 277 L534.2 277 L534.6 277 L535 277 L535.4 277 L535.8 277 L536.2 277 L536.6 277 L537 277 L537.4 277 L537.8 277 L538.2 277 L538.6 277 L539 277 L539.4 277 L539.8 277 L540.2 277 L540.6 277 L541 277 L541.4 277 L541.8 277 L542.2 277 L542.6 277 L543 277 L543.4 277 L543.8 277 L544.2 277 L544.6 277 L545 277 L545.4 277 L545.8 277 L546.2 277 L546.6 277 L547 277 L547.4 277 L547.8 277 L548.2 277 L548.6 277 L549 277 L549.4 277 L549.8 277 L550.2 277 L550.6 277 L551 277 L551.4 277 L551.8 277 L552.2 277 L552.6 277 L553 277 L553.4 277 L553.8 277 L554.2 277 L554.6 277 L555 277 L555.4 277 L555.8 277 L556.2 277 L556.6 277 L557 277 L557.4 277 L557.8 277 L558.2 277 L558.6 277 L559 277 L559.4 277 L559.8 277 L560.2 277 L560.6 277 L561 277 L561.4 277 L561.8 277 L562.2 277 L562.6 277 L563 277 L563.4 277 L563.8 277 L564.2 277 L564.6 277 L565 277 L565.4 277 L565.8 277 L566.2 277 L566.6 277 L567 277 L567.4 277 L567.8 277 L568.2 277 L568.6 277 L569 277 L569.4 277 L569.8 277 L570.2 277 L570.6 277 L571 277 L571.4 277 L571.8 277 L572.2 277 L572.6 277 L573 277 L573.4 277 L573.8 277 L574.2 277 L574.6 277 L575 277 L575.4 277 L575.8 277 L576.2 277 L576.6 277 L577 277 L577.4 277 L577.8 277 L578.2 277 L578.6 277 L579 277 L579.4 277 L579.8 277 L580.2 277 L580.6 277 L581 277 L581.4 277 L581.8 277 L582.2 277 L582.6 277 L583 277 L583.4 277 L583.8 277 L584.2 277 L584.6 277 L585 277 L585.4 277 L585.8 277 L586.2 277 L586.6 277 L587 277 L587.4 277 L587.8 277 L588.2 277 L588.6 277 L589 277 L589.4 277 L589.8 277 L590.2 277 L590.6 277 L591 277 L591.4 277 L591.8 277 L592.2 277 L592.6 277 L593 277 L593.4 277 L593.8 277 L594.2 277 L594.6 277 L595 277 L595.4 277 L595.8 277 L596.2 277 L596.6 277 L597 277 L597.4 277 L597.8 277 L598.2 277 L598.6 277 L599 277 L599.4 277 L599.8 277 L600.2 277 L600.6 277 L601 277 L601.4 277 L601.8 277 L602.2 277 L602.6 277 L603 277 L603.4 277 L603.8 277 L604.2 277 L604.6 277 L605 277 L605.4 277 L605.8 277 L606.2 277 L606.6 277 L607 277 L607.4 277 L607.8 277 L608.2 277 L608.6 277 L609 277 L609.4 277 L609.8 277 L610.2 277 L610.6 277 L611 277 L611.4 277 L611.8 277 L612.2 277 L612.6 277 L613 277 L613.4 277 L613.8 277 L614.2 277 L614.6 277 L615 277 L615.4 277 L615.8 277 L616.2 277 L616.6 277 L617 277 L617.4 277 L617.8 277 L618.2 277 L618.6 277 L619 277 L619.4 277 L619.8 277 L620.2 277 L620.6 277 L621 277 L621.4 277 L621.8 277 L622.2 277 L622.6 277 L623 277 L623.4 277 L623.8 277 L624.2 277 L624.6 277 L625 277 L625.4 277 L625.8 277 L626.2 277 L626.6 277 L627 277 L627.4 277 L627.8 277 L628.2 277 L628.6 277 L629 277 L629.4 277 L629.8 277 L630.2 277 L630.6 277" fill="none" stroke="#e01b22" stroke-width="1.9" stroke-linejoin="round" stroke-linecap="round" clip-path="url(#cd)"/>
<path d="M342.6 277.1 L343 277.1 L343.4 277.1 L343.8 277.1 L344.2 277.1 L344.6 277.1 L345 277.1 L345.4 277.1 L345.8 277.1 L346.2 277 L346.6 277 L347 277 L347.4 277 L347.8 277 L348.2 277 L348.6 277 L349 277 L349.4 277 L349.8 277 L350.2 277 L350.6 277 L351 277 L351.4 277 L351.8 277 L352.2 277 L352.6 277 L353 277 L353.4 276.9 L353.8 276.9 L354.2 276.9 L354.6 276.9 L355 276.9 L355.4 276.9 L355.8 276.9 L356.2 276.9 L356.6 276.9 L357 276.9 L357.4 276.9 L357.8 276.9 L358.2 276.9 L358.6 276.9 L359 276.9 L359.4 276.9 L359.8 276.9 L360.2 276.9 L360.6 276.8 L361 276.8 L361.4 276.8 L361.8 276.8 L362.2 276.8 L362.6 276.8 L363 276.8 L363.4 276.8 L363.8 276.8 L364.2 276.8 L364.6 276.8 L365 276.8 L365.4 276.7 L365.8 276.7 L366.2 276.6 L366.6 276.5 L367 276.5 L367.4 276.4 L367.8 276.3 L368.2 276.3 L368.6 276.2 L369 276.1 L369.4 276.1 L369.8 276 L370.2 275.9 L370.6 275.9 L371 275.8 L371.4 275.7 L371.8 275.7 L372.2 275.6 L372.6 275.5 L373 275.5 L373.4 275.5 L373.8 275.6 L374.2 275.6 L374.6 275.7 L375 275.7 L375.4 275.8 L375.8 275.9 L376.2 275.9 L376.6 276 L377 276 L377.4 276.1 L377.8 276.1 L378.2 276.2 L378.6 276.2 L379 276.3 L379.4 276.3 L379.8 276.4 L380.2 276.4 L380.6 276.5 L381 276.5 L381.4 276.5 L381.8 276.5 L382.2 276.5 L382.6 276.5 L383 276.5 L383.4 276.5 L383.8 276.5 L384.2 276.5 L384.6 276.5 L385 276.5 L385.4 276.5 L385.8 276.4 L386.2 276.4 L386.6 276.3 L387 276.1 L387.4 275.9 L387.8 275.7 L388.2 275.2 L388.6 274.6 L389 273.5 L389.4 271.9 L389.8 270.4 L390.2 270.4 L390.6 271.9 L391 273.5 L391.4 274.5 L391.8 275.2 L392.2 275.6 L392.6 275.9 L393 276.1 L393.4 276.2 L393.8 276.3 L394.2 276.4 L394.6 276.5 L395 276.5 L395.4 276.5 L395.8 276.6 L396.2 276.6 L396.6 276.6 L397 276.6 L397.4 276.6 L397.8 276.6 L398.2 276.6 L398.6 276.6 L399 276.6 L399.4 276.6 L399.8 276.6 L400.2 276.6 L400.6 276.6 L401 276.6 L401.4 276.6 L401.8 276.6 L402.2 276.6 L402.6 276.5 L403 276.5 L403.4 276.4 L403.8 276.4 L404.2 276.3 L404.6 276.1 L405 275.9 L405.4 275.7 L405.8 275.2 L406.2 274.5 L406.6 273.4 L407 271.9 L407.4 270.7 L407.8 271.2 L408.2 272.7 L408.6 274 L409 274.9 L409.4 275.5 L409.8 275.8 L410.2 276.1 L410.6 276.2 L411 276.3 L411.4 276.4 L411.8 276.5 L412.2 276.5 L412.6 276.6 L413 276.6 L413.4 276.6 L413.8 276.6 L414.2 276.6 L414.6 276.7 L415 276.7 L415.4 276.7 L415.8 276.7 L416.2 276.7 L416.6 276.7 L417 276.7 L417.4 276.7 L417.8 276.7 L418.2 276.7 L418.6 276.7 L419 276.7 L419.4 276.6 L419.8 276.6 L420.2 276.6 L420.6 276.6 L421 276.5 L421.4 276.4 L421.8 276.4 L422.2 276.2 L422.6 276.1 L423 275.8 L423.4 275.3 L423.8 274.6 L424.2 273.4 L424.6 271.7 L425 270.7 L425.4 271.7 L425.8 273.4 L426.2 274.6 L426.6 275.4 L427 275.8 L427.4 276.1 L427.8 276.3 L428.2 276.4 L428.6 276.5 L429 276.5 L429.4 276.6 L429.8 276.6 L430.2 276.7 L430.6 276.7 L431 276.7 L431.4 276.7 L431.8 276.7 L432.2 276.7 L432.6 276.8 L433 276.8 L433.4 276.8 L433.8 276.8 L434.2 276.8 L434.6 276.8 L435 276.8 L435.4 276.8 L435.8 276.8 L436.2 276.8 L436.6 276.8 L437 276.8 L437.4 276.8 L437.8 276.8 L438.2 276.8 L438.6 276.8 L439 276.8 L439.4 276.8 L439.8 276.8 L440.2 276.8 L440.6 276.8 L441 276.8 L441.4 276.8 L441.8 276.8 L442.2 276.8 L442.6 276.8 L443 276.8 L443.4 276.8 L443.8 276.8 L444.2 276.8 L444.6 276.8 L445 276.8 L445.4 276.8 L445.8 276.8 L446.2 276.8 L446.6 276.8 L447 276.8 L447.4 276.8 L447.8 276.8 L448.2 276.8 L448.6 276.8 L449 276.8 L449.4 276.8 L449.8 276.8 L450.2 276.8 L450.6 276.8 L451 276.8 L451.4 276.8 L451.8 276.8 L452.2 276.8 L452.6 276.8 L453 276.8 L453.4 276.8 L453.8 276.8 L454.2 276.8 L454.6 276.8 L455 276.7 L455.4 276.7 L455.8 276.7 L456.2 276.7 L456.6 276.6 L457 276.6 L457.4 276.5 L457.8 276.4 L458.2 276.3 L458.6 276 L459 275.7 L459.4 275.1 L459.8 274.1 L460.2 272.7 L460.6 271.9 L461 272.7 L461.4 274.1 L461.8 275.1 L462.2 275.7 L462.6 276 L463 276.3 L463.4 276.4 L463.8 276.5 L464.2 276.6 L464.6 276.6 L465 276.7 L465.4 276.7 L465.8 276.7 L466.2 276.8 L466.6 276.8 L467 276.8 L467.4 276.8 L467.8 276.8 L468.2 276.8 L468.6 276.8 L469 276.8 L469.4 276.8 L469.8 276.9 L470.2 276.9 L470.6 276.9 L471 276.9 L471.4 276.9 L471.8 276.9 L472.2 276.9 L472.6 276.9 L473 276.9 L473.4 276.9 L473.8 276.9 L474.2 276.9 L474.6 276.9 L475 276.9 L475.4 276.9 L475.8 276.9 L476.2 276.9 L476.6 276.9 L477 276.9 L477.4 276.9 L477.8 276.9 L478.2 276.9 L478.6 276.9 L479 276.9 L479.4 276.9 L479.8 276.9 L480.2 276.9 L480.6 276.9 L481 276.9 L481.4 276.9 L481.8 276.9 L482.2 276.9 L482.6 276.9 L483 276.9 L483.4 276.9 L483.8 276.9 L484.2 276.9 L484.6 276.9 L485 276.9 L485.4 276.9 L485.8 276.9 L486.2 276.9 L486.6 276.9 L487 276.9 L487.4 276.9 L487.8 276.9 L488.2 276.9 L488.6 276.9 L489 276.9 L489.4 276.9 L489.8 276.9 L490.2 276.9 L490.6 276.9 L491 276.9 L491.4 276.9 L491.8 276.9 L492.2 276.9 L492.6 276.9 L493 276.9 L493.4 276.9 L493.8 276.9 L494.2 276.9 L494.6 276.9 L495 276.9 L495.4 276.9 L495.8 276.9 L496.2 276.9 L496.6 276.9 L497 276.9 L497.4 276.9 L497.8 276.9 L498.2 276.9 L498.6 276.9 L499 276.9 L499.4 276.9 L499.8 276.9 L500.2 276.9 L500.6 276.9 L501 276.9 L501.4 276.9 L501.8 276.9 L502.2 276.9 L502.6 276.9 L503 276.9 L503.4 276.9 L503.8 276.9 L504.2 276.9 L504.6 276.9 L505 276.9 L505.4 276.9 L505.8 276.9 L506.2 276.9 L506.6 276.9 L507 276.9 L507.4 276.8 L507.8 276.8 L508.2 276.8 L508.6 276.7 L509 276.5 L509.4 276.4 L509.8 276.2 L510.2 276.2 L510.6 276.4 L511 276.6 L511.4 276.7 L511.8 276.8 L512.2 276.8 L512.6 276.8 L513 276.9 L513.4 276.9 L513.8 276.9 L514.2 276.9 L514.6 276.9 L515 276.9 L515.4 276.9 L515.8 276.9 L516.2 276.9 L516.6 276.9 L517 276.9 L517.4 276.9 L517.8 276.9 L518.2 276.9 L518.6 276.9 L519 277 L519.4 277 L519.8 277 L520.2 277 L520.6 277 L521 277 L521.4 277 L521.8 277 L522.2 277 L522.6 277 L523 277 L523.4 277 L523.8 277 L524.2 277 L524.6 277 L525 277 L525.4 277 L525.8 277 L526.2 277 L526.6 277 L527 277 L527.4 277 L527.8 277 L528.2 277 L528.6 277 L529 277 L529.4 277 L529.8 277 L530.2 277 L530.6 277 L531 277 L531.4 277 L531.8 277 L532.2 277 L532.6 277 L533 277 L533.4 277 L533.8 277 L534.2 277 L534.6 277 L535 277 L535.4 277 L535.8 277 L536.2 277 L536.6 277 L537 277 L537.4 277 L537.8 277 L538.2 277 L538.6 277 L539 277 L539.4 277 L539.8 277 L540.2 277 L540.6 277 L541 277 L541.4 277 L541.8 277 L542.2 277 L542.6 277 L543 277 L543.4 277 L543.8 277 L544.2 277 L544.6 277 L545 277 L545.4 277 L545.8 277 L546.2 277 L546.6 277 L547 277 L547.4 277 L547.8 277 L548.2 277 L548.6 277 L549 277 L549.4 277 L549.8 277 L550.2 277 L550.6 277 L551 277 L551.4 277 L551.8 277 L552.2 277 L552.6 277 L553 277 L553.4 277 L553.8 277 L554.2 277 L554.6 277 L555 277 L555.4 277 L555.8 277 L556.2 277 L556.6 277 L557 277 L557.4 277 L557.8 277 L558.2 277 L558.6 277 L559 277 L559.4 277 L559.8 277 L560.2 277 L560.6 277 L561 277 L561.4 277 L561.8 277 L562.2 277 L562.6 277 L563 277 L563.4 277 L563.8 277 L564.2 277 L564.6 277 L565 277 L565.4 277 L565.8 277 L566.2 277 L566.6 277 L567 277 L567.4 277 L567.8 277 L568.2 277 L568.6 277 L569 277 L569.4 277 L569.8 277 L570.2 277 L570.6 277 L571 277 L571.4 277 L571.8 277 L572.2 277 L572.6 277 L573 277 L573.4 277 L573.8 277 L574.2 277 L574.6 277 L575 277 L575.4 277 L575.8 277 L576.2 277 L576.6 277 L577 277 L577.4 277 L577.8 277 L578.2 277 L578.6 277 L579 277 L579.4 277 L579.8 277 L580.2 277 L580.6 277 L581 277 L581.4 277 L581.8 277 L582.2 277 L582.6 277 L583 277 L583.4 277 L583.8 277 L584.2 277 L584.6 277 L585 277 L585.4 277 L585.8 277 L586.2 277 L586.6 277 L587 277 L587.4 277 L587.8 277 L588.2 277 L588.6 277 L589 277 L589.4 277 L589.8 277 L590.2 277 L590.6 277.1 L591 277.1 L591.4 277.1 L591.8 277.1 L592.2 277.1 L592.6 277.1 L593 277.1 L593.4 277.1 L593.8 277.1 L594.2 277.1 L594.6 277.1 L595 277.1 L595.4 277.1 L595.8 277.1 L596.2 277.1 L596.6 277.1 L597 277.1 L597.4 277.1 L597.8 277.1 L598.2 277.1 L598.6 277.1 L599 277.1 L599.4 277.1 L599.8 277.1 L600.2 277.1 L600.6 277.1 L601 277.1 L601.4 277.1 L601.8 277.1 L602.2 277.1 L602.6 277.1 L603 277.1 L603.4 277.1 L603.8 277.1 L604.2 277.1 L604.6 277.1 L605 277.1 L605.4 277.1 L605.8 277.1 L606.2 277.1 L606.6 277.1 L607 277.1 L607.4 277.1 L607.8 277.1 L608.2 277.1 L608.6 277.1 L609 277.1 L609.4 277.1 L609.8 277.1 L610.2 277.1 L610.6 277.1 L611 277.1 L611.4 277.1 L611.8 277.1 L612.2 277.1 L612.6 277.1 L613 277.1 L613.4 277.1 L613.8 277.1 L614.2 277.1 L614.6 277.1 L615 277.1 L615.4 277.1 L615.8 277.1 L616.2 277.1 L616.6 277.1 L617 277.1 L617.4 277.1 L617.8 277.1 L618.2 277.1 L618.6 277.1 L619 277.1 L619.4 277.1 L619.8 277.1 L620.2 277.1 L620.6 277.1 L621 277.1 L621.4 277.1 L621.8 277.1 L622.2 277.1 L622.6 277.1 L623 277.1 L623.4 277.1 L623.8 277.1 L624.2 277.1 L624.6 277.1 L625 277.1 L625.4 277.1 L625.8 277.1 L626.2 277.1 L626.6 277.1 L627 277.1 L627.4 277.1 L627.8 277.1 L628.2 277.1 L628.6 277.1 L629 277.1 L629.4 277.1 L629.8 277.1 L630.2 277.1 L630.6 277.1" fill="none" stroke="#177d22" stroke-width="1.9" stroke-linejoin="round" stroke-linecap="round" clip-path="url(#cd)"/>
<path d="M495 277.1 L525 277.1" fill="none" stroke="#1a1ac4" stroke-width="2.0" stroke-linejoin="round" stroke-linecap="round" clip-path="url(#cd)"/>
<path d="M342.6 275 L343 275 L343.4 275 L343.8 274.9 L344.2 274.9 L344.6 274.9 L345 274.9 L345.4 274.9 L345.8 274.9 L346.2 274.8 L346.6 274.8 L347 274.8 L347.4 274.8 L347.8 274.8 L348.2 274.8 L348.6 274.7 L349 274.7 L349.4 274.7 L349.8 274.7 L350.2 274.7 L350.6 274.7 L351 274.6 L351.4 274.6 L351.8 274.6 L352.2 274.6 L352.6 274.6 L353 274.6 L353.4 274.5 L353.8 274.5 L354.2 274.5 L354.6 274.5 L355 274.5 L355.4 274.5 L355.8 274.4 L356.2 274.4 L356.6 274.4 L357 274.4 L357.4 274.3 L357.8 274.3 L358.2 274.2 L358.6 274.2 L359 274.1 L359.4 274 L359.8 274 L360.2 273.9 L360.6 273.9 L361 273.8 L361.4 273.8 L361.8 273.7 L362.2 273.7 L362.6 273.6 L363 273.6 L363.4 273.5 L363.8 273.5 L364.2 273.4 L364.6 273.4 L365 273.3 L365.4 273.3 L365.8 273.2 L366.2 273.2 L366.6 273.1 L367 273.1 L367.4 273.1 L367.8 273 L368.2 273 L368.6 273 L369 273 L369.4 272.9 L369.8 272.9 L370.2 272.9 L370.6 272.8 L371 272.8 L371.4 272.8 L371.8 272.7 L372.2 272.7 L372.6 272.7 L373 272.6 L373.4 272.6 L373.8 272.7 L374.2 272.8 L374.6 272.9 L375 272.9 L375.4 273 L375.8 273.1 L376.2 273.2 L376.6 273.3 L377 273.3 L377.4 273.4 L377.8 273.5 L378.2 273.6 L378.6 273.7 L379 273.7 L379.4 273.8 L379.8 273.9 L380.2 274 L380.6 274.1 L381 274.2 L381.4 274.2 L381.8 274.3 L382.2 274.4 L382.6 274.4 L383 274.5 L383.4 274.5 L383.8 274.5 L384.2 274.6 L384.6 274.6 L385 274.6 L385.4 274.6 L385.8 274.7 L386.2 274.7 L386.6 274.7 L387 274.8 L387.4 274.8 L387.8 274.8 L388.2 274.9 L388.6 274.9 L389 274.9 L389.4 275 L389.8 275 L390.2 275 L390.6 275.1 L391 275.2 L391.4 275.3 L391.8 275.4 L392.2 275.5 L392.6 275.6 L393 275.6 L393.4 275.7 L393.8 275.8 L394.2 275.9 L394.6 276 L395 276.1 L395.4 276.2 L395.8 276.3 L396.2 276.3 L396.6 276.4 L397 276.5 L397.4 276.6 L397.8 276.7 L398.2 276.7 L398.6 276.7 L399 276.8 L399.4 276.8 L399.8 276.8 L400.2 276.8 L400.6 276.9 L401 276.9 L401.4 276.9 L401.8 276.9 L402.2 276.9 L402.6 277 L403 277 L403.4 277 L403.8 277 L404.2 277.1 L404.6 277.1 L405 277.1 L405.4 277.1 L405.8 277.1 L406.2 277.1 L406.6 277.1 L407 277.1 L407.4 277.1 L407.8 277.1 L408.2 277.1 L408.6 277.1 L409 277.1 L409.4 277.1 L409.8 277.1 L410.2 277.1 L410.6 277.1 L411 277.1 L411.4 277.1 L411.8 277.1 L412.2 277.1 L412.6 277.1 L413 277.1 L413.4 277.1 L413.8 277.1 L414.2 277.1 L414.6 277.1 L415 277.1 L415.4 277.1 L415.8 277.1 L416.2 277.1 L416.6 277.1 L417 277.1 L417.4 277.1 L417.8 277.1 L418.2 277.1 L418.6 277.1 L419 277.1 L419.4 277.1 L419.8 277.1 L420.2 277.1 L420.6 277.1 L421 277.1 L421.4 277.1 L421.8 277.1 L422.2 277.1 L422.6 277.1 L423 277.1 L423.4 277.1 L423.8 277.1 L424.2 277.1 L424.6 277.1 L425 277.1 L425.4 277.1 L425.8 277.1 L426.2 277.1 L426.6 277.1 L427 277.1 L427.4 277.1 L427.8 277.1 L428.2 277.1 L428.6 277.1 L429 277.1 L429.4 277.1 L429.8 277.1 L430.2 277.1 L430.6 277.1 L431 277.1 L431.4 277.1 L431.8 277.1 L432.2 277.1 L432.6 277.1 L433 277.1 L433.4 277.1 L433.8 277.1 L434.2 277.1 L434.6 277.1 L435 277.1 L435.4 277.1 L435.8 277.1 L436.2 277.1 L436.6 277.1 L437 277.1 L437.4 277.1 L437.8 277.1 L438.2 277.1 L438.6 277.1 L439 277.1 L439.4 277.1 L439.8 277.1 L440.2 277.1 L440.6 277.1 L441 277.1 L441.4 277.1 L441.8 277.1 L442.2 277.1 L442.6 277.1 L443 277.1 L443.4 277.1 L443.8 277.1 L444.2 277.1 L444.6 277.1 L445 277.1 L445.4 277.1 L445.8 277.1 L446.2 277.1 L446.6 277.1 L447 277.1 L447.4 277.1 L447.8 277.1 L448.2 277.1 L448.6 277.1 L449 277.1 L449.4 277.1 L449.8 277.1 L450.2 277.1 L450.6 277.1 L451 277.1 L451.4 277.1 L451.8 277.1 L452.2 277.1 L452.6 277.1 L453 277.1 L453.4 277.1 L453.8 277.1 L454.2 277.1 L454.6 277.1 L455 277.1 L455.4 277.1 L455.8 277.1 L456.2 277.1 L456.6 277.1 L457 277.1 L457.4 277.1 L457.8 277.1 L458.2 277.1 L458.6 277.1 L459 277.1 L459.4 277.1 L459.8 277.1 L460.2 277.1 L460.6 277.1 L461 277.1 L461.4 277.1 L461.8 277.1 L462.2 277.1 L462.6 277.1 L463 277.1 L463.4 277.1 L463.8 277.1 L464.2 277.1 L464.6 277.1 L465 277.1 L465.4 277.1 L465.8 277.1 L466.2 277.1 L466.6 277.1 L467 277.1 L467.4 277.1 L467.8 277.1 L468.2 277.1 L468.6 277.1 L469 277.1 L469.4 277.1 L469.8 277.1 L470.2 277.1 L470.6 277.1 L471 277.1 L471.4 277.1 L471.8 277.1 L472.2 277.1 L472.6 277.1 L473 277.1 L473.4 277.1 L473.8 277.1 L474.2 277.1 L474.6 277.1 L475 277.1 L475.4 277.1 L475.8 277.1 L476.2 277.1 L476.6 277 L477 277 L477.4 277 L477.8 277 L478.2 277 L478.6 277 L479 277 L479.4 277 L479.8 277 L480.2 277 L480.6 277 L481 277 L481.4 277 L481.8 277 L482.2 277 L482.6 277 L483 277 L483.4 277 L483.8 277 L484.2 277 L484.6 277 L485 277 L485.4 277 L485.8 277 L486.2 277 L486.6 277 L487 277 L487.4 277 L487.8 277 L488.2 277 L488.6 277 L489 277 L489.4 277 L489.8 276.9 L490.2 276.9 L490.6 276.9 L491 276.9 L491.4 276.9 L491.8 276.9 L492.2 276.9 L492.6 276.9 L493 276.9 L493.4 276.9 L493.8 276.9 L494.2 276.8 L494.6 276.8 L495 276.8 L495.4 276.8 L495.8 276.8 L496.2 276.7 L496.6 276.7 L497 276.7 L497.4 276.7 L497.8 276.6 L498.2 276.6 L498.6 276.6 L499 276.5 L499.4 276.5 L499.8 276.4 L500.2 276.3 L500.6 276.2 L501 276.1 L501.4 276 L501.8 275.9 L502.2 275.7 L502.6 275.6 L503 275.3 L503.4 275 L503.8 274.7 L504.2 274.2 L504.6 273.6 L505 272.8 L505.4 271.7 L505.8 270.2 L506.2 268.1 L506.6 265.1 L507 260.7 L507.4 255.1 L507.8 249.4 L508.2 246.8 L508.6 249.4 L509 255.1 L509.4 260.7 L509.8 265.1 L510.2 268.1 L510.6 270.2 L511 271.7 L511.4 272.8 L511.8 273.6 L512.2 274.2 L512.6 274.7 L513 275 L513.4 275.3 L513.8 275.6 L514.2 275.7 L514.6 275.9 L515 276 L515.4 276.1 L515.8 276.2 L516.2 276.3 L516.6 276.4 L517 276.5 L517.4 276.5 L517.8 276.6 L518.2 276.6 L518.6 276.6 L519 276.7 L519.4 276.7 L519.8 276.7 L520.2 276.7 L520.6 276.8 L521 276.8 L521.4 276.8 L521.8 276.8 L522.2 276.8 L522.6 276.9 L523 276.9 L523.4 276.9 L523.8 276.9 L524.2 276.9 L524.6 276.9 L525 276.9 L525.4 276.9 L525.8 276.9 L526.2 276.9 L526.6 276.9 L527 277 L527.4 277 L527.8 277 L528.2 277 L528.6 277 L529 277 L529.4 277 L529.8 277 L530.2 277 L530.6 277 L531 277 L531.4 277 L531.8 277 L532.2 277 L532.6 277 L533 277 L533.4 277 L533.8 277 L534.2 277 L534.6 277 L535 277 L535.4 277 L535.8 277 L536.2 277 L536.6 277 L537 277 L537.4 277 L537.8 277 L538.2 277 L538.6 277 L539 277 L539.4 277 L539.8 277 L540.2 277.1 L540.6 277.1 L541 277.1 L541.4 277.1 L541.8 277.1 L542.2 277.1 L542.6 277.1 L543 277.1 L543.4 277.1 L543.8 277.1 L544.2 277.1 L544.6 277.1 L545 277.1 L545.4 277.1 L545.8 277.1 L546.2 277.1 L546.6 277.1 L547 277.1 L547.4 277.1 L547.8 277.1 L548.2 277.1 L548.6 277.1 L549 277.1 L549.4 277.1 L549.8 277.1 L550.2 277.1 L550.6 277.1 L551 277.1 L551.4 277.1 L551.8 277.1 L552.2 277.1 L552.6 277.1 L553 277.1 L553.4 277.1 L553.8 277.1 L554.2 277.1 L554.6 277.1 L555 277.1 L555.4 277.1 L555.8 277.1 L556.2 277.1 L556.6 277.1 L557 277.1 L557.4 277.1 L557.8 277.1 L558.2 277.1 L558.6 277.1 L559 277.1 L559.4 277.1 L559.8 277.1 L560.2 277.1 L560.6 277.1 L561 277.1 L561.4 277.1 L561.8 277.1 L562.2 277.1 L562.6 277.1 L563 277.1 L563.4 277.1 L563.8 277.1 L564.2 277.1 L564.6 277.1 L565 277.1 L565.4 277.1 L565.8 277.1 L566.2 277.1 L566.6 277.1 L567 277.1 L567.4 277.1 L567.8 277.1 L568.2 277.1 L568.6 277.1 L569 277.1 L569.4 277.1 L569.8 277.1 L570.2 277.1 L570.6 277.1 L571 277.1 L571.4 277.1 L571.8 277.1 L572.2 277.1 L572.6 277.1 L573 277.1 L573.4 277.1 L573.8 277.1 L574.2 277.1 L574.6 277.1 L575 277.1 L575.4 277.1 L575.8 277.1 L576.2 277.1 L576.6 277.1 L577 277.1 L577.4 277.1 L577.8 277.1 L578.2 277.1 L578.6 277.1 L579 277.1 L579.4 277.1 L579.8 277.1 L580.2 277.1 L580.6 277.1 L581 277.1 L581.4 277.1 L581.8 277.1 L582.2 277.1 L582.6 277.1 L583 277.1 L583.4 277.1 L583.8 277.1 L584.2 277.1 L584.6 277.1 L585 277.1 L585.4 277.1 L585.8 277.1 L586.2 277.1 L586.6 277.1 L587 277.1 L587.4 277.1 L587.8 277.1 L588.2 277.1 L588.6 277.1 L589 277.1 L589.4 277.1 L589.8 277.1 L590.2 277.1 L590.6 277.1 L591 277.1 L591.4 277.1 L591.8 277.1 L592.2 277.1 L592.6 277.1 L593 277.1 L593.4 277.1 L593.8 277.1 L594.2 277.1 L594.6 277.1 L595 277.1 L595.4 277.1 L595.8 277.1 L596.2 277.1 L596.6 277.1 L597 277.1 L597.4 277.1 L597.8 277.1 L598.2 277.1 L598.6 277.1 L599 277.1 L599.4 277.1 L599.8 277.1 L600.2 277.1 L600.6 277.1 L601 277.1 L601.4 277.1 L601.8 277.1 L602.2 277.1 L602.6 277.1 L603 277.1 L603.4 277.1 L603.8 277.1 L604.2 277.1 L604.6 277.1 L605 277.1 L605.4 277.1 L605.8 277.1 L606.2 277.1 L606.6 277.1 L607 277.1 L607.4 277.1 L607.8 277.1 L608.2 277.1 L608.6 277.1 L609 277.1 L609.4 277.1 L609.8 277.1 L610.2 277.1 L610.6 277.1 L611 277.1 L611.4 277.1 L611.8 277.1 L612.2 277.1 L612.6 277.1 L613 277.1 L613.4 277.1 L613.8 277.1 L614.2 277.1 L614.6 277.1 L615 277.1 L615.4 277.1 L615.8 277.1 L616.2 277.1 L616.6 277.1 L617 277.1 L617.4 277.1 L617.8 277.1 L618.2 277.1 L618.6 277.1 L619 277.1 L619.4 277.1 L619.8 277.1 L620.2 277.1 L620.6 277.1 L621 277.1 L621.4 277.1 L621.8 277.1 L622.2 277.1 L622.6 277.1 L623 277.1 L623.4 277.1 L623.8 277.1 L624.2 277.1 L624.6 277.1 L625 277.1 L625.4 277.1 L625.8 277.1 L626.2 277.1 L626.6 277.1 L627 277.1 L627.4 277.1 L627.8 277.1 L628.2 277.1 L628.6 277.1 L629 277.1 L629.4 277.1 L629.8 277.1 L630.2 277.1 L630.6 277.1" fill="none" stroke="#1a1ac4" stroke-width="2.0" stroke-linejoin="round" stroke-linecap="round" clip-path="url(#cd)"/>
<path d="M342.6 277 L343 277 L343.4 277 L343.8 277 L344.2 276.9 L344.6 276.9 L345 276.9 L345.4 276.9 L345.8 276.9 L346.2 276.9 L346.6 276.9 L347 276.9 L347.4 276.8 L347.8 276.8 L348.2 276.8 L348.6 276.8 L349 276.8 L349.4 276.8 L349.8 276.8 L350.2 276.8 L350.6 276.7 L351 276.7 L351.4 276.7 L351.8 276.7 L352.2 276.7 L352.6 276.7 L353 276.7 L353.4 276.6 L353.8 276.6 L354.2 276.6 L354.6 276.6 L355 276.6 L355.4 276.5 L355.8 276.5 L356.2 276.4 L356.6 276.4 L357 276.3 L357.4 276.3 L357.8 276.2 L358.2 276.2 L358.6 276.1 L359 276 L359.4 276 L359.8 275.9 L360.2 275.9 L360.6 275.8 L361 275.8 L361.4 275.7 L361.8 275.7 L362.2 275.6 L362.6 275.4 L363 275.2 L363.4 274.9 L363.8 274.7 L364.2 274.5 L364.6 274.3 L365 274.1 L365.4 273.9 L365.8 273.6 L366.2 273.4 L366.6 273.2 L367 273 L367.4 272.9 L367.8 272.8 L368.2 272.7 L368.6 272.7 L369 272.6 L369.4 272.5 L369.8 272.4 L370.2 272.3 L370.6 272.3 L371 272.2 L371.4 272.1 L371.8 272 L372.2 271.9 L372.6 271.8 L373 271.8 L373.4 271.7 L373.8 271.8 L374.2 271.8 L374.6 271.9 L375 272 L375.4 272.1 L375.8 272.1 L376.2 272.2 L376.6 272.3 L377 272.3 L377.4 272.4 L377.8 272.5 L378.2 272.6 L378.6 272.7 L379 272.9 L379.4 273 L379.8 273.2 L380.2 273.3 L380.6 273.5 L381 273.6 L381.4 273.8 L381.8 273.9 L382.2 274.1 L382.6 274.1 L383 274.1 L383.4 274.1 L383.8 274.1 L384.2 274 L384.6 274 L385 274 L385.4 274 L385.8 274 L386.2 274 L386.6 273.9 L387 273.8 L387.4 273.7 L387.8 273.7 L388.2 273.6 L388.6 273.5 L389 273.5 L389.4 273.4 L389.8 273.3 L390.2 273.2 L390.6 272.9 L391 272.6 L391.4 272.4 L391.8 272.1 L392.2 271.5 L392.6 270.6 L393 269.7 L393.4 268.8 L393.8 267.9 L394.2 267.2 L394.6 266.6 L395 265.9 L395.4 265.3 L395.8 265.4 L396.2 266.3 L396.6 267.2 L397 268.1 L397.4 269 L397.8 270 L398.2 271 L398.6 272 L399 272.9 L399.4 273.3 L399.8 273.8 L400.2 274.2 L400.6 274.7 L401 275.1 L401.4 275.6 L401.8 276 L402.2 276.5 L402.6 276.5 L403 276.5 L403.4 276.5 L403.8 276.6 L404.2 276.6 L404.6 276.6 L405 276.6 L405.4 276.6 L405.8 276.7 L406.2 276.7 L406.6 276.7 L407 276.7 L407.4 276.7 L407.8 276.7 L408.2 276.7 L408.6 276.7 L409 276.7 L409.4 276.7 L409.8 276.7 L410.2 276.7 L410.6 276.7 L411 276.6 L411.4 276.6 L411.8 276.6 L412.2 276.6 L412.6 276.6 L413 276.6 L413.4 276.6 L413.8 276.6 L414.2 276.6 L414.6 276.6 L415 276.6 L415.4 276.6 L415.8 276.5 L416.2 276.5 L416.6 276.5 L417 276.4 L417.4 276.4 L417.8 276.3 L418.2 276.2 L418.6 276.1 L419 275.9 L419.4 275.7 L419.8 275.3 L420.2 274.6 L420.6 273.6 L421 272.4 L421.4 271.7 L421.8 272.4 L422.2 273.6 L422.6 274.6 L423 275.3 L423.4 275.7 L423.8 275.9 L424.2 276.1 L424.6 276.2 L425 276.3 L425.4 276.4 L425.8 276.4 L426.2 276.5 L426.6 276.5 L427 276.5 L427.4 276.5 L427.8 276.5 L428.2 276.6 L428.6 276.6 L429 276.6 L429.4 276.6 L429.8 276.6 L430.2 276.6 L430.6 276.6 L431 276.6 L431.4 276.6 L431.8 276.6 L432.2 276.6 L432.6 276.6 L433 276.6 L433.4 276.6 L433.8 276.5 L434.2 276.5 L434.6 276.5 L435 276.5 L435.4 276.5 L435.8 276.4 L436.2 276.4 L436.6 276.3 L437 276.2 L437.4 276.1 L437.8 275.9 L438.2 275.7 L438.6 275.3 L439 274.7 L439.4 274 L439.8 273.5 L440.2 273.5 L440.6 274 L441 274.7 L441.4 275.3 L441.8 275.7 L442.2 275.9 L442.6 276.1 L443 276.2 L443.4 276.3 L443.8 276.4 L444.2 276.4 L444.6 276.5 L445 276.5 L445.4 276.5 L445.8 276.6 L446.2 276.6 L446.6 276.6 L447 276.6 L447.4 276.6 L447.8 276.6 L448.2 276.6 L448.6 276.6 L449 276.6 L449.4 276.6 L449.8 276.6 L450.2 276.6 L450.6 276.7 L451 276.7 L451.4 276.7 L451.8 276.7 L452.2 276.7 L452.6 276.7 L453 276.7 L453.4 276.7 L453.8 276.7 L454.2 276.7 L454.6 276.7 L455 276.7 L455.4 276.7 L455.8 276.7 L456.2 276.7 L456.6 276.7 L457 276.7 L457.4 276.7 L457.8 276.7 L458.2 276.7 L458.6 276.7 L459 276.7 L459.4 276.7 L459.8 276.7 L460.2 276.7 L460.6 276.7 L461 276.7 L461.4 276.7 L461.8 276.7 L462.2 276.7 L462.6 276.7 L463 276.7 L463.4 276.7 L463.8 276.7 L464.2 276.7 L464.6 276.7 L465 276.7 L465.4 276.7 L465.8 276.7 L466.2 276.7 L466.6 276.7 L467 276.7 L467.4 276.7 L467.8 276.7 L468.2 276.7 L468.6 276.7 L469 276.7 L469.4 276.7 L469.8 276.7 L470.2 276.7 L470.6 276.7 L471 276.7 L471.4 276.7 L471.8 276.7 L472.2 276.7 L472.6 276.7 L473 276.7 L473.4 276.7 L473.8 276.7 L474.2 276.7 L474.6 276.7 L475 276.7 L475.4 276.7 L475.8 276.7 L476.2 276.7 L476.6 276.7 L477 276.7 L477.4 276.7 L477.8 276.7 L478.2 276.7 L478.6 276.7 L479 276.7 L479.4 276.7 L479.8 276.7 L480.2 276.7 L480.6 276.7 L481 276.7 L481.4 276.7 L481.8 276.7 L482.2 276.7 L482.6 276.7 L483 276.7 L483.4 276.7 L483.8 276.7 L484.2 276.7 L484.6 276.7 L485 276.7 L485.4 276.7 L485.8 276.7 L486.2 276.7 L486.6 276.7 L487 276.7 L487.4 276.7 L487.8 276.7 L488.2 276.7 L488.6 276.7 L489 276.7 L489.4 276.7 L489.8 276.7 L490.2 276.7 L490.6 276.7 L491 276.7 L491.4 276.7 L491.8 276.7 L492.2 276.7 L492.6 276.7 L493 276.7 L493.4 276.7 L493.8 276.7 L494.2 276.7 L494.6 276.7 L495 276.7 L495.4 276.7 L495.8 276.7 L496.2 276.7 L496.6 276.7 L497 276.7 L497.4 276.7 L497.8 276.7 L498.2 276.7 L498.6 276.7 L499 276.7 L499.4 276.7 L499.8 276.7 L500.2 276.7 L500.6 276.7 L501 276.7 L501.4 276.7 L501.8 276.7 L502.2 276.7 L502.6 276.7 L503 276.7 L503.4 276.7 L503.8 276.7 L504.2 276.7 L504.6 276.7 L505 276.7 L505.4 276.7 L505.8 276.7 L506.2 276.7 L506.6 276.7 L507 276.7 L507.4 276.7 L507.8 276.7 L508.2 276.7 L508.6 276.7 L509 276.7 L509.4 276.7 L509.8 276.7 L510.2 276.7 L510.6 276.7 L511 276.7 L511.4 276.7 L511.8 276.7 L512.2 276.7 L512.6 276.7 L513 276.7 L513.4 276.7 L513.8 276.7 L514.2 276.7 L514.6 276.7 L515 276.7 L515.4 276.7 L515.8 276.7 L516.2 276.7 L516.6 276.7 L517 276.7 L517.4 276.7 L517.8 276.7 L518.2 276.7 L518.6 276.7 L519 276.7 L519.4 276.7 L519.8 276.7 L520.2 276.7 L520.6 276.7 L521 276.7 L521.4 276.7 L521.8 276.7 L522.2 276.7 L522.6 276.7 L523 276.7 L523.4 276.7 L523.8 276.7 L524.2 276.7 L524.6 276.7 L525 276.7 L525.4 276.7 L525.8 276.7 L526.2 276.7 L526.6 276.7 L527 276.7 L527.4 276.7 L527.8 276.7 L528.2 276.7 L528.6 276.7 L529 276.7 L529.4 276.7 L529.8 276.7 L530.2 276.7 L530.6 276.7 L531 276.7 L531.4 276.7 L531.8 276.7 L532.2 276.7 L532.6 276.7 L533 276.7 L533.4 276.7 L533.8 276.7 L534.2 276.7 L534.6 276.7 L535 276.7 L535.4 276.7 L535.8 276.7 L536.2 276.7 L536.6 276.7 L537 276.7 L537.4 276.7 L537.8 276.7 L538.2 276.7 L538.6 276.7 L539 276.7 L539.4 276.7 L539.8 276.7 L540.2 276.7 L540.6 276.7 L541 276.7 L541.4 276.7 L541.8 276.7 L542.2 276.7 L542.6 276.7 L543 276.7 L543.4 276.7 L543.8 276.7 L544.2 276.7 L544.6 276.7 L545 276.7 L545.4 276.7 L545.8 276.7 L546.2 276.7 L546.6 276.7 L547 276.7 L547.4 276.7 L547.8 276.7 L548.2 276.7 L548.6 276.7 L549 276.7 L549.4 276.7 L549.8 276.7 L550.2 276.7 L550.6 276.7 L551 276.7 L551.4 276.7 L551.8 276.7 L552.2 276.7 L552.6 276.7 L553 276.7 L553.4 276.7 L553.8 276.7 L554.2 276.7 L554.6 276.7 L555 276.7 L555.4 276.7 L555.8 276.7 L556.2 276.7 L556.6 276.7 L557 276.7 L557.4 276.7 L557.8 276.7 L558.2 276.7 L558.6 276.7 L559 276.7 L559.4 276.7 L559.8 276.7 L560.2 276.7 L560.6 276.7 L561 276.7 L561.4 276.7 L561.8 276.7 L562.2 276.7 L562.6 276.7 L563 276.7 L563.4 276.7 L563.8 276.7 L564.2 276.7 L564.6 276.7 L565 276.7 L565.4 276.7 L565.8 276.7 L566.2 276.7 L566.6 276.7 L567 276.7 L567.4 276.7 L567.8 276.7 L568.2 276.7 L568.6 276.7 L569 276.7 L569.4 276.7 L569.8 276.7 L570.2 276.7 L570.6 276.7 L571 276.7 L571.4 276.7 L571.8 276.7 L572.2 276.7 L572.6 276.7 L573 276.7 L573.4 276.7 L573.8 276.7 L574.2 276.7 L574.6 276.7 L575 276.7 L575.4 276.7 L575.8 276.7 L576.2 276.7 L576.6 276.7 L577 276.7 L577.4 276.7 L577.8 276.7 L578.2 276.7 L578.6 276.7 L579 276.7 L579.4 276.7 L579.8 276.7 L580.2 276.7 L580.6 276.7 L581 276.7 L581.4 276.7 L581.8 276.7 L582.2 276.7 L582.6 276.7 L583 276.7 L583.4 276.7 L583.8 276.7 L584.2 276.7 L584.6 276.7 L585 276.7 L585.4 276.7 L585.8 276.7 L586.2 276.7 L586.6 276.7 L587 276.7 L587.4 276.7 L587.8 276.7 L588.2 276.7 L588.6 276.7 L589 276.7 L589.4 276.7 L589.8 276.7 L590.2 276.7 L590.6 276.7 L591 276.7 L591.4 276.7 L591.8 276.7 L592.2 276.7 L592.6 276.7 L593 276.7 L593.4 276.7 L593.8 276.7 L594.2 276.7 L594.6 276.7 L595 276.7 L595.4 276.7 L595.8 276.7 L596.2 276.7 L596.6 276.7 L597 276.7 L597.4 276.7 L597.8 276.7 L598.2 276.7 L598.6 276.7 L599 276.7 L599.4 276.7 L599.8 276.7 L600.2 276.7 L600.6 276.7 L601 276.7 L601.4 276.7 L601.8 276.7 L602.2 276.7 L602.6 276.7 L603 276.7 L603.4 276.7 L603.8 276.7 L604.2 276.7 L604.6 276.7 L605 276.7 L605.4 276.7 L605.8 276.7 L606.2 276.7 L606.6 276.7 L607 276.7 L607.4 276.7 L607.8 276.7 L608.2 276.7 L608.6 276.7 L609 276.7 L609.4 276.7 L609.8 276.7 L610.2 276.7 L610.6 276.7 L611 276.7 L611.4 276.7 L611.8 276.7 L612.2 276.7 L612.6 276.7 L613 276.7 L613.4 276.7 L613.8 276.7 L614.2 276.7 L614.6 276.7 L615 276.7 L615.4 276.7 L615.8 276.7 L616.2 276.7 L616.6 276.7 L617 276.7 L617.4 276.7 L617.8 276.7 L618.2 276.7 L618.6 276.7 L619 276.7 L619.4 276.7 L619.8 276.7 L620.2 276.7 L620.6 276.7 L621 276.7 L621.4 276.7 L621.8 276.7 L622.2 276.7 L622.6 276.7 L623 276.7 L623.4 276.7 L623.8 276.7 L624.2 276.7 L624.6 276.7 L625 276.7 L625.4 276.7 L625.8 276.7 L626.2 276.7 L626.6 276.7 L627 276.7 L627.4 276.7 L627.8 276.7 L628.2 276.7 L628.6 276.7 L629 276.7 L629.4 276.7 L629.8 276.7 L630.2 276.7 L630.6 276.7" fill="none" stroke="#ee8ae8" stroke-width="1.6" stroke-linejoin="round" stroke-linecap="round" clip-path="url(#cd)"/>
<text x="50.8" y="155.9" style="font-family:'Liberation Sans',sans-serif;font-size:17px" text-anchor="end">0.0</text>
<text x="50.8" y="130.7" style="font-family:'Liberation Sans',sans-serif;font-size:17px" text-anchor="end">0.2</text>
<text x="50.8" y="105.5" style="font-family:'Liberation Sans',sans-serif;font-size:17px" text-anchor="end">0.4</text>
<text x="50.8" y="80.2" style="font-family:'Liberation Sans',sans-serif;font-size:17px" text-anchor="end">0.6</text>
<text x="50.8" y="55" style="font-family:'Liberation Sans',sans-serif;font-size:17px" text-anchor="end">0.8</text>
<text x="50.8" y="29.8" style="font-family:'Liberation Sans',sans-serif;font-size:17px" text-anchor="end">1.0</text>
<text x="50.8" y="283.1" style="font-family:'Liberation Sans',sans-serif;font-size:17px" text-anchor="end">0.0</text>
<text x="50.8" y="257.9" style="font-family:'Liberation Sans',sans-serif;font-size:17px" text-anchor="end">0.2</text>
<text x="50.8" y="232.7" style="font-family:'Liberation Sans',sans-serif;font-size:17px" text-anchor="end">0.4</text>
<text x="50.8" y="207.5" style="font-family:'Liberation Sans',sans-serif;font-size:17px" text-anchor="end">0.6</text>
<text x="50.8" y="182.3" style="font-family:'Liberation Sans',sans-serif;font-size:17px" text-anchor="end">0.8</text>
<text x="54.5" y="294.6" style="font-family:'Liberation Sans',sans-serif;font-size:17px" text-anchor="middle">400</text>
<text x="129.3" y="294.6" style="font-family:'Liberation Sans',sans-serif;font-size:17px" text-anchor="middle">600</text>
<text x="204.1" y="294.6" style="font-family:'Liberation Sans',sans-serif;font-size:17px" text-anchor="middle">800</text>
<text x="278.9" y="294.6" style="font-family:'Liberation Sans',sans-serif;font-size:17px" text-anchor="middle">1000</text>
<text x="342.5" y="294.6" style="font-family:'Liberation Sans',sans-serif;font-size:17px" text-anchor="middle">400</text>
<text x="417.3" y="294.6" style="font-family:'Liberation Sans',sans-serif;font-size:17px" text-anchor="middle">600</text>
<text x="492.1" y="294.6" style="font-family:'Liberation Sans',sans-serif;font-size:17px" text-anchor="middle">800</text>
<text x="566.9" y="294.6" style="font-family:'Liberation Sans',sans-serif;font-size:17px" text-anchor="middle">1000</text>
<text x="634.2" y="29.4" style="font-family:'Liberation Sans',sans-serif;font-size:17px" text-anchor="start">2</text>
<text x="634.2" y="92.6" style="font-family:'Liberation Sans',sans-serif;font-size:17px" text-anchor="start">1</text>
<text x="634.2" y="155.6" style="font-family:'Liberation Sans',sans-serif;font-size:17px" text-anchor="start">0</text>
<text x="634.2" y="219.7" style="font-family:'Liberation Sans',sans-serif;font-size:17px" text-anchor="start">1</text>
<text x="634.2" y="282.7" style="font-family:'Liberation Sans',sans-serif;font-size:17px" text-anchor="start">0</text>
<text x="172.5" y="17" style="font-family:'Liberation Serif',serif;font-size:23px" text-anchor="middle"><tspan style="font-style:italic">p</tspan>-polarization</text>
<text x="446.5" y="17" style="font-family:'Liberation Serif',serif;font-size:23px" text-anchor="middle"><tspan style="font-style:italic">s</tspan>-polarization</text>
<text x="339.6" y="47.4" style="font-family:'Liberation Serif',serif;font-size:24px" text-anchor="end">(a)</text>
<text x="340.5" y="167.8" style="font-family:'Liberation Serif',serif;font-size:24px" text-anchor="end">(b)</text>
<text x="631.1" y="48.2" style="font-family:'Liberation Serif',serif;font-size:24px" text-anchor="end">(c)</text>
<text x="632.6" y="168.3" style="font-family:'Liberation Serif',serif;font-size:24px" text-anchor="end">(d)</text>
<text x="205" y="316.3" style="font-family:'Liberation Serif',serif;font-size:24px" text-anchor="middle"><tspan style="font-style:italic">λ</tspan>(nm)</text>
<text x="493" y="316.3" style="font-family:'Liberation Serif',serif;font-size:24px" text-anchor="middle"><tspan style="font-style:italic">λ</tspan>(nm)</text>
<text transform="translate(14.3,101.6) rotate(-90) scale(1.22,1)" style="font-family:'Liberation Serif',serif;font-size:24px;font-style:italic" text-anchor="middle">η</text>
<text transform="translate(22.5,95.6) rotate(-90)" style="font-family:'Liberation Serif',serif;font-size:14.5px" text-anchor="start">top</text>
<text transform="translate(13.2,229.0) rotate(-90) scale(1.22,1)" style="font-family:'Liberation Serif',serif;font-size:24px;font-style:italic" text-anchor="middle">η</text>
<text transform="translate(25,222.8) rotate(-90)" style="font-family:'Liberation Serif',serif;font-size:14.5px" text-anchor="start">bot</text>
<text transform="translate(657.1,78) rotate(90)" style="font-family:'Liberation Serif',serif;font-size:17px" text-anchor="start"><tspan style="font-style:italic">I</tspan><tspan dy="8.8" style="font-size:12.5px">AM1.5</tspan></text>
<text transform="translate(657.1,120.2) rotate(90)" style="font-family:'Liberation Serif',serif;font-size:17px" text-anchor="start" textLength="77.6" lengthAdjust="spacing">(W/m<tspan dy="-6.3" style="font-size:11px">2</tspan><tspan dy="6.3">/nm)</tspan></text>
<text x="118.3" y="497.6" style="font-family:'Liberation Serif',serif;font-size:20px" text-anchor="middle">Combined</text>
<text x="268.3" y="497.6" style="font-family:'Liberation Serif',serif;font-size:20px" text-anchor="middle">Nanocone-based</text>
<text x="416.9" y="497.6" style="font-family:'Liberation Serif',serif;font-size:20px" text-anchor="middle">Nanowire-based</text>
<text x="566.8" y="497.6" style="font-family:'Liberation Serif',serif;font-size:20px" text-anchor="middle">Planar</text>
<rect x="53.2" y="327.3" width="136.6" height="177.3" fill="none" stroke="#e3191c" stroke-width="2.1"/>
<rect x="200.4" y="327.3" width="135.8" height="177.3" fill="none" stroke="#ee82ee" stroke-width="2.1"/>
<rect x="348.2" y="327.3" width="135.7" height="176.7" fill="none" stroke="#1f7f1f" stroke-width="2.1"/>
<rect x="496.7" y="327.3" width="135.9" height="176.9" fill="none" stroke="#1a1af0" stroke-width="2.1"/>
<rect x="69" y="453.9" width="102.7" height="4.4" fill="#a79a3a"/>
<rect x="69" y="458.3" width="102.7" height="7.4" fill="#a7292c"/>
<rect x="69" y="465.7" width="102.7" height="7" fill="#a79a3a"/>
<path d="M78.7 458.3 L78.7 384 L78.7 382.7 L78.7 381.4 L78.7 380.2 L78.8 378.9 L78.8 377.6 L78.8 376.3 L78.9 375 L78.9 373.7 L79 372.5 L79.1 371.2 L79.2 369.9 L79.3 368.6 L79.4 367.3 L79.6 366.1 L79.7 364.8 L79.9 363.5 L80.1 362.2 L80.4 360.9 L80.6 359.6 L80.9 358.4 L81.2 357.1 L81.5 355.8 L81.9 354.5 L82.3 353.2 L82.7 351.9 L83.2 350.7 L83.6 349.4 L84.1 348.1 L84.6 346.8 L85.2 345.5 L85.7 344.3 L86.3 343 L87 341.7 L87.7 340.4 L88.4 339.1 L89.1 337.8 L89.9 336.6 L90.7 335.3 L91.6 334 L91.6 334 L92.5 335.3 L93.3 336.6 L94.1 337.8 L94.8 339.1 L95.5 340.4 L96.2 341.7 L96.9 343 L97.5 344.3 L98 345.5 L98.6 346.8 L99.1 348.1 L99.6 349.4 L100 350.7 L100.5 351.9 L100.9 353.2 L101.3 354.5 L101.7 355.8 L102 357.1 L102.3 358.4 L102.6 359.6 L102.8 360.9 L103.1 362.2 L103.3 363.5 L103.5 364.8 L103.6 366.1 L103.8 367.3 L103.9 368.6 L104 369.9 L104.1 371.2 L104.2 372.5 L104.3 373.7 L104.3 375 L104.4 376.3 L104.4 377.6 L104.4 378.9 L104.5 380.2 L104.5 381.4 L104.5 382.7 L104.5 384 L104.5 458.3Z" fill="#a79a3a"/>
<path d="M83 465.7 L83 386.8 L83 385.6 L83 384.5 L83 383.3 L83 382.2 L83 381 L83.1 379.9 L83.1 378.7 L83.1 377.6 L83.1 376.4 L83.1 375.3 L83.2 374.1 L83.2 373 L83.3 371.8 L83.3 370.6 L83.4 369.5 L83.5 368.3 L83.6 367.2 L83.6 366 L83.7 364.9 L83.9 363.7 L84 362.6 L84.2 361.4 L84.4 360.3 L84.6 359.1 L84.8 358 L85.1 356.8 L85.3 355.6 L85.7 354.5 L86 353.3 L86.3 352.2 L86.7 351 L87.1 349.9 L87.6 348.7 L88.1 347.6 L88.6 346.4 L89.3 345.3 L90 344.1 L90.8 343 L91.6 341.8 L91.6 341.8 L92.4 343 L93.2 344.1 L93.9 345.3 L94.6 346.4 L95.1 347.6 L95.6 348.7 L96.1 349.9 L96.5 351 L96.9 352.2 L97.2 353.3 L97.5 354.5 L97.9 355.6 L98.1 356.8 L98.4 358 L98.6 359.1 L98.8 360.3 L99 361.4 L99.2 362.6 L99.3 363.7 L99.5 364.9 L99.6 366 L99.6 367.2 L99.7 368.3 L99.8 369.5 L99.9 370.6 L99.9 371.8 L100 373 L100 374.1 L100.1 375.3 L100.1 376.4 L100.1 377.6 L100.1 378.7 L100.1 379.9 L100.2 381 L100.2 382.2 L100.2 383.3 L100.2 384.5 L100.2 385.6 L100.2 386.8 L100.2 465.7Z" fill="#a7292c"/>
<path d="M107.7 458.3 L107.7 384 L107.7 382.7 L107.7 381.4 L107.7 380.2 L107.8 378.9 L107.8 377.6 L107.8 376.3 L107.9 375 L107.9 373.7 L108 372.5 L108.1 371.2 L108.2 369.9 L108.3 368.6 L108.4 367.3 L108.6 366.1 L108.7 364.8 L108.9 363.5 L109.1 362.2 L109.4 360.9 L109.6 359.6 L109.9 358.4 L110.2 357.1 L110.5 355.8 L110.9 354.5 L111.3 353.2 L111.7 351.9 L112.2 350.7 L112.6 349.4 L113.1 348.1 L113.6 346.8 L114.2 345.5 L114.7 344.3 L115.3 343 L116 341.7 L116.7 340.4 L117.4 339.1 L118.1 337.8 L118.9 336.6 L119.7 335.3 L120.6 334 L120.6 334 L121.5 335.3 L122.3 336.6 L123.1 337.8 L123.8 339.1 L124.5 340.4 L125.2 341.7 L125.9 343 L126.5 344.3 L127 345.5 L127.6 346.8 L128.1 348.1 L128.6 349.4 L129 350.7 L129.5 351.9 L129.9 353.2 L130.3 354.5 L130.7 355.8 L131 357.1 L131.3 358.4 L131.6 359.6 L131.8 360.9 L132.1 362.2 L132.3 363.5 L132.5 364.8 L132.6 366.1 L132.8 367.3 L132.9 368.6 L133 369.9 L133.1 371.2 L133.2 372.5 L133.3 373.7 L133.3 375 L133.4 376.3 L133.4 377.6 L133.4 378.9 L133.5 380.2 L133.5 381.4 L133.5 382.7 L133.5 384 L133.5 458.3Z" fill="#a79a3a"/>
<path d="M112 465.7 L112 386.8 L112 385.6 L112 384.5 L112 383.3 L112 382.2 L112 381 L112.1 379.9 L112.1 378.7 L112.1 377.6 L112.1 376.4 L112.1 375.3 L112.2 374.1 L112.2 373 L112.3 371.8 L112.3 370.6 L112.4 369.5 L112.5 368.3 L112.6 367.2 L112.6 366 L112.7 364.9 L112.9 363.7 L113 362.6 L113.2 361.4 L113.4 360.3 L113.6 359.1 L113.8 358 L114.1 356.8 L114.3 355.6 L114.7 354.5 L115 353.3 L115.3 352.2 L115.7 351 L116.1 349.9 L116.6 348.7 L117.1 347.6 L117.6 346.4 L118.3 345.3 L119 344.1 L119.8 343 L120.6 341.8 L120.6 341.8 L121.4 343 L122.2 344.1 L122.9 345.3 L123.6 346.4 L124.1 347.6 L124.6 348.7 L125.1 349.9 L125.5 351 L125.9 352.2 L126.2 353.3 L126.5 354.5 L126.9 355.6 L127.1 356.8 L127.4 358 L127.6 359.1 L127.8 360.3 L128 361.4 L128.2 362.6 L128.3 363.7 L128.5 364.9 L128.6 366 L128.6 367.2 L128.7 368.3 L128.8 369.5 L128.9 370.6 L128.9 371.8 L129 373 L129 374.1 L129.1 375.3 L129.1 376.4 L129.1 377.6 L129.1 378.7 L129.1 379.9 L129.2 381 L129.2 382.2 L129.2 383.3 L129.2 384.5 L129.2 385.6 L129.2 386.8 L129.2 465.7Z" fill="#a7292c"/>
<path d="M136.7 458.3 L136.7 384 L136.7 382.7 L136.7 381.4 L136.7 380.2 L136.8 378.9 L136.8 377.6 L136.8 376.3 L136.9 375 L136.9 373.7 L137 372.5 L137.1 371.2 L137.2 369.9 L137.3 368.6 L137.4 367.3 L137.6 366.1 L137.7 364.8 L137.9 363.5 L138.1 362.2 L138.4 360.9 L138.6 359.6 L138.9 358.4 L139.2 357.1 L139.5 355.8 L139.9 354.5 L140.3 353.2 L140.7 351.9 L141.2 350.7 L141.6 349.4 L142.1 348.1 L142.6 346.8 L143.2 345.5 L143.7 344.3 L144.3 343 L145 341.7 L145.7 340.4 L146.4 339.1 L147.1 337.8 L147.9 336.6 L148.7 335.3 L149.6 334 L149.6 334 L150.5 335.3 L151.3 336.6 L152.1 337.8 L152.8 339.1 L153.5 340.4 L154.2 341.7 L154.9 343 L155.5 344.3 L156 345.5 L156.6 346.8 L157.1 348.1 L157.6 349.4 L158 350.7 L158.5 351.9 L158.9 353.2 L159.3 354.5 L159.7 355.8 L160 357.1 L160.3 358.4 L160.6 359.6 L160.8 360.9 L161.1 362.2 L161.3 363.5 L161.5 364.8 L161.6 366.1 L161.8 367.3 L161.9 368.6 L162 369.9 L162.1 371.2 L162.2 372.5 L162.3 373.7 L162.3 375 L162.4 376.3 L162.4 377.6 L162.4 378.9 L162.5 380.2 L162.5 381.4 L162.5 382.7 L162.5 384 L162.5 458.3Z" fill="#a79a3a"/>
<path d="M141 465.7 L141 386.8 L141 385.6 L141 384.5 L141 383.3 L141 382.2 L141 381 L141.1 379.9 L141.1 378.7 L141.1 377.6 L141.1 376.4 L141.1 375.3 L141.2 374.1 L141.2 373 L141.3 371.8 L141.3 370.6 L141.4 369.5 L141.5 368.3 L141.6 367.2 L141.6 366 L141.7 364.9 L141.9 363.7 L142 362.6 L142.2 361.4 L142.4 360.3 L142.6 359.1 L142.8 358 L143.1 356.8 L143.3 355.6 L143.7 354.5 L144 353.3 L144.3 352.2 L144.7 351 L145.1 349.9 L145.6 348.7 L146.1 347.6 L146.6 346.4 L147.3 345.3 L148 344.1 L148.8 343 L149.6 341.8 L149.6 341.8 L150.4 343 L151.2 344.1 L151.9 345.3 L152.6 346.4 L153.1 347.6 L153.6 348.7 L154.1 349.9 L154.5 351 L154.9 352.2 L155.2 353.3 L155.5 354.5 L155.9 355.6 L156.1 356.8 L156.4 358 L156.6 359.1 L156.8 360.3 L157 361.4 L157.2 362.6 L157.3 363.7 L157.5 364.9 L157.6 366 L157.6 367.2 L157.7 368.3 L157.8 369.5 L157.9 370.6 L157.9 371.8 L158 373 L158 374.1 L158.1 375.3 L158.1 376.4 L158.1 377.6 L158.1 378.7 L158.1 379.9 L158.2 381 L158.2 382.2 L158.2 383.3 L158.2 384.5 L158.2 385.6 L158.2 386.8 L158.2 465.7Z" fill="#a7292c"/>
<rect x="217.4" y="451.2" width="104.2" height="4.7" fill="#a79a3a"/>
<rect x="217.4" y="455.9" width="104.2" height="7.1" fill="#a7292c"/>
<rect x="217.4" y="463" width="104.2" height="7.4" fill="#a79a3a"/>
<path d="M226.3 455.9 L226.3 451 L226.4 450.1 L226.5 449.1 L226.7 448.2 L226.8 447.2 L226.9 446.3 L227 445.4 L227.1 444.4 L227.3 443.5 L227.4 442.6 L227.6 441.6 L227.7 440.7 L227.9 439.7 L228.1 438.8 L228.3 437.9 L228.6 436.9 L228.8 436 L229 435 L229.3 434.1 L229.6 433.2 L229.9 432.2 L230.2 431.3 L230.6 430.4 L230.9 429.4 L231.3 428.5 L231.7 427.5 L232.1 426.6 L232.5 425.7 L232.9 424.7 L233.4 423.8 L233.9 422.8 L234.5 421.9 L235.1 421 L235.7 420 L236.3 419.1 L237 418.2 L237.6 417.2 L238.3 416.3 L238.9 415.3 L239.6 414.4 L239.6 414.4 L240.3 415.3 L240.9 416.3 L241.6 417.2 L242.2 418.2 L242.9 419.1 L243.5 420 L244.1 421 L244.7 421.9 L245.3 422.8 L245.8 423.8 L246.3 424.7 L246.7 425.7 L247.1 426.6 L247.5 427.5 L247.9 428.5 L248.3 429.4 L248.6 430.4 L249 431.3 L249.3 432.2 L249.6 433.2 L249.9 434.1 L250.2 435 L250.4 436 L250.6 436.9 L250.9 437.9 L251.1 438.8 L251.3 439.7 L251.5 440.7 L251.6 441.6 L251.8 442.6 L251.9 443.5 L252.1 444.4 L252.2 445.4 L252.3 446.3 L252.4 447.2 L252.5 448.2 L252.7 449.1 L252.8 450.1 L252.9 451 L252.9 455.9Z" fill="#a79a3a"/>
<path d="M231.2 463 L231.2 455.8 L231.2 455 L231.2 454.1 L231.3 453.3 L231.3 452.4 L231.3 451.6 L231.4 450.7 L231.4 449.9 L231.5 449 L231.6 448.2 L231.6 447.3 L231.7 446.5 L231.8 445.6 L231.9 444.8 L232 444 L232.1 443.1 L232.2 442.3 L232.3 441.4 L232.4 440.6 L232.6 439.7 L232.7 438.9 L232.9 438 L233 437.2 L233.2 436.3 L233.4 435.5 L233.6 434.6 L233.8 433.8 L234.1 433 L234.4 432.1 L234.6 431.3 L235 430.4 L235.3 429.6 L235.7 428.7 L236.1 427.9 L236.6 427 L237.1 426.2 L237.7 425.3 L238.3 424.5 L238.9 423.6 L239.6 422.8 L239.6 422.8 L240.3 423.6 L240.9 424.5 L241.5 425.3 L242.1 426.2 L242.6 427 L243.1 427.9 L243.5 428.7 L243.9 429.6 L244.2 430.4 L244.6 431.3 L244.8 432.1 L245.1 433 L245.4 433.8 L245.6 434.6 L245.8 435.5 L246 436.3 L246.2 437.2 L246.3 438 L246.5 438.9 L246.6 439.7 L246.8 440.6 L246.9 441.4 L247 442.3 L247.1 443.1 L247.2 444 L247.3 444.8 L247.4 445.6 L247.5 446.5 L247.6 447.3 L247.6 448.2 L247.7 449 L247.8 449.9 L247.8 450.7 L247.9 451.6 L247.9 452.4 L247.9 453.3 L248 454.1 L248 455 L248 455.8 L248 463Z" fill="#a7292c"/>
<path d="M255.4 455.9 L255.4 451 L255.5 450.1 L255.6 449.1 L255.8 448.2 L255.9 447.2 L256 446.3 L256.1 445.4 L256.2 444.4 L256.4 443.5 L256.5 442.6 L256.7 441.6 L256.8 440.7 L257 439.7 L257.2 438.8 L257.4 437.9 L257.7 436.9 L257.9 436 L258.1 435 L258.4 434.1 L258.7 433.2 L259 432.2 L259.3 431.3 L259.7 430.4 L260 429.4 L260.4 428.5 L260.8 427.5 L261.2 426.6 L261.6 425.7 L262 424.7 L262.5 423.8 L263 422.8 L263.6 421.9 L264.2 421 L264.8 420 L265.4 419.1 L266.1 418.2 L266.7 417.2 L267.4 416.3 L268 415.3 L268.7 414.4 L268.7 414.4 L269.4 415.3 L270 416.3 L270.7 417.2 L271.3 418.2 L272 419.1 L272.6 420 L273.2 421 L273.8 421.9 L274.4 422.8 L274.9 423.8 L275.4 424.7 L275.8 425.7 L276.2 426.6 L276.6 427.5 L277 428.5 L277.4 429.4 L277.7 430.4 L278.1 431.3 L278.4 432.2 L278.7 433.2 L279 434.1 L279.3 435 L279.5 436 L279.7 436.9 L280 437.9 L280.2 438.8 L280.4 439.7 L280.6 440.7 L280.7 441.6 L280.9 442.6 L281 443.5 L281.2 444.4 L281.3 445.4 L281.4 446.3 L281.5 447.2 L281.6 448.2 L281.8 449.1 L281.9 450.1 L282 451 L282 455.9Z" fill="#a79a3a"/>
<path d="M260.3 463 L260.3 455.8 L260.3 455 L260.3 454.1 L260.4 453.3 L260.4 452.4 L260.4 451.6 L260.5 450.7 L260.5 449.9 L260.6 449 L260.7 448.2 L260.7 447.3 L260.8 446.5 L260.9 445.6 L261 444.8 L261.1 444 L261.2 443.1 L261.3 442.3 L261.4 441.4 L261.5 440.6 L261.7 439.7 L261.8 438.9 L262 438 L262.1 437.2 L262.3 436.3 L262.5 435.5 L262.7 434.6 L262.9 433.8 L263.2 433 L263.5 432.1 L263.7 431.3 L264.1 430.4 L264.4 429.6 L264.8 428.7 L265.2 427.9 L265.7 427 L266.2 426.2 L266.8 425.3 L267.4 424.5 L268 423.6 L268.7 422.8 L268.7 422.8 L269.4 423.6 L270 424.5 L270.6 425.3 L271.2 426.2 L271.7 427 L272.2 427.9 L272.6 428.7 L273 429.6 L273.3 430.4 L273.7 431.3 L273.9 432.1 L274.2 433 L274.5 433.8 L274.7 434.6 L274.9 435.5 L275.1 436.3 L275.3 437.2 L275.4 438 L275.6 438.9 L275.7 439.7 L275.9 440.6 L276 441.4 L276.1 442.3 L276.2 443.1 L276.3 444 L276.4 444.8 L276.5 445.6 L276.6 446.5 L276.7 447.3 L276.7 448.2 L276.8 449 L276.9 449.9 L276.9 450.7 L277 451.6 L277 452.4 L277 453.3 L277.1 454.1 L277.1 455 L277.1 455.8 L277.1 463Z" fill="#a7292c"/>
<path d="M284.5 455.9 L284.5 451 L284.6 450.1 L284.7 449.1 L284.9 448.2 L285 447.2 L285.1 446.3 L285.2 445.4 L285.3 444.4 L285.5 443.5 L285.6 442.6 L285.8 441.6 L285.9 440.7 L286.1 439.7 L286.3 438.8 L286.5 437.9 L286.8 436.9 L287 436 L287.2 435 L287.5 434.1 L287.8 433.2 L288.1 432.2 L288.4 431.3 L288.8 430.4 L289.1 429.4 L289.5 428.5 L289.9 427.5 L290.3 426.6 L290.7 425.7 L291.1 424.7 L291.6 423.8 L292.1 422.8 L292.7 421.9 L293.3 421 L293.9 420 L294.5 419.1 L295.2 418.2 L295.8 417.2 L296.5 416.3 L297.1 415.3 L297.8 414.4 L297.8 414.4 L298.5 415.3 L299.1 416.3 L299.8 417.2 L300.4 418.2 L301.1 419.1 L301.7 420 L302.3 421 L302.9 421.9 L303.5 422.8 L304 423.8 L304.5 424.7 L304.9 425.7 L305.3 426.6 L305.7 427.5 L306.1 428.5 L306.5 429.4 L306.8 430.4 L307.2 431.3 L307.5 432.2 L307.8 433.2 L308.1 434.1 L308.4 435 L308.6 436 L308.8 436.9 L309.1 437.9 L309.3 438.8 L309.5 439.7 L309.7 440.7 L309.8 441.6 L310 442.6 L310.1 443.5 L310.3 444.4 L310.4 445.4 L310.5 446.3 L310.6 447.2 L310.7 448.2 L310.9 449.1 L311 450.1 L311.1 451 L311.1 455.9Z" fill="#a79a3a"/>
<path d="M289.4 463 L289.4 455.8 L289.4 455 L289.4 454.1 L289.5 453.3 L289.5 452.4 L289.5 451.6 L289.6 450.7 L289.6 449.9 L289.7 449 L289.8 448.2 L289.8 447.3 L289.9 446.5 L290 445.6 L290.1 444.8 L290.2 444 L290.3 443.1 L290.4 442.3 L290.5 441.4 L290.6 440.6 L290.8 439.7 L290.9 438.9 L291.1 438 L291.2 437.2 L291.4 436.3 L291.6 435.5 L291.8 434.6 L292 433.8 L292.3 433 L292.6 432.1 L292.8 431.3 L293.2 430.4 L293.5 429.6 L293.9 428.7 L294.3 427.9 L294.8 427 L295.3 426.2 L295.9 425.3 L296.5 424.5 L297.1 423.6 L297.8 422.8 L297.8 422.8 L298.5 423.6 L299.1 424.5 L299.7 425.3 L300.3 426.2 L300.8 427 L301.3 427.9 L301.7 428.7 L302.1 429.6 L302.4 430.4 L302.8 431.3 L303 432.1 L303.3 433 L303.6 433.8 L303.8 434.6 L304 435.5 L304.2 436.3 L304.4 437.2 L304.5 438 L304.7 438.9 L304.8 439.7 L305 440.6 L305.1 441.4 L305.2 442.3 L305.3 443.1 L305.4 444 L305.5 444.8 L305.6 445.6 L305.7 446.5 L305.8 447.3 L305.8 448.2 L305.9 449 L306 449.9 L306 450.7 L306.1 451.6 L306.1 452.4 L306.1 453.3 L306.2 454.1 L306.2 455 L306.2 455.8 L306.2 463Z" fill="#a7292c"/>
<rect x="363.7" y="452.4" width="109.2" height="5.2" fill="#a79a3a"/>
<rect x="363.7" y="457.6" width="109.2" height="6.7" fill="#a7292c"/>
<rect x="363.7" y="464.3" width="109.2" height="7.3" fill="#a79a3a"/>
<rect x="376.3" y="369.8" width="25.6" height="87.8" fill="#a79a3a"/>
<rect x="380.5" y="374.5" width="17.3" height="89.8" fill="#a7292c"/>
<rect x="405.9" y="369.8" width="25.6" height="87.8" fill="#a79a3a"/>
<rect x="410.1" y="374.5" width="17.3" height="89.8" fill="#a7292c"/>
<rect x="435.5" y="369.8" width="25.6" height="87.8" fill="#a79a3a"/>
<rect x="439.7" y="374.5" width="17.3" height="89.8" fill="#a7292c"/>
<rect x="523.1" y="452.9" width="82.7" height="4.8" fill="#a79a3a"/>
<rect x="523.1" y="457.7" width="82.7" height="7.3" fill="#a7292c"/>
<rect x="523.1" y="465" width="82.7" height="6.2" fill="#a79a3a"/></svg>
</body></html>
